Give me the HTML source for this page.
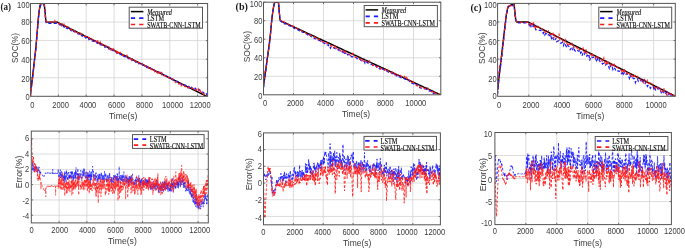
<!DOCTYPE html>
<html><head><meta charset="utf-8"><style>
html,body{margin:0;padding:0;background:#fff;width:685px;height:248px;overflow:hidden;font-family:"Liberation Sans",sans-serif;}
svg{display:block;filter:blur(0.3px);}
</style></head><body>
<svg width="685" height="248" viewBox="0 0 685 248">
<rect width="685" height="248" fill="#fff"/>
<clipPath id="ca"><rect x="30.5" y="3.5" width="177.1" height="92.8"/></clipPath>
<line x1="58.35" y1="3.5" x2="58.35" y2="96.3" stroke="#d3d3d3" stroke-width="0.8"/>
<line x1="86.2" y1="3.5" x2="86.2" y2="96.3" stroke="#d3d3d3" stroke-width="0.8"/>
<line x1="114.05" y1="3.5" x2="114.05" y2="96.3" stroke="#d3d3d3" stroke-width="0.8"/>
<line x1="141.9" y1="3.5" x2="141.9" y2="96.3" stroke="#d3d3d3" stroke-width="0.8"/>
<line x1="169.75" y1="3.5" x2="169.75" y2="96.3" stroke="#d3d3d3" stroke-width="0.8"/>
<line x1="197.6" y1="3.5" x2="197.6" y2="96.3" stroke="#d3d3d3" stroke-width="0.8"/>
<line x1="30.5" y1="77.74" x2="207.6" y2="77.74" stroke="#d3d3d3" stroke-width="0.8"/>
<line x1="30.5" y1="59.18" x2="207.6" y2="59.18" stroke="#d3d3d3" stroke-width="0.8"/>
<line x1="30.5" y1="40.62" x2="207.6" y2="40.62" stroke="#d3d3d3" stroke-width="0.8"/>
<line x1="30.5" y1="22.06" x2="207.6" y2="22.06" stroke="#d3d3d3" stroke-width="0.8"/>
<polyline points="30.5,93.5 30.6,92.4 30.8,91.2 30.9,90 31.1,88.9 31.2,87.7 31.3,86.6 31.5,85.4 31.6,84.2 31.8,83.1 31.9,81.9 32,80.8 32.2,79.6 32.3,78.4 32.4,77.3 32.6,76.1 32.7,75 32.9,73.8 33,72.6 33.1,71.5 33.3,70.3 33.4,69.1 33.6,67.8 33.7,66.6 33.8,65.4 34,64.1 34.1,62.9 34.3,61.7 34.4,60.4 34.5,59.2 34.7,57.9 34.8,56.7 35,55.5 35.1,54.2 35.2,53 35.4,51.8 35.5,50.5 35.7,49.3 35.8,48 35.9,46.8 36.1,45.3 36.2,43.7 36.3,42 36.5,40.3 36.6,38.6 36.8,36.9 36.9,35.2 37,33.5 37.2,31.8 37.3,30.2 37.5,28.5 37.6,26.8 37.7,25.1 37.9,23.4 38,21.7 38.2,20 38.3,18.3 38.4,17.2 38.6,16 38.7,14.9 38.9,13.7 39,12.5 39.1,11.4 39.3,10.2 39.4,9.1 39.6,8.4 39.7,7.7 39.8,7 40,6.3 40.1,5.6 40.2,4.9 40.4,4.7 40.5,4.4 40.7,4.2 40.8,4 40.9,3.7 41.1,3.5 41.2,3.5 41.4,3.5 41.5,3.5 41.6,3.5 41.8,3.5 41.9,3.5 42.1,3.5 42.2,3.5 42.3,3.5 42.5,3.5 42.6,3.5 42.8,3.5 42.9,3.5 43,3.5 43.2,3.5 43.3,3.5 43.5,3.5 43.6,3.5 43.7,3.5 43.9,3.5 44,3.5 44.1,3.5 44.3,4.7 44.4,6 44.6,7.2 44.7,8.4 44.8,9.7 45,10.9 45.1,12.5 45.3,14 45.4,15.6 45.5,17.1 45.7,18.7 45.8,20.2 46,20.7 46.1,21.1 46.2,21.6 46.4,22.1 46.5,22.1 46.7,22.1 46.8,22.1 46.9,22.1 47.1,22.1 47.2,22.1 47.3,22.1 47.5,22.1 47.6,22.1 47.8,22.1 47.9,22.1 48,22.1 48.2,22.1 48.3,22.1 48.5,22.1 48.6,22.1 48.7,22.1 48.9,22.1 49,22.1 49.2,22.1 49.3,22.1 49.4,22.1 49.6,22.1 49.7,22.1 49.9,22.1 50,22.1 50.1,22.1 50.3,22.1 50.4,22.1 50.6,22.1 50.7,22.1 50.8,22.1 51,22.1 51.1,22.1 51.2,22.1 51.4,22.1 51.5,22.1 51.7,22.1 51.8,22.1 51.9,22.1 52.1,22.1 52.2,22.1 52.4,22.1 52.5,22.1 52.6,22.1 52.8,22.1 52.9,22.1 53.1,22.1 53.2,22.1 53.3,22.1 53.5,22.1 53.6,22.1 53.8,22.1 53.9,22.1 54,22.1 54.2,22.1 54.3,22.1 54.5,22.1 54.6,22.1 54.7,22.1 54.9,22.1 55,22.1 55.1,22.1 55.3,22.1 55.4,22.1 55.6,22.1 55.7,22.1 55.8,22.1 56,22.1 56.1,22.1 56.3,22.1 56.4,22.1 56.5,22.1 56.7,22.1 56.8,22.1 57,22.1 57.1,22.1 57.2,22.2 57.4,22.3 57.5,22.3 57.7,22.4 57.8,22.5 57.9,22.5 58.1,22.6 58.2,22.7 58.4,22.8 58.5,22.8 58.6,22.9 58.8,23 58.9,23 59,23.1 59.2,23.2 59.3,23.2 59.5,23.3 59.6,23.4 59.7,23.4 59.9,23.5 60,23.6 60.2,23.6 60.3,23.7 60.4,23.8 60.6,23.9 60.7,23.9 60.9,24 61,24.1 61.1,24.1 61.3,24.2 61.4,24.3 61.6,24.3 61.7,24.4 61.8,24.5 62,24.5 62.1,24.6 62.2,24.7 62.4,24.8 62.5,24.8 62.7,24.9 62.8,25 62.9,25 63.1,25.1 63.2,25.2 63.4,25.2 63.5,25.3 63.6,25.4 63.8,25.4 63.9,25.5 64.1,25.6 64.2,25.7 64.3,25.7 64.5,25.8 64.6,25.9 64.8,25.9 64.9,26 65,26.1 65.2,26.1 65.3,26.2 65.5,26.3 65.6,26.3 65.7,26.4 65.9,26.5 66,26.5 66.1,26.6 66.3,26.7 66.4,26.8 66.6,26.8 66.7,26.9 66.8,27 67,27 67.1,27.1 67.3,27.2 67.4,27.2 67.5,27.3 67.7,27.4 67.8,27.4 68,27.5 68.1,27.6 68.2,27.7 68.4,27.7 68.5,27.8 68.7,27.9 68.8,27.9 68.9,28 69.1,28.1 69.2,28.1 69.4,28.2 69.5,28.3 69.6,28.3 69.8,28.4 69.9,28.5 70,28.6 70.2,28.6 70.3,28.7 70.5,28.8 70.6,28.8 70.7,28.9 70.9,29 71,29 71.2,29.1 71.3,29.2 71.4,29.2 71.6,29.3 71.7,29.4 71.9,29.4 72,29.5 72.1,29.6 72.3,29.7 72.4,29.7 72.6,29.8 72.7,29.9 72.8,29.9 73,30 73.1,30.1 73.3,30.1 73.4,30.2 73.5,30.3 73.7,30.3 73.8,30.4 73.9,30.5 74.1,30.6 74.2,30.6 74.4,30.7 74.5,30.8 74.6,30.8 74.8,30.9 74.9,31 75.1,31 75.2,31.1 75.3,31.2 75.5,31.2 75.6,31.3 75.8,31.4 75.9,31.5 76,31.5 76.2,31.6 76.3,31.7 76.5,31.7 76.6,31.8 76.7,31.9 76.9,31.9 77,32 77.1,32.1 77.3,32.1 77.4,32.2 77.6,32.3 77.7,32.4 77.8,32.4 78,32.5 78.1,32.6 78.3,32.6 78.4,32.7 78.5,32.8 78.7,32.8 78.8,32.9 79,33 79.1,33 79.2,33.1 79.4,33.2 79.5,33.2 79.7,33.3 79.8,33.4 79.9,33.5 80.1,33.5 80.2,33.6 80.4,33.7 80.5,33.7 80.6,33.8 80.8,33.9 80.9,33.9 81,34 81.2,34.1 81.3,34.1 81.5,34.2 81.6,34.3 81.7,34.4 81.9,34.4 82,34.5 82.2,34.6 82.3,34.6 82.4,34.7 82.6,34.8 82.7,34.8 82.9,34.9 83,35 83.1,35 83.3,35.1 83.4,35.2 83.6,35.3 83.7,35.3 83.8,35.4 84,35.5 84.1,35.5 84.3,35.6 84.4,35.7 84.5,35.7 84.7,35.8 84.8,35.9 84.9,35.9 85.1,36 85.2,36.1 85.4,36.1 85.5,36.2 85.6,36.3 85.8,36.4 85.9,36.4 86.1,36.5 86.2,36.6 86.3,36.6 86.5,36.7 86.6,36.8 86.8,36.8 86.9,36.9 87,37 87.2,37 87.3,37.1 87.5,37.2 87.6,37.3 87.7,37.3 87.9,37.4 88,37.5 88.2,37.5 88.3,37.6 88.4,37.7 88.6,37.7 88.7,37.8 88.8,37.9 89,37.9 89.1,38 89.3,38.1 89.4,38.2 89.5,38.2 89.7,38.3 89.8,38.4 90,38.4 90.1,38.5 90.2,38.6 90.4,38.6 90.5,38.7 90.7,38.8 90.8,38.8 90.9,38.9 91.1,39 91.2,39 91.4,39.1 91.5,39.2 91.6,39.3 91.8,39.3 91.9,39.4 92,39.5 92.2,39.5 92.3,39.6 92.5,39.7 92.6,39.7 92.7,39.8 92.9,39.9 93,39.9 93.2,40 93.3,40.1 93.4,40.2 93.6,40.2 93.7,40.3 93.9,40.4 94,40.4 94.1,40.5 94.3,40.6 94.4,40.6 94.6,40.7 94.7,40.8 94.8,40.8 95,40.9 95.1,41 95.3,41.1 95.4,41.1 95.5,41.2 95.7,41.3 95.8,41.3 95.9,41.4 96.1,41.5 96.2,41.5 96.4,41.6 96.5,41.7 96.6,41.7 96.8,41.8 96.9,41.9 97.1,41.9 97.2,42 97.3,42.1 97.5,42.2 97.6,42.2 97.8,42.3 97.9,42.4 98,42.4 98.2,42.5 98.3,42.6 98.5,42.6 98.6,42.7 98.7,42.8 98.9,42.8 99,42.9 99.2,43 99.3,43.1 99.4,43.1 99.6,43.2 99.7,43.3 99.8,43.3 100,43.4 100.1,43.5 100.3,43.5 100.4,43.6 100.5,43.7 100.7,43.7 100.8,43.8 101,43.9 101.1,44 101.2,44 101.4,44.1 101.5,44.2 101.7,44.2 101.8,44.3 101.9,44.4 102.1,44.4 102.2,44.5 102.4,44.6 102.5,44.6 102.6,44.7 102.8,44.8 102.9,44.8 103.1,44.9 103.2,45 103.3,45.1 103.5,45.1 103.6,45.2 103.7,45.3 103.9,45.3 104,45.4 104.2,45.5 104.3,45.5 104.4,45.6 104.6,45.7 104.7,45.7 104.9,45.8 105,45.9 105.1,46 105.3,46 105.4,46.1 105.6,46.2 105.7,46.2 105.8,46.3 106,46.4 106.1,46.4 106.3,46.5 106.4,46.6 106.5,46.6 106.7,46.7 106.8,46.8 106.9,46.9 107.1,46.9 107.2,47 107.4,47.1 107.5,47.1 107.6,47.2 107.8,47.3 107.9,47.3 108.1,47.4 108.2,47.5 108.3,47.5 108.5,47.6 108.6,47.7 108.8,47.8 108.9,47.8 109,47.9 109.2,48 109.3,48 109.5,48.1 109.6,48.2 109.7,48.2 109.9,48.3 110,48.4 110.2,48.4 110.3,48.5 110.4,48.6 110.6,48.6 110.7,48.7 110.8,48.8 111,48.9 111.1,48.9 111.3,49 111.4,49.1 111.5,49.1 111.7,49.2 111.8,49.3 112,49.3 112.1,49.4 112.2,49.5 112.4,49.5 112.5,49.6 112.7,49.7 112.8,49.8 112.9,49.8 113.1,49.9 113.2,50 113.4,50 113.5,50.1 113.6,50.2 113.8,50.2 113.9,50.3 114.1,50.4 114.2,50.4 114.3,50.5 114.5,50.6 114.6,50.7 114.7,50.7 114.9,50.8 115,50.9 115.2,50.9 115.3,51 115.4,51.1 115.6,51.1 115.7,51.2 115.9,51.3 116,51.3 116.1,51.4 116.3,51.5 116.4,51.5 116.6,51.6 116.7,51.7 116.8,51.8 117,51.8 117.1,51.9 117.3,52 117.4,52 117.5,52.1 117.7,52.2 117.8,52.2 117.9,52.3 118.1,52.4 118.2,52.4 118.4,52.5 118.5,52.6 118.6,52.7 118.8,52.7 118.9,52.8 119.1,52.9 119.2,52.9 119.3,53 119.5,53.1 119.6,53.1 119.8,53.2 119.9,53.3 120,53.3 120.2,53.4 120.3,53.5 120.5,53.6 120.6,53.6 120.7,53.7 120.9,53.8 121,53.8 121.2,53.9 121.3,54 121.4,54 121.6,54.1 121.7,54.2 121.8,54.2 122,54.3 122.1,54.4 122.3,54.4 122.4,54.5 122.5,54.6 122.7,54.7 122.8,54.7 123,54.8 123.1,54.9 123.2,54.9 123.4,55 123.5,55.1 123.7,55.1 123.8,55.2 123.9,55.3 124.1,55.3 124.2,55.4 124.4,55.5 124.5,55.6 124.6,55.6 124.8,55.7 124.9,55.8 125.1,55.8 125.2,55.9 125.3,56 125.5,56 125.6,56.1 125.7,56.2 125.9,56.2 126,56.3 126.2,56.4 126.3,56.5 126.4,56.5 126.6,56.6 126.7,56.7 126.9,56.7 127,56.8 127.1,56.9 127.3,56.9 127.4,57 127.6,57.1 127.7,57.1 127.8,57.2 128,57.3 128.1,57.3 128.3,57.4 128.4,57.5 128.5,57.6 128.7,57.6 128.8,57.7 129,57.8 129.1,57.8 129.2,57.9 129.4,58 129.5,58 129.6,58.1 129.8,58.2 129.9,58.2 130.1,58.3 130.2,58.4 130.3,58.5 130.5,58.5 130.6,58.6 130.8,58.7 130.9,58.7 131,58.8 131.2,58.9 131.3,58.9 131.5,59 131.6,59.1 131.7,59.1 131.9,59.2 132,59.3 132.2,59.4 132.3,59.4 132.4,59.5 132.6,59.6 132.7,59.6 132.8,59.7 133,59.8 133.1,59.8 133.3,59.9 133.4,60 133.5,60 133.7,60.1 133.8,60.2 134,60.3 134.1,60.3 134.2,60.4 134.4,60.5 134.5,60.5 134.7,60.6 134.8,60.7 134.9,60.7 135.1,60.8 135.2,60.9 135.4,60.9 135.5,61 135.6,61.1 135.8,61.1 135.9,61.2 136.1,61.3 136.2,61.4 136.3,61.4 136.5,61.5 136.6,61.6 136.7,61.6 136.9,61.7 137,61.8 137.2,61.8 137.3,61.9 137.4,62 137.6,62 137.7,62.1 137.9,62.2 138,62.3 138.1,62.3 138.3,62.4 138.4,62.5 138.6,62.5 138.7,62.6 138.8,62.7 139,62.7 139.1,62.8 139.3,62.9 139.4,62.9 139.5,63 139.7,63.1 139.8,63.2 140,63.2 140.1,63.3 140.2,63.4 140.4,63.4 140.5,63.5 140.6,63.6 140.8,63.6 140.9,63.7 141.1,63.8 141.2,63.8 141.3,63.9 141.5,64 141.6,64 141.8,64.1 141.9,64.2 142,64.3 142.2,64.3 142.3,64.4 142.5,64.5 142.6,64.5 142.7,64.6 142.9,64.7 143,64.7 143.2,64.8 143.3,64.9 143.4,64.9 143.6,65 143.7,65.1 143.9,65.2 144,65.2 144.1,65.3 144.3,65.4 144.4,65.4 144.5,65.5 144.7,65.6 144.8,65.6 145,65.7 145.1,65.8 145.2,65.8 145.4,65.9 145.5,66 145.7,66.1 145.8,66.1 145.9,66.2 146.1,66.3 146.2,66.3 146.4,66.4 146.5,66.5 146.6,66.5 146.8,66.6 146.9,66.7 147.1,66.7 147.2,66.8 147.3,66.9 147.5,66.9 147.6,67 147.7,67.1 147.9,67.2 148,67.2 148.2,67.3 148.3,67.4 148.4,67.4 148.6,67.5 148.7,67.6 148.9,67.6 149,67.7 149.1,67.8 149.3,67.8 149.4,67.9 149.6,68 149.7,68.1 149.8,68.1 150,68.2 150.1,68.3 150.3,68.3 150.4,68.4 150.5,68.5 150.7,68.5 150.8,68.6 151,68.7 151.1,68.7 151.2,68.8 151.4,68.9 151.5,69 151.6,69 151.8,69.1 151.9,69.2 152.1,69.2 152.2,69.3 152.3,69.4 152.5,69.4 152.6,69.5 152.8,69.6 152.9,69.6 153,69.7 153.2,69.8 153.3,69.8 153.5,69.9 153.6,70 153.7,70.1 153.9,70.1 154,70.2 154.2,70.3 154.3,70.3 154.4,70.4 154.6,70.5 154.7,70.5 154.9,70.6 155,70.7 155.1,70.7 155.3,70.8 155.4,70.9 155.5,71 155.7,71 155.8,71.1 156,71.2 156.1,71.2 156.2,71.3 156.4,71.4 156.5,71.4 156.7,71.5 156.8,71.6 156.9,71.6 157.1,71.7 157.2,71.8 157.4,71.9 157.5,71.9 157.6,72 157.8,72.1 157.9,72.1 158.1,72.2 158.2,72.3 158.3,72.3 158.5,72.4 158.6,72.5 158.8,72.5 158.9,72.6 159,72.7 159.2,72.8 159.3,72.8 159.4,72.9 159.6,73 159.7,73 159.9,73.1 160,73.2 160.1,73.2 160.3,73.3 160.4,73.4 160.6,73.4 160.7,73.5 160.8,73.6 161,73.6 161.1,73.7 161.3,73.8 161.4,73.9 161.5,73.9 161.7,74 161.8,74.1 162,74.1 162.1,74.2 162.2,74.3 162.4,74.3 162.5,74.4 162.6,74.5 162.8,74.5 162.9,74.6 163.1,74.7 163.2,74.8 163.3,74.8 163.5,74.9 163.6,75 163.8,75 163.9,75.1 164,75.2 164.2,75.2 164.3,75.3 164.5,75.4 164.6,75.4 164.7,75.5 164.9,75.6 165,75.7 165.2,75.7 165.3,75.8 165.4,75.9 165.6,75.9 165.7,76 165.9,76.1 166,76.1 166.1,76.2 166.3,76.3 166.4,76.3 166.5,76.4 166.7,76.5 166.8,76.5 167,76.6 167.1,76.7 167.2,76.8 167.4,76.8 167.5,76.9 167.7,77 167.8,77 167.9,77.1 168.1,77.2 168.2,77.2 168.4,77.3 168.5,77.4 168.6,77.4 168.8,77.5 168.9,77.6 169.1,77.7 169.2,77.7 169.3,77.8 169.5,77.9 169.6,77.9 169.8,78 169.9,78.1 170,78.1 170.2,78.2 170.3,78.3 170.4,78.3 170.6,78.4 170.7,78.5 170.9,78.6 171,78.6 171.1,78.7 171.3,78.8 171.4,78.8 171.6,78.9 171.7,79 171.8,79 172,79.1 172.1,79.2 172.3,79.2 172.4,79.3 172.5,79.4 172.7,79.4 172.8,79.5 173,79.6 173.1,79.7 173.2,79.7 173.4,79.8 173.5,79.9 173.7,79.9 173.8,80 173.9,80.1 174.1,80.1 174.2,80.2 174.3,80.3 174.5,80.3 174.6,80.4 174.8,80.5 174.9,80.6 175,80.6 175.2,80.7 175.3,80.8 175.5,80.8 175.6,80.9 175.7,81 175.9,81 176,81.1 176.2,81.2 176.3,81.2 176.4,81.3 176.6,81.4 176.7,81.5 176.9,81.5 177,81.6 177.1,81.7 177.3,81.7 177.4,81.8 177.5,81.9 177.7,81.9 177.8,82 178,82.1 178.1,82.1 178.2,82.2 178.4,82.3 178.5,82.3 178.7,82.4 178.8,82.5 178.9,82.6 179.1,82.6 179.2,82.7 179.4,82.8 179.5,82.8 179.6,82.9 179.8,83 179.9,83 180.1,83.1 180.2,83.2 180.3,83.2 180.5,83.3 180.6,83.4 180.8,83.5 180.9,83.5 181,83.6 181.2,83.7 181.3,83.7 181.4,83.8 181.6,83.9 181.7,83.9 181.9,84 182,84.1 182.1,84.1 182.3,84.2 182.4,84.3 182.6,84.4 182.7,84.4 182.8,84.5 183,84.6 183.1,84.6 183.3,84.7 183.4,84.8 183.5,84.8 183.7,84.9 183.8,85 184,85 184.1,85.1 184.2,85.2 184.4,85.3 184.5,85.3 184.7,85.4 184.8,85.5 184.9,85.5 185.1,85.6 185.2,85.7 185.3,85.7 185.5,85.8 185.6,85.9 185.8,85.9 185.9,86 186,86.1 186.2,86.1 186.3,86.2 186.5,86.3 186.6,86.4 186.7,86.4 186.9,86.5 187,86.6 187.2,86.6 187.3,86.7 187.4,86.8 187.6,86.8 187.7,86.9 187.9,87 188,87 188.1,87.1 188.3,87.2 188.4,87.3 188.6,87.3 188.7,87.4 188.8,87.5 189,87.5 189.1,87.6 189.2,87.7 189.4,87.7 189.5,87.8 189.7,87.9 189.8,87.9 189.9,88 190.1,88.1 190.2,88.2 190.4,88.2 190.5,88.3 190.6,88.4 190.8,88.4 190.9,88.5 191.1,88.6 191.2,88.6 191.3,88.7 191.5,88.8 191.6,88.8 191.8,88.9 191.9,89 192,89 192.2,89.1 192.3,89.2 192.4,89.3 192.6,89.3 192.7,89.4 192.9,89.5 193,89.5 193.1,89.6 193.3,89.7 193.4,89.7 193.6,89.8 193.7,89.9 193.8,89.9 194,90 194.1,90.1 194.3,90.2 194.4,90.2 194.5,90.3 194.7,90.4 194.8,90.4 195,90.5 195.1,90.6 195.2,90.6 195.4,90.7 195.5,90.8 195.7,90.8 195.8,90.9 195.9,91 196.1,91.1 196.2,91.1 196.3,91.2 196.5,91.3 196.6,91.3 196.8,91.4 196.9,91.5 197,91.5 197.2,91.6 197.3,91.7 197.5,91.7 197.6,91.8 197.7,91.9 197.9,91.9 198,92 198.2,92.1 198.3,92.2 198.4,92.2 198.6,92.3 198.7,92.4 198.9,92.4 199,92.5 199.1,92.6 199.3,92.6 199.4,92.7 199.6,92.8 199.7,92.8 199.8,92.9 200,93 200.1,93.1 200.2,93.1 200.4,93.2 200.5,93.3 200.7,93.3 200.8,93.4 200.9,93.5 201.1,93.5 201.2,93.6 201.4,93.7 201.5,93.7 201.6,93.8 201.8,93.9 201.9,94 202.1,94 202.2,94.1 202.3,94.2 202.5,94.2 202.6,94.3 202.8,94.4 202.9,94.4 203,94.5 203.2,94.6 203.3,94.6 203.5,94.7 203.6,94.8 203.7,94.8 203.9,94.9 204,95 204.1,95.1 204.3,95.1 204.4,95.2 204.6,95.3 204.7,95.3 204.8,95.4 205,95.5 205.1,95.5 205.3,95.6 205.4,95.7 205.5,95.7 205.7,95.8 205.8,95.9 206,96 206.1,96 206.2,96.1 206.4,96.2 206.5,96.2 206.7,96.3 206.8,96.4 206.9,96.4 207.1,96.5 207.2,96.6 207.3,96.6 207.5,96.7 207.6,96.8" fill="none" stroke="#000" stroke-width="1.4" clip-path="url(#ca)"/>
<polyline points="30.5,93.7 31,91.2 31.4,87.9 31.9,84.1 32.3,80.8 32.8,76.4 33.3,72.6 33.7,68 34.2,64.1 34.6,60.3 35.1,56.4 35.6,52 36,47.6 36.5,42.3 36.9,36.8 37.4,31.3 37.9,25.6 38.3,20.4 38.8,15.9 39.2,12.3 39.7,9.2 40.2,6.7 40.6,5.6 41.1,4.8 41.5,4.6 42,4.6 42.4,4.5 42.9,4.4 43.4,4.6 43.8,4.7 44.3,6.1 44.7,10.3 45.2,14.8 45.7,19.9 46.1,22.6 46.6,23.5 47,23.4 47.5,23.4 48,23.5 48.4,23.4 48.9,23.5 49.3,23.5 49.8,23.4 50.3,23.4 50.7,23.5 51.2,23.4 51.6,23.4 52.1,23.4 52.6,23.5 53,23.5 53.5,23.4 53.9,23.4 54.4,23.5 54.9,23.4 55.3,23.4 55.8,23.5 56.2,23.5 56.7,23.5 57.2,23.5 57.6,23.7 58.1,23.8 58.5,24 59,24 59.5,24.7 59.9,24.6 60.4,24.8 60.8,24.8 61.3,25.6 61.7,25.5 62.2,25.8 62.7,25.7 63.1,25.5 63.6,26.7 64,26.2 64.5,27.1 65,27.2 65.4,28 65.9,27.4 66.3,28.2 66.8,27.9 67.3,28.6 67.7,28.7 68.2,28.3 68.6,28.8 69.1,29 69.6,29.9 70,29.5 70.5,30.2 70.9,29.8 71.4,30.9 71.9,30.9 72.3,30.2 72.8,30.9 73.2,31.3 73.7,31.3 74.2,31.8 74.6,31.5 75.1,31.8 75.5,32.6 76,32.9 76.5,32.9 76.9,33.1 77.4,33.3 77.8,33.8 78.3,33.5 78.8,33.7 79.2,34.4 79.7,34.4 80.1,35.3 80.6,34.8 81,34.6 81.5,35.5 82,35.4 82.4,36.3 82.9,35.9 83.3,36.2 83.8,36.9 84.3,36.6 84.7,36.6 85.2,37.3 85.6,37.8 86.1,37.3 86.6,37.9 87,38.5 87.5,38.5 87.9,38 88.4,38.5 88.9,39.6 89.3,39.4 89.8,39.2 90.2,39.1 90.7,39.4 91.2,39.9 91.6,40.7 92.1,41.2 92.5,40.8 93,41.1 93.5,41.4 93.9,41.4 94.4,41 94.8,41.9 95.3,42 95.8,42.1 96.2,42.1 96.7,42 97.1,43.2 97.6,43.1 98.1,43.6 98.5,44 99,44.2 99.4,44 99.9,44 100.3,44.5 100.8,44.8 101.3,44.6 101.7,45.1 102.2,45 102.6,45.2 103.1,45.6 103.6,45.8 104,46.3 104.5,46.2 104.9,47.3 105.4,47 105.9,47 106.3,46.7 106.8,47.4 107.2,48.3 107.7,48.2 108.2,48.1 108.6,48.9 109.1,49.2 109.5,48.4 110,49 110.5,49.5 110.9,49.1 111.4,49.5 111.8,50 112.3,49.8 112.8,50.6 113.2,50.5 113.7,51.2 114.1,51.2 114.6,51.4 115.1,51.7 115.5,52.1 116,52.3 116.4,52.7 116.9,53.1 117.4,52.6 117.8,53 118.3,52.8 118.7,53.4 119.2,53.6 119.6,53.6 120.1,54.5 120.6,54.1 121,54.3 121.5,55.3 121.9,55.1 122.4,54.7 122.9,55.3 123.3,56.1 123.8,55.8 124.2,56.3 124.7,56.7 125.2,57 125.6,57.1 126.1,57.4 126.5,57.3 127,57.3 127.5,57.9 127.9,57.9 128.4,58.5 128.8,58.4 129.3,58.8 129.8,58.4 130.2,59 130.7,59.1 131.1,58.9 131.6,60.1 132.1,60.3 132.5,59.4 133,60 133.4,60.4 133.9,60.2 134.4,60.5 134.8,61.3 135.3,60.9 135.7,62.1 136.2,61.9 136.7,62.3 137.1,62.6 137.6,62.4 138,62.7 138.5,62.5 138.9,63.5 139.4,62.9 139.9,63.8 140.3,63.9 140.8,64.2 141.2,64.3 141.7,64.4 142.2,64.8 142.6,65.1 143.1,64.9 143.5,64.9 144,65.4 144.5,66.1 144.9,66.4 145.4,65.9 145.8,66.2 146.3,67 146.8,66.4 147.2,67.5 147.7,67.4 148.1,67.6 148.6,67.9 149.1,67.8 149.5,68.3 150,67.8 150.4,68 150.9,68.7 151.4,68.7 151.8,69 152.3,69.5 152.7,70 153.2,69.5 153.7,69.6 154.1,69.7 154.6,70.3 155,70.4 155.5,71.2 156,71.6 156.4,72 156.9,71.5 157.3,71.6 157.8,71.1 158.2,71.4 158.7,72.1 159.2,72.6 159.6,72.4 160.1,72.4 160.5,73 161,73.9 161.5,73.1 161.9,74.5 162.4,73.9 162.8,74.3 163.3,75 163.8,75.4 164.2,75.5 164.7,75.9 165.1,75.4 165.6,75.7 166.1,76.3 166.5,76.1 167,76.2 167.4,76.3 167.9,77.1 168.4,77 168.8,76.8 169.3,77.4 169.7,77.3 170.2,77.5 170.7,77.9 171.1,79.1 171.6,79.6 172,78.9 172.5,79.6 173,79.2 173.4,79.5 173.9,80.4 174.3,80.3 174.8,80.3 175.3,80.2 175.7,81 176.2,81.6 176.6,81.8 177.1,81.3 177.5,81.7 178,81.6 178.5,83 178.9,83.1 179.4,83.4 179.8,83.5 180.3,83.6 180.8,83.6 181.2,84.4 181.7,84.4 182.1,84.8 182.6,84.8 183.1,85.2 183.5,84.8 184,85 184.4,85.6 184.9,85 185.4,85.1 185.8,85.2 186.3,85.7 186.7,85.7 187.2,86.1 187.7,86.6 188.1,87.6 188.6,86.4 189,86.4 189.5,87.1 190,87.2 190.4,86.9 190.9,88 191.3,87.4 191.8,87.7 192.3,88.6 192.7,88.2 193.2,87.3 193.6,88.1 194.1,88.3 194.6,88.3 195,88.8 195.5,88.3 195.9,89.2 196.4,89.5 196.8,89.4 197.3,89.3 197.8,89.7 198.2,89.6 198.7,89.4 199.1,90.5 199.6,90 200.1,90.1 200.5,90.7 201,91.2 201.4,91.3 201.9,91.6 202.4,92.2 202.8,92.1 203.3,92.3 203.7,92.6 204.2,93.8 204.7,93.5 205.1,93.8 205.6,94.4 206,94.1 206.5,93.9 207,95.1 207.4,95.1" fill="none" stroke="#1a1aff" stroke-width="1.2" stroke-dasharray="3.2 2.2" clip-path="url(#ca)"/>
<polyline points="30.5,98.9 31,94.4 31.4,89.2 31.9,84.8 32.3,81 32.8,77.7 33.3,72.8 33.7,68 34.2,64.5 34.6,59.8 35.1,56.3 35.6,52.1 36,47.6 36.5,41.9 36.9,36.8 37.4,29.8 37.9,24.7 38.3,19.3 38.8,15.2 39.2,11.1 39.7,8.2 40.2,4.8 40.6,4.3 41.1,3.5 41.5,3.3 42,3.1 42.4,3 42.9,3 43.4,2.9 43.8,2.9 44.3,4 44.7,8.2 45.2,12.9 45.7,18.2 46.1,21 46.6,21.9 47,21.9 47.5,21.9 48,21.8 48.4,21.8 48.9,21.8 49.3,21.8 49.8,21.9 50.3,21.8 50.7,21.9 51.2,21.9 51.6,21.9 52.1,21.9 52.6,21.9 53,21.9 53.5,21.9 53.9,21.9 54.4,21.9 54.9,20.8 55.3,21.9 55.8,21.9 56.2,21.9 56.7,21.8 57.2,22 57.6,22.6 58.1,22.6 58.5,22.5 59,24 59.5,23.4 59.9,24.1 60.4,24 60.8,24.5 61.3,25.2 61.7,25.9 62.2,23.9 62.7,24.5 63.1,25.4 63.6,24.9 64,24.2 64.5,25.4 65,25.6 65.4,26.8 65.9,26.9 66.3,26 66.8,27.3 67.3,26.8 67.7,27 68.2,26.9 68.6,27.7 69.1,27.4 69.6,27.8 70,28.3 70.5,29.9 70.9,29.5 71.4,29.7 71.9,29.3 72.3,29.6 72.8,30.3 73.2,30.5 73.7,30.5 74.2,31.1 74.6,30.8 75.1,31.8 75.5,31 76,31.5 76.5,32.5 76.9,32.5 77.4,32.8 77.8,32.6 78.3,33.5 78.8,33.9 79.2,33 79.7,33.4 80.1,33.5 80.6,33.2 81,34 81.5,34.6 82,34.3 82.4,34.1 82.9,34.2 83.3,35.4 83.8,35.8 84.3,36 84.7,36.4 85.2,36.2 85.6,36.2 86.1,36.5 86.6,36.4 87,36.9 87.5,37.7 87.9,37.2 88.4,37.7 88.9,37.7 89.3,37.5 89.8,38.7 90.2,38 90.7,38.7 91.2,39.1 91.6,38.7 92.1,39.7 92.5,39.7 93,40 93.5,40.4 93.9,41.5 94.4,41 94.8,41 95.3,41 95.8,41.5 96.2,42 96.7,41.3 97.1,41.8 97.6,40 98.1,42.6 98.5,42.4 99,42.3 99.4,42.6 99.9,44.1 100.3,42.1 100.8,43.1 101.3,44.7 101.7,43.8 102.2,44.2 102.6,44.2 103.1,45.3 103.6,45.1 104,45 104.5,45.3 104.9,44.8 105.4,45.1 105.9,46.7 106.3,45.9 106.8,46.5 107.2,46.3 107.7,46.7 108.2,46.9 108.6,46.8 109.1,47 109.5,48.7 110,47.8 110.5,48.6 110.9,49.8 111.4,48.8 111.8,48.9 112.3,49.6 112.8,48.7 113.2,50 113.7,49 114.1,50.1 114.6,51.6 115.1,50.7 115.5,50.8 116,51.2 116.4,52 116.9,52.7 117.4,50.1 117.8,52.8 118.3,52.2 118.7,51 119.2,52.8 119.6,52.5 120.1,52.3 120.6,53.1 121,54.1 121.5,53.4 121.9,54.2 122.4,54.9 122.9,55.4 123.3,55.5 123.8,55 124.2,55.5 124.7,56.1 125.2,55.7 125.6,56.1 126.1,56.6 126.5,56.7 127,55.4 127.5,56.9 127.9,57.5 128.4,57.4 128.8,57.8 129.3,58.4 129.8,58.4 130.2,58.4 130.7,59.8 131.1,58.7 131.6,60 132.1,58.9 132.5,59.4 133,59.5 133.4,59.8 133.9,59 134.4,60.2 134.8,60.5 135.3,61.3 135.7,61.3 136.2,61.2 136.7,61.5 137.1,61 137.6,62.5 138,62.2 138.5,62.2 138.9,62.5 139.4,63 139.9,62.6 140.3,62.2 140.8,62.4 141.2,63.8 141.7,64.4 142.2,63.6 142.6,64.5 143.1,64.1 143.5,65.1 144,65.7 144.5,65.3 144.9,65.7 145.4,66.1 145.8,65.9 146.3,66.6 146.8,66.8 147.2,66.3 147.7,67.3 148.1,66.8 148.6,68.4 149.1,68 149.5,68.8 150,68.1 150.4,68.7 150.9,68.4 151.4,69 151.8,69.6 152.3,68.1 152.7,69.2 153.2,70 153.7,70.4 154.1,70 154.6,71.3 155,70 155.5,70.9 156,71.2 156.4,71.9 156.9,72.4 157.3,73.2 157.8,72 158.2,72.3 158.7,71.8 159.2,73 159.6,72.9 160.1,72.5 160.5,73.4 161,72.6 161.5,74.1 161.9,73 162.4,74.6 162.8,74.2 163.3,74.7 163.8,75.8 164.2,75.6 164.7,75.6 165.1,75.7 165.6,76.2 166.1,75.9 166.5,76.6 167,76.8 167.4,76.7 167.9,76.7 168.4,77.8 168.8,78 169.3,77.6 169.7,77.4 170.2,78.1 170.7,79.2 171.1,79.2 171.6,78.5 172,78.6 172.5,78.9 173,79.8 173.4,80.4 173.9,80.6 174.3,80.5 174.8,80.8 175.3,82.3 175.7,81.6 176.2,81.9 176.6,81.9 177.1,82.2 177.5,82.6 178,82.5 178.5,83.7 178.9,83.3 179.4,84 179.8,83.7 180.3,83.1 180.8,84.2 181.2,85.9 181.7,85.3 182.1,84.5 182.6,85.5 183.1,85.4 183.5,86.3 184,85.6 184.4,86.2 184.9,86.6 185.4,86.8 185.8,86.3 186.3,87.5 186.7,87.3 187.2,87.5 187.7,87.4 188.1,87 188.6,87.5 189,87.6 189.5,87.8 190,88.2 190.4,88.5 190.9,87.5 191.3,87.8 191.8,88.4 192.3,88.1 192.7,88.2 193.2,88.4 193.6,88.9 194.1,88.6 194.6,88.7 195,89.9 195.5,89.7 195.9,90.5 196.4,89.4 196.8,89.6 197.3,89.1 197.8,90.1 198.2,89.1 198.7,90.7 199.1,90.1 199.6,91 200.1,92.1 200.5,91.1 201,91.9 201.4,92.2 201.9,92.4 202.4,93.7 202.8,92.7 203.3,93.2 203.7,94.7 204.2,94.2 204.7,95.3 205.1,95.7 205.6,96.1 206,95.9 206.5,96.2 207,96.5 207.4,97.8" fill="none" stroke="#ff1a1a" stroke-width="1.1" stroke-dasharray="3.2 2.2" clip-path="url(#ca)" stroke-dashoffset="2.7"/>
<rect x="30.5" y="3.5" width="177.1" height="92.8" fill="none" stroke="#555555" stroke-width="1"/>
<line x1="58.35" y1="96.3" x2="58.35" y2="94.5" stroke="#555555" stroke-width="0.8"/>
<line x1="58.35" y1="3.5" x2="58.35" y2="5.3" stroke="#555555" stroke-width="0.8"/>
<line x1="86.2" y1="96.3" x2="86.2" y2="94.5" stroke="#555555" stroke-width="0.8"/>
<line x1="86.2" y1="3.5" x2="86.2" y2="5.3" stroke="#555555" stroke-width="0.8"/>
<line x1="114.05" y1="96.3" x2="114.05" y2="94.5" stroke="#555555" stroke-width="0.8"/>
<line x1="114.05" y1="3.5" x2="114.05" y2="5.3" stroke="#555555" stroke-width="0.8"/>
<line x1="141.9" y1="96.3" x2="141.9" y2="94.5" stroke="#555555" stroke-width="0.8"/>
<line x1="141.9" y1="3.5" x2="141.9" y2="5.3" stroke="#555555" stroke-width="0.8"/>
<line x1="169.75" y1="96.3" x2="169.75" y2="94.5" stroke="#555555" stroke-width="0.8"/>
<line x1="169.75" y1="3.5" x2="169.75" y2="5.3" stroke="#555555" stroke-width="0.8"/>
<line x1="197.6" y1="96.3" x2="197.6" y2="94.5" stroke="#555555" stroke-width="0.8"/>
<line x1="197.6" y1="3.5" x2="197.6" y2="5.3" stroke="#555555" stroke-width="0.8"/>
<line x1="30.5" y1="77.74" x2="32.3" y2="77.74" stroke="#555555" stroke-width="0.8"/>
<line x1="207.6" y1="77.74" x2="205.8" y2="77.74" stroke="#555555" stroke-width="0.8"/>
<line x1="30.5" y1="59.18" x2="32.3" y2="59.18" stroke="#555555" stroke-width="0.8"/>
<line x1="207.6" y1="59.18" x2="205.8" y2="59.18" stroke="#555555" stroke-width="0.8"/>
<line x1="30.5" y1="40.62" x2="32.3" y2="40.62" stroke="#555555" stroke-width="0.8"/>
<line x1="207.6" y1="40.62" x2="205.8" y2="40.62" stroke="#555555" stroke-width="0.8"/>
<line x1="30.5" y1="22.06" x2="32.3" y2="22.06" stroke="#555555" stroke-width="0.8"/>
<line x1="207.6" y1="22.06" x2="205.8" y2="22.06" stroke="#555555" stroke-width="0.8"/>
<clipPath id="cb"><rect x="263.5" y="2.2" width="177.3" height="92.6"/></clipPath>
<line x1="293.5" y1="2.2" x2="293.5" y2="94.8" stroke="#d3d3d3" stroke-width="0.8"/>
<line x1="323.5" y1="2.2" x2="323.5" y2="94.8" stroke="#d3d3d3" stroke-width="0.8"/>
<line x1="353.5" y1="2.2" x2="353.5" y2="94.8" stroke="#d3d3d3" stroke-width="0.8"/>
<line x1="383.5" y1="2.2" x2="383.5" y2="94.8" stroke="#d3d3d3" stroke-width="0.8"/>
<line x1="413.5" y1="2.2" x2="413.5" y2="94.8" stroke="#d3d3d3" stroke-width="0.8"/>
<line x1="263.5" y1="76.28" x2="440.8" y2="76.28" stroke="#d3d3d3" stroke-width="0.8"/>
<line x1="263.5" y1="57.76" x2="440.8" y2="57.76" stroke="#d3d3d3" stroke-width="0.8"/>
<line x1="263.5" y1="39.24" x2="440.8" y2="39.24" stroke="#d3d3d3" stroke-width="0.8"/>
<line x1="263.5" y1="20.72" x2="440.8" y2="20.72" stroke="#d3d3d3" stroke-width="0.8"/>
<polyline points="263.5,86.5 263.6,85.4 263.8,84.3 263.9,83.2 264.1,82.1 264.2,81 264.4,79.9 264.6,78.7 264.7,77.6 264.9,76.5 265,75.4 265.1,74.3 265.3,73.2 265.4,72.1 265.6,71 265.8,69.9 265.9,68.8 266.1,67.7 266.2,66.6 266.4,65.5 266.5,64.4 266.6,63.3 266.8,62.2 266.9,61.1 267.1,60 267.2,58.9 267.4,57.8 267.6,56.7 267.7,55.6 267.9,54.5 268,53.4 268.1,52.3 268.3,51.2 268.4,50.1 268.6,49 268.8,47.9 268.9,46.8 269.1,45.7 269.2,44.6 269.4,43.5 269.5,42.4 269.6,41.3 269.8,40.2 269.9,38.6 270.1,37.1 270.2,35.6 270.4,34.1 270.6,32.6 270.7,31 270.9,29.5 271,28 271.1,26.5 271.3,25 271.4,23.4 271.6,21.9 271.8,20.4 271.9,18.9 272.1,17.7 272.2,16.6 272.4,15.5 272.5,14.3 272.6,13.2 272.8,12.1 272.9,10.9 273.1,9.8 273.2,8.7 273.4,8 273.6,7.2 273.7,6.5 273.9,5.8 274,5 274.1,4.3 274.3,3.6 274.4,3.4 274.6,3.1 274.8,2.9 274.9,2.7 275.1,2.4 275.2,2.2 275.4,2.2 275.5,2.2 275.6,2.2 275.8,2.2 275.9,2.2 276.1,2.2 276.2,2.2 276.4,2.2 276.6,2.2 276.7,2.2 276.9,2.2 277,2.2 277.1,2.2 277.3,2.2 277.4,2.2 277.6,2.2 277.8,2.2 277.9,2.2 278.1,2.2 278.2,2.2 278.4,2.2 278.5,2.2 278.6,4.1 278.8,5.9 278.9,7.8 279.1,9.6 279.2,11.5 279.4,13.3 279.6,15.2 279.7,17 279.9,18.9 280,19.3 280.1,19.8 280.3,20.3 280.4,20.7 280.6,20.8 280.8,20.9 280.9,20.9 281.1,21 281.2,21.1 281.4,21.1 281.5,21.2 281.6,21.3 281.8,21.3 281.9,21.4 282.1,21.5 282.2,21.6 282.4,21.6 282.6,21.7 282.7,21.8 282.9,21.8 283,21.9 283.1,22 283.3,22 283.4,22.1 283.6,22.2 283.8,22.2 283.9,22.3 284.1,22.4 284.2,22.5 284.4,22.5 284.5,22.6 284.6,22.7 284.8,22.7 284.9,22.8 285.1,22.9 285.2,22.9 285.4,23 285.6,23.1 285.7,23.1 285.9,23.2 286,23.3 286.1,23.4 286.3,23.4 286.4,23.5 286.6,23.6 286.8,23.6 286.9,23.7 287.1,23.8 287.2,23.8 287.4,23.9 287.5,24 287.6,24.1 287.8,24.1 287.9,24.2 288.1,24.3 288.2,24.3 288.4,24.4 288.6,24.5 288.7,24.5 288.9,24.6 289,24.7 289.1,24.7 289.3,24.8 289.4,24.9 289.6,25 289.8,25 289.9,25.1 290.1,25.2 290.2,25.2 290.4,25.3 290.5,25.4 290.6,25.4 290.8,25.5 290.9,25.6 291.1,25.6 291.2,25.7 291.4,25.8 291.6,25.9 291.7,25.9 291.9,26 292,26.1 292.1,26.1 292.3,26.2 292.4,26.3 292.6,26.3 292.8,26.4 292.9,26.5 293.1,26.6 293.2,26.6 293.4,26.7 293.5,26.8 293.6,26.8 293.8,26.9 293.9,27 294.1,27 294.2,27.1 294.4,27.2 294.6,27.2 294.7,27.3 294.9,27.4 295,27.5 295.1,27.5 295.3,27.6 295.4,27.7 295.6,27.7 295.8,27.8 295.9,27.9 296.1,27.9 296.2,28 296.4,28.1 296.5,28.1 296.6,28.2 296.8,28.3 296.9,28.4 297.1,28.4 297.2,28.5 297.4,28.6 297.6,28.6 297.7,28.7 297.9,28.8 298,28.8 298.1,28.9 298.3,29 298.4,29.1 298.6,29.1 298.8,29.2 298.9,29.3 299.1,29.3 299.2,29.4 299.4,29.5 299.5,29.5 299.6,29.6 299.8,29.7 299.9,29.7 300.1,29.8 300.2,29.9 300.4,30 300.6,30 300.7,30.1 300.9,30.2 301,30.2 301.1,30.3 301.3,30.4 301.4,30.4 301.6,30.5 301.8,30.6 301.9,30.6 302.1,30.7 302.2,30.8 302.4,30.9 302.5,30.9 302.6,31 302.8,31.1 302.9,31.1 303.1,31.2 303.2,31.3 303.4,31.3 303.6,31.4 303.7,31.5 303.9,31.6 304,31.6 304.1,31.7 304.3,31.8 304.4,31.8 304.6,31.9 304.8,32 304.9,32 305.1,32.1 305.2,32.2 305.4,32.2 305.5,32.3 305.6,32.4 305.8,32.5 305.9,32.5 306.1,32.6 306.2,32.7 306.4,32.7 306.6,32.8 306.7,32.9 306.9,32.9 307,33 307.1,33.1 307.3,33.1 307.4,33.2 307.6,33.3 307.8,33.4 307.9,33.4 308.1,33.5 308.2,33.6 308.4,33.6 308.5,33.7 308.6,33.8 308.8,33.8 308.9,33.9 309.1,34 309.2,34.1 309.4,34.1 309.6,34.2 309.7,34.3 309.9,34.3 310,34.4 310.1,34.5 310.3,34.5 310.4,34.6 310.6,34.7 310.8,34.7 310.9,34.8 311.1,34.9 311.2,35 311.4,35 311.5,35.1 311.6,35.2 311.8,35.2 311.9,35.3 312.1,35.4 312.2,35.4 312.4,35.5 312.6,35.6 312.7,35.6 312.9,35.7 313,35.8 313.1,35.9 313.3,35.9 313.4,36 313.6,36.1 313.8,36.1 313.9,36.2 314.1,36.3 314.2,36.3 314.4,36.4 314.5,36.5 314.6,36.5 314.8,36.6 314.9,36.7 315.1,36.8 315.2,36.8 315.4,36.9 315.6,37 315.7,37 315.9,37.1 316,37.2 316.1,37.2 316.3,37.3 316.4,37.4 316.6,37.5 316.8,37.5 316.9,37.6 317.1,37.7 317.2,37.7 317.4,37.8 317.5,37.9 317.6,37.9 317.8,38 317.9,38.1 318.1,38.1 318.2,38.2 318.4,38.3 318.6,38.4 318.7,38.4 318.9,38.5 319,38.6 319.1,38.6 319.3,38.7 319.4,38.8 319.6,38.8 319.8,38.9 319.9,39 320.1,39 320.2,39.1 320.4,39.2 320.5,39.3 320.6,39.3 320.8,39.4 320.9,39.5 321.1,39.5 321.2,39.6 321.4,39.7 321.6,39.7 321.7,39.8 321.9,39.9 322,40 322.1,40 322.3,40.1 322.4,40.2 322.6,40.2 322.8,40.3 322.9,40.4 323.1,40.4 323.2,40.5 323.4,40.6 323.5,40.6 323.6,40.7 323.8,40.8 323.9,40.9 324.1,40.9 324.2,41 324.4,41.1 324.6,41.1 324.7,41.2 324.9,41.3 325,41.3 325.1,41.4 325.3,41.5 325.4,41.5 325.6,41.6 325.8,41.7 325.9,41.8 326.1,41.8 326.2,41.9 326.4,42 326.5,42 326.6,42.1 326.8,42.2 326.9,42.2 327.1,42.3 327.2,42.4 327.4,42.5 327.6,42.5 327.7,42.6 327.9,42.7 328,42.7 328.1,42.8 328.3,42.9 328.4,42.9 328.6,43 328.8,43.1 328.9,43.1 329.1,43.2 329.2,43.3 329.4,43.4 329.5,43.4 329.6,43.5 329.8,43.6 329.9,43.6 330.1,43.7 330.2,43.8 330.4,43.8 330.6,43.9 330.7,44 330.9,44 331,44.1 331.1,44.2 331.3,44.3 331.4,44.3 331.6,44.4 331.8,44.5 331.9,44.5 332.1,44.6 332.2,44.7 332.4,44.7 332.5,44.8 332.6,44.9 332.8,45 332.9,45 333.1,45.1 333.2,45.2 333.4,45.2 333.6,45.3 333.7,45.4 333.9,45.4 334,45.5 334.1,45.6 334.3,45.6 334.4,45.7 334.6,45.8 334.8,45.9 334.9,45.9 335.1,46 335.2,46.1 335.4,46.1 335.5,46.2 335.6,46.3 335.8,46.3 335.9,46.4 336.1,46.5 336.2,46.5 336.4,46.6 336.6,46.7 336.7,46.8 336.9,46.8 337,46.9 337.1,47 337.3,47 337.4,47.1 337.6,47.2 337.8,47.2 337.9,47.3 338.1,47.4 338.2,47.4 338.4,47.5 338.5,47.6 338.6,47.7 338.8,47.7 338.9,47.8 339.1,47.9 339.2,47.9 339.4,48 339.6,48.1 339.7,48.1 339.9,48.2 340,48.3 340.1,48.4 340.3,48.4 340.4,48.5 340.6,48.6 340.8,48.6 340.9,48.7 341.1,48.8 341.2,48.8 341.4,48.9 341.5,49 341.6,49 341.8,49.1 341.9,49.2 342.1,49.3 342.2,49.3 342.4,49.4 342.6,49.5 342.7,49.5 342.9,49.6 343,49.7 343.1,49.7 343.3,49.8 343.4,49.9 343.6,49.9 343.8,50 343.9,50.1 344.1,50.2 344.2,50.2 344.4,50.3 344.5,50.4 344.6,50.4 344.8,50.5 344.9,50.6 345.1,50.6 345.2,50.7 345.4,50.8 345.6,50.9 345.7,50.9 345.9,51 346,51.1 346.1,51.1 346.3,51.2 346.4,51.3 346.6,51.3 346.8,51.4 346.9,51.5 347.1,51.5 347.2,51.6 347.4,51.7 347.5,51.8 347.6,51.8 347.8,51.9 347.9,52 348.1,52 348.2,52.1 348.4,52.2 348.6,52.2 348.7,52.3 348.9,52.4 349,52.4 349.1,52.5 349.3,52.6 349.4,52.7 349.6,52.7 349.8,52.8 349.9,52.9 350.1,52.9 350.2,53 350.4,53.1 350.5,53.1 350.6,53.2 350.8,53.3 350.9,53.4 351.1,53.4 351.2,53.5 351.4,53.6 351.6,53.6 351.7,53.7 351.9,53.8 352,53.8 352.1,53.9 352.3,54 352.4,54 352.6,54.1 352.8,54.2 352.9,54.3 353.1,54.3 353.2,54.4 353.4,54.5 353.5,54.5 353.6,54.6 353.8,54.7 353.9,54.7 354.1,54.8 354.2,54.9 354.4,54.9 354.6,55 354.7,55.1 354.9,55.2 355,55.2 355.1,55.3 355.3,55.4 355.4,55.4 355.6,55.5 355.8,55.6 355.9,55.6 356.1,55.7 356.2,55.8 356.4,55.9 356.5,55.9 356.6,56 356.8,56.1 356.9,56.1 357.1,56.2 357.2,56.3 357.4,56.3 357.6,56.4 357.7,56.5 357.9,56.5 358,56.6 358.1,56.7 358.3,56.8 358.4,56.8 358.6,56.9 358.8,57 358.9,57 359.1,57.1 359.2,57.2 359.4,57.2 359.5,57.3 359.6,57.4 359.8,57.4 359.9,57.5 360.1,57.6 360.2,57.7 360.4,57.7 360.6,57.8 360.7,57.9 360.9,57.9 361,58 361.1,58.1 361.3,58.1 361.4,58.2 361.6,58.3 361.8,58.4 361.9,58.4 362.1,58.5 362.2,58.6 362.4,58.6 362.5,58.7 362.6,58.8 362.8,58.8 362.9,58.9 363.1,59 363.2,59 363.4,59.1 363.6,59.2 363.7,59.3 363.9,59.3 364,59.4 364.1,59.5 364.3,59.5 364.4,59.6 364.6,59.7 364.8,59.7 364.9,59.8 365.1,59.9 365.2,59.9 365.4,60 365.5,60.1 365.6,60.2 365.8,60.2 365.9,60.3 366.1,60.4 366.2,60.4 366.4,60.5 366.6,60.6 366.7,60.6 366.9,60.7 367,60.8 367.1,60.8 367.3,60.9 367.4,61 367.6,61.1 367.8,61.1 367.9,61.2 368.1,61.3 368.2,61.3 368.4,61.4 368.5,61.5 368.6,61.5 368.8,61.6 368.9,61.7 369.1,61.8 369.2,61.8 369.4,61.9 369.6,62 369.7,62 369.9,62.1 370,62.2 370.1,62.2 370.3,62.3 370.4,62.4 370.6,62.4 370.8,62.5 370.9,62.6 371.1,62.7 371.2,62.7 371.4,62.8 371.5,62.9 371.6,62.9 371.8,63 371.9,63.1 372.1,63.1 372.2,63.2 372.4,63.3 372.6,63.3 372.7,63.4 372.9,63.5 373,63.6 373.1,63.6 373.3,63.7 373.4,63.8 373.6,63.8 373.8,63.9 373.9,64 374.1,64 374.2,64.1 374.4,64.2 374.5,64.3 374.6,64.3 374.8,64.4 374.9,64.5 375.1,64.5 375.2,64.6 375.4,64.7 375.6,64.7 375.7,64.8 375.9,64.9 376,64.9 376.1,65 376.3,65.1 376.4,65.2 376.6,65.2 376.8,65.3 376.9,65.4 377.1,65.4 377.2,65.5 377.4,65.6 377.5,65.6 377.6,65.7 377.8,65.8 377.9,65.8 378.1,65.9 378.2,66 378.4,66.1 378.6,66.1 378.7,66.2 378.9,66.3 379,66.3 379.1,66.4 379.3,66.5 379.4,66.5 379.6,66.6 379.8,66.7 379.9,66.8 380.1,66.8 380.2,66.9 380.4,67 380.5,67 380.6,67.1 380.8,67.2 380.9,67.2 381.1,67.3 381.2,67.4 381.4,67.4 381.6,67.5 381.7,67.6 381.9,67.7 382,67.7 382.1,67.8 382.3,67.9 382.4,67.9 382.6,68 382.8,68.1 382.9,68.1 383.1,68.2 383.2,68.3 383.4,68.3 383.5,68.4 383.6,68.5 383.8,68.6 383.9,68.6 384.1,68.7 384.2,68.8 384.4,68.8 384.6,68.9 384.7,69 384.9,69 385,69.1 385.1,69.2 385.3,69.3 385.4,69.3 385.6,69.4 385.8,69.5 385.9,69.5 386.1,69.6 386.2,69.7 386.4,69.7 386.5,69.8 386.6,69.9 386.8,69.9 386.9,70 387.1,70.1 387.2,70.2 387.4,70.2 387.6,70.3 387.7,70.4 387.9,70.4 388,70.5 388.1,70.6 388.3,70.6 388.4,70.7 388.6,70.8 388.8,70.8 388.9,70.9 389.1,71 389.2,71.1 389.4,71.1 389.5,71.2 389.6,71.3 389.8,71.3 389.9,71.4 390.1,71.5 390.2,71.5 390.4,71.6 390.6,71.7 390.7,71.7 390.9,71.8 391,71.9 391.1,72 391.3,72 391.4,72.1 391.6,72.2 391.8,72.2 391.9,72.3 392.1,72.4 392.2,72.4 392.4,72.5 392.5,72.6 392.6,72.7 392.8,72.7 392.9,72.8 393.1,72.9 393.2,72.9 393.4,73 393.6,73.1 393.7,73.1 393.9,73.2 394,73.3 394.1,73.3 394.3,73.4 394.4,73.5 394.6,73.6 394.8,73.6 394.9,73.7 395.1,73.8 395.2,73.8 395.4,73.9 395.5,74 395.6,74 395.8,74.1 395.9,74.2 396.1,74.2 396.2,74.3 396.4,74.4 396.6,74.5 396.7,74.5 396.9,74.6 397,74.7 397.1,74.7 397.3,74.8 397.4,74.9 397.6,74.9 397.8,75 397.9,75.1 398.1,75.2 398.2,75.2 398.4,75.3 398.5,75.4 398.6,75.4 398.8,75.5 398.9,75.6 399.1,75.6 399.2,75.7 399.4,75.8 399.6,75.8 399.7,75.9 399.9,76 400,76.1 400.1,76.1 400.3,76.2 400.4,76.3 400.6,76.3 400.8,76.4 400.9,76.5 401.1,76.5 401.2,76.6 401.4,76.7 401.5,76.7 401.6,76.8 401.8,76.9 401.9,77 402.1,77 402.2,77.1 402.4,77.2 402.6,77.2 402.7,77.3 402.9,77.4 403,77.4 403.1,77.5 403.3,77.6 403.4,77.7 403.6,77.7 403.8,77.8 403.9,77.9 404.1,77.9 404.2,78 404.4,78.1 404.5,78.1 404.6,78.2 404.8,78.3 404.9,78.3 405.1,78.4 405.2,78.5 405.4,78.6 405.6,78.6 405.7,78.7 405.9,78.8 406,78.8 406.1,78.9 406.3,79 406.4,79 406.6,79.1 406.8,79.2 406.9,79.2 407.1,79.3 407.2,79.4 407.4,79.5 407.5,79.5 407.6,79.6 407.8,79.7 407.9,79.7 408.1,79.8 408.2,79.9 408.4,79.9 408.6,80 408.7,80.1 408.9,80.2 409,80.2 409.1,80.3 409.3,80.4 409.4,80.4 409.6,80.5 409.8,80.6 409.9,80.6 410.1,80.7 410.2,80.8 410.4,80.8 410.5,80.9 410.6,81 410.8,81.1 410.9,81.1 411.1,81.2 411.2,81.3 411.4,81.3 411.6,81.4 411.7,81.5 411.9,81.5 412,81.6 412.1,81.7 412.3,81.7 412.4,81.8 412.6,81.9 412.8,82 412.9,82 413.1,82.1 413.2,82.2 413.4,82.2 413.5,82.3 413.6,82.4 413.8,82.4 413.9,82.5 414.1,82.6 414.2,82.7 414.4,82.7 414.6,82.8 414.7,82.9 414.9,82.9 415,83 415.1,83.1 415.3,83.1 415.4,83.2 415.6,83.3 415.8,83.3 415.9,83.4 416.1,83.5 416.2,83.6 416.4,83.6 416.5,83.7 416.6,83.8 416.8,83.8 416.9,83.9 417.1,84 417.2,84 417.4,84.1 417.6,84.2 417.7,84.2 417.9,84.3 418,84.4 418.1,84.5 418.3,84.5 418.5,84.6 418.6,84.7 418.8,84.7 418.9,84.8 419.1,84.9 419.2,84.9 419.4,85 419.5,85.1 419.6,85.1 419.8,85.2 420,85.3 420.1,85.4 420.2,85.4 420.4,85.5 420.6,85.6 420.7,85.6 420.9,85.7 421,85.8 421.1,85.8 421.3,85.9 421.5,86 421.6,86.1 421.8,86.1 421.9,86.2 422.1,86.3 422.2,86.3 422.4,86.4 422.5,86.5 422.6,86.5 422.8,86.6 423,86.7 423.1,86.7 423.2,86.8 423.4,86.9 423.6,87 423.7,87 423.9,87.1 424,87.2 424.1,87.2 424.3,87.3 424.5,87.4 424.6,87.4 424.8,87.5 424.9,87.6 425.1,87.6 425.2,87.7 425.4,87.8 425.5,87.9 425.6,87.9 425.8,88 426,88.1 426.1,88.1 426.2,88.2 426.4,88.3 426.6,88.3 426.7,88.4 426.9,88.5 427,88.6 427.1,88.6 427.3,88.7 427.5,88.8 427.6,88.8 427.8,88.9 427.9,89 428.1,89 428.2,89.1 428.4,89.2 428.5,89.2 428.6,89.3 428.8,89.4 429,89.5 429.1,89.5 429.2,89.6 429.4,89.7 429.6,89.7 429.7,89.8 429.9,89.9 430,89.9 430.1,90 430.3,90.1 430.5,90.1 430.6,90.2 430.8,90.3 430.9,90.4 431.1,90.4 431.2,90.5 431.4,90.6 431.5,90.6 431.6,90.7 431.8,90.8 432,90.8 432.1,90.9 432.2,91 432.4,91.1 432.6,91.1 432.7,91.2 432.9,91.3 433,91.3 433.1,91.4 433.3,91.5 433.5,91.5 433.6,91.6 433.8,91.7 433.9,91.7 434.1,91.8 434.2,91.9 434.4,92 434.5,92 434.6,92.1 434.8,92.2 435,92.2 435.1,92.3 435.2,92.4 435.4,92.4 435.6,92.5 435.7,92.6 435.9,92.6 436,92.7 436.1,92.8 436.3,92.9 436.5,92.9 436.6,93 436.8,93.1 436.9,93.1 437.1,93.2 437.2,93.3 437.4,93.3 437.5,93.4 437.6,93.5 437.8,93.6 438,93.6 438.1,93.7 438.2,93.8 438.4,93.8 438.6,93.9 438.7,94 438.9,94 439,94.1 439.1,94.2 439.3,94.2 439.5,94.3 439.6,94.4 439.8,94.5 439.9,94.5 440.1,94.6 440.2,94.7 440.4,94.7 440.5,94.8 440.6,94.9 440.8,94.9" fill="none" stroke="#000" stroke-width="1.4" clip-path="url(#cb)"/>
<polyline points="263.5,88 264.2,82 264.9,76.8 265.7,71.3 266.4,66.2 267.1,60.8 267.8,55.4 268.5,50.5 269.3,45.3 270,39.5 270.7,31.8 271.4,23.7 272.1,16.6 272.9,10.6 273.6,6.3 274.3,2.7 275,1.9 275.7,2 276.5,2.3 277.2,2.3 277.9,2.3 278.6,4 279.3,13 280.1,19.9 280.8,21.2 281.5,21.7 282.2,22.3 282.9,22.1 283.7,22.4 284.4,23.8 285.1,23.8 285.8,23.6 286.5,24.6 287.3,24.6 288,25 288.7,25.6 289.4,25.4 290.1,26.1 290.9,26.4 291.6,26.3 292.3,27.2 293,27 293.7,28 294.5,28.6 295.2,28.9 295.9,28.9 296.6,28.9 297.3,29.5 298.1,30 298.8,30.4 299.5,30.9 300.2,30.5 300.9,31.5 301.7,31.5 302.4,32.3 303.1,32.4 303.8,32.3 304.5,32.9 305.3,33.3 306,33.8 306.7,34 307.4,34.9 308.1,34.7 308.9,36.5 309.6,35.7 310.3,35.6 311,36.5 311.7,36.8 312.5,36.5 313.2,37.1 313.9,38.1 314.6,38.6 315.3,38.6 316.1,38.9 316.8,39.5 317.5,40.1 318.2,40.4 318.9,40.5 319.7,40.6 320.4,41 321.1,42 321.8,42.2 322.5,42.8 323.3,42.6 324,42.9 324.7,43.4 325.4,44.6 326.1,45.3 326.9,45.1 327.6,45 328.3,44.8 329,46.6 329.7,46 330.5,48.2 331.2,46.5 331.9,47.3 332.6,47.6 333.3,47.7 334.1,47.9 334.8,48.4 335.5,48.8 336.2,49.2 336.9,49.1 337.7,49.8 338.4,49.2 339.1,50.7 339.8,51 340.5,50.8 341.3,51 342,51.8 342.7,51.3 343.4,54.2 344.1,52.7 344.9,53.4 345.6,53 346.3,53.9 347,53.1 347.7,54.8 348.5,54.4 349.2,54.8 349.9,54.5 350.6,55.3 351.3,56.6 352.1,57 352.8,56.6 353.5,56.8 354.2,57.1 354.9,57.3 355.7,57.4 356.4,57.5 357.1,58.7 357.8,58 358.5,59.1 359.3,59.4 360,59.1 360.7,60.2 361.4,60.8 362.1,60.3 362.9,61.2 363.6,61.2 364.3,61.3 365,63.2 365.7,61.8 366.5,62.4 367.2,62.1 367.9,63.2 368.6,63.2 369.3,63.5 370.1,64.1 370.8,64.6 371.5,64.3 372.2,64.7 372.9,65.4 373.7,65.9 374.4,66.5 375.1,66.5 375.8,65.8 376.5,67.1 377.3,67.1 378,67.9 378.7,67.6 379.4,68.7 380.1,68 380.9,69.9 381.6,69.3 382.3,68.9 383,69.3 383.7,69.4 384.5,70.4 385.2,70.4 385.9,70.6 386.6,71.3 387.3,70.9 388.1,72 388.8,72.4 389.5,72 390.2,72.6 390.9,72.6 391.7,73.5 392.4,73.7 393.1,73.7 393.8,73.8 394.5,75.1 395.3,74.8 396,75 396.7,76 397.4,75.5 398.1,75.9 398.9,77.1 399.6,76.9 400.3,77 401,77.7 401.7,78.1 402.5,77.6 403.2,78.3 403.9,78.5 404.6,79 405.3,79.3 406.1,78.8 406.8,79.9 407.5,79.6 408.2,79.6 408.9,80.6 409.7,81.5 410.4,81.7 411.1,82.5 411.8,83.3 412.5,83.3 413.3,83.9 414,83.9 414.7,84.2 415.4,85.2 416.1,84.7 416.9,85.5 417.6,84.6 418.3,85.8 419,86.4 419.7,87.8 420.5,87.9 421.2,88.2 421.9,88.2 422.6,88.1 423.3,88.4 424.1,88.7 424.8,88.7 425.5,88.8 426.2,89.2 426.9,89.9 427.7,90.3 428.4,90.6 429.1,91 429.8,90.8 430.5,90.6 431.3,92 432,92 432.7,92.2 433.4,93.5 434.1,93 434.9,93.2 435.6,93.6 436.3,94.4 437,95.2 437.7,95.6 438.5,95.8 439.2,95.9 439.9,95 440.6,96.8" fill="none" stroke="#1a1aff" stroke-width="1.2" stroke-dasharray="3.2 2.2" clip-path="url(#cb)"/>
<polyline points="263.5,86.9 264.2,79 264.9,72 265.7,68.3 266.4,64.7 267.1,60.3 267.8,56.1 268.5,50.7 269.3,45.8 270,39.8 270.7,32 271.4,23.9 272.1,16.6 272.9,10.2 273.6,6.2 274.3,2.6 275,1.6 275.7,1.4 276.5,1.9 277.2,1.8 277.9,2 278.6,3.7 279.3,12.6 280.1,19.1 280.8,21.1 281.5,20.8 282.2,21.7 282.9,21.6 283.7,21.7 284.4,22.3 285.1,22.9 285.8,23.4 286.5,23.4 287.3,23.9 288,24.1 288.7,24.8 289.4,25.2 290.1,25.4 290.9,25.7 291.6,25.3 292.3,26.5 293,26 293.7,26.9 294.5,27.1 295.2,27.8 295.9,27.7 296.6,28.2 297.3,28.6 298.1,29.1 298.8,29.6 299.5,29.9 300.2,29.9 300.9,30.6 301.7,30.8 302.4,31.2 303.1,31.9 303.8,31.9 304.5,32.3 305.3,32.3 306,33.5 306.7,33.9 307.4,33.7 308.1,33.7 308.9,34.5 309.6,34.9 310.3,34.9 311,35.5 311.7,36.1 312.5,36.4 313.2,36.5 313.9,36.5 314.6,37.2 315.3,38 316.1,37.5 316.8,38.3 317.5,39 318.2,40 318.9,38.9 319.7,39.1 320.4,39.6 321.1,40.3 321.8,41.1 322.5,41.9 323.3,42 324,41.8 324.7,42.3 325.4,42.6 326.1,43.1 326.9,42.7 327.6,43.3 328.3,44.1 329,44.3 329.7,45 330.5,45.6 331.2,46.3 331.9,45.8 332.6,45.7 333.3,47.8 334.1,47.3 334.8,47.1 335.5,45 336.2,48 336.9,48.8 337.7,48.8 338.4,49.7 339.1,49.2 339.8,50.2 340.5,51 341.3,50.2 342,51.2 342.7,50.7 343.4,51.4 344.1,52 344.9,49.6 345.6,52.2 346.3,53.4 347,53.2 347.7,53.3 348.5,53.6 349.2,54.4 349.9,54.7 350.6,55.6 351.3,54.6 352.1,55.3 352.8,53.4 353.5,54.4 354.2,55.8 354.9,57 355.7,57.5 356.4,56.8 357.1,57.5 357.8,58.2 358.5,58.2 359.3,58.2 360,59.3 360.7,59.9 361.4,58 362.1,59.6 362.9,60.9 363.6,60.3 364.3,61.3 365,61.5 365.7,60.7 366.5,61.9 367.2,61.6 367.9,62.1 368.6,62 369.3,60.9 370.1,62.7 370.8,63.1 371.5,63.6 372.2,64.1 372.9,65.6 373.7,65.4 374.4,65.2 375.1,65.1 375.8,66 376.5,66.4 377.3,67 378,66.2 378.7,67.4 379.4,67 380.1,67.9 380.9,69.1 381.6,68.6 382.3,68.2 383,68.9 383.7,69 384.5,69.9 385.2,70 385.9,69 386.6,69.6 387.3,68.9 388.1,70.9 388.8,71.7 389.5,71.3 390.2,71.8 390.9,72 391.7,73.2 392.4,72.2 393.1,73.7 393.8,73.2 394.5,74.7 395.3,73.5 396,72.9 396.7,73.6 397.4,75.5 398.1,74.7 398.9,75.2 399.6,76.5 400.3,75.4 401,76.2 401.7,77.1 402.5,77.2 403.2,78.2 403.9,77.7 404.6,76.5 405.3,77.3 406.1,79.6 406.8,77.6 407.5,80 408.2,80.3 408.9,79.8 409.7,80.3 410.4,81.1 411.1,80.2 411.8,82.3 412.5,82.1 413.3,82.3 414,83 414.7,82.9 415.4,83.9 416.1,85 416.9,85.5 417.6,86 418.3,85.9 419,87 419.7,86.2 420.5,87.6 421.2,87.1 421.9,87.6 422.6,87.1 423.3,87.8 424.1,88.1 424.8,88.9 425.5,88.4 426.2,88.8 426.9,87.9 427.7,87.7 428.4,89.4 429.1,89.5 429.8,90 430.5,90.6 431.3,91.8 432,91.7 432.7,91.5 433.4,92.9 434.1,91.6 434.9,93 435.6,93.5 436.3,93.8 437,93.4 437.7,93.1 438.5,93.7 439.2,94.4 439.9,95.2 440.6,95.9" fill="none" stroke="#ff1a1a" stroke-width="1.1" stroke-dasharray="3.2 2.2" clip-path="url(#cb)" stroke-dashoffset="2.7"/>
<rect x="263.5" y="2.2" width="177.3" height="92.6" fill="none" stroke="#555555" stroke-width="1"/>
<line x1="293.5" y1="94.8" x2="293.5" y2="93" stroke="#555555" stroke-width="0.8"/>
<line x1="293.5" y1="2.2" x2="293.5" y2="4" stroke="#555555" stroke-width="0.8"/>
<line x1="323.5" y1="94.8" x2="323.5" y2="93" stroke="#555555" stroke-width="0.8"/>
<line x1="323.5" y1="2.2" x2="323.5" y2="4" stroke="#555555" stroke-width="0.8"/>
<line x1="353.5" y1="94.8" x2="353.5" y2="93" stroke="#555555" stroke-width="0.8"/>
<line x1="353.5" y1="2.2" x2="353.5" y2="4" stroke="#555555" stroke-width="0.8"/>
<line x1="383.5" y1="94.8" x2="383.5" y2="93" stroke="#555555" stroke-width="0.8"/>
<line x1="383.5" y1="2.2" x2="383.5" y2="4" stroke="#555555" stroke-width="0.8"/>
<line x1="413.5" y1="94.8" x2="413.5" y2="93" stroke="#555555" stroke-width="0.8"/>
<line x1="413.5" y1="2.2" x2="413.5" y2="4" stroke="#555555" stroke-width="0.8"/>
<line x1="263.5" y1="76.28" x2="265.3" y2="76.28" stroke="#555555" stroke-width="0.8"/>
<line x1="440.8" y1="76.28" x2="439" y2="76.28" stroke="#555555" stroke-width="0.8"/>
<line x1="263.5" y1="57.76" x2="265.3" y2="57.76" stroke="#555555" stroke-width="0.8"/>
<line x1="440.8" y1="57.76" x2="439" y2="57.76" stroke="#555555" stroke-width="0.8"/>
<line x1="263.5" y1="39.24" x2="265.3" y2="39.24" stroke="#555555" stroke-width="0.8"/>
<line x1="440.8" y1="39.24" x2="439" y2="39.24" stroke="#555555" stroke-width="0.8"/>
<line x1="263.5" y1="20.72" x2="265.3" y2="20.72" stroke="#555555" stroke-width="0.8"/>
<line x1="440.8" y1="20.72" x2="439" y2="20.72" stroke="#555555" stroke-width="0.8"/>
<line x1="263.5" y1="2.2" x2="265.3" y2="2.2" stroke="#555555" stroke-width="0.8"/>
<line x1="440.8" y1="2.2" x2="439" y2="2.2" stroke="#555555" stroke-width="0.8"/>
<clipPath id="cc"><rect x="497.6" y="3.4" width="177.7" height="92.9"/></clipPath>
<line x1="528.8" y1="3.4" x2="528.8" y2="96.3" stroke="#d3d3d3" stroke-width="0.8"/>
<line x1="560.01" y1="3.4" x2="560.01" y2="96.3" stroke="#d3d3d3" stroke-width="0.8"/>
<line x1="591.21" y1="3.4" x2="591.21" y2="96.3" stroke="#d3d3d3" stroke-width="0.8"/>
<line x1="622.41" y1="3.4" x2="622.41" y2="96.3" stroke="#d3d3d3" stroke-width="0.8"/>
<line x1="653.61" y1="3.4" x2="653.61" y2="96.3" stroke="#d3d3d3" stroke-width="0.8"/>
<line x1="497.6" y1="77.72" x2="675.3" y2="77.72" stroke="#d3d3d3" stroke-width="0.8"/>
<line x1="497.6" y1="59.14" x2="675.3" y2="59.14" stroke="#d3d3d3" stroke-width="0.8"/>
<line x1="497.6" y1="40.56" x2="675.3" y2="40.56" stroke="#d3d3d3" stroke-width="0.8"/>
<line x1="497.6" y1="21.98" x2="675.3" y2="21.98" stroke="#d3d3d3" stroke-width="0.8"/>
<polyline points="497.6,89.8 497.8,88.4 497.9,87.1 498.1,85.7 498.2,84.3 498.4,83 498.5,81.6 498.7,80.3 498.8,78.9 499,77.5 499.2,76.2 499.3,74.8 499.5,73.4 499.6,72.1 499.8,70.7 499.9,69.3 500.1,68 500.3,66.6 500.4,65.3 500.6,63.9 500.7,62.5 500.9,61.2 501,59.8 501.2,58.5 501.3,57.1 501.5,55.8 501.7,54.4 501.8,53.1 502,51.7 502.1,50.4 502.3,49.1 502.4,47.7 502.6,46.4 502.7,45 502.9,43.7 503.1,42.3 503.2,41 503.4,39.6 503.5,38.3 503.7,37 503.8,35.6 504,34.3 504.2,32.9 504.3,31.6 504.5,30.2 504.6,28.9 504.8,27.6 504.9,26.3 505.1,25 505.2,23.7 505.4,22.4 505.6,21.1 505.7,19.8 505.9,18.5 506,17.2 506.2,15.9 506.3,14.5 506.5,13.8 506.6,13.1 506.8,12.3 507,11.6 507.1,10.9 507.3,10.1 507.4,9.4 507.6,8.6 507.7,7.9 507.9,7.2 508.1,6.6 508.2,6.5 508.4,6.4 508.5,6.4 508.7,6.3 508.8,6.2 509,6.1 509.1,6 509.3,5.9 509.5,5.8 509.6,5.7 509.8,5.6 509.9,5.5 510.1,5.4 510.2,5.4 510.4,5.3 510.5,5.2 510.7,5.1 510.9,5 511,5 511.2,4.9 511.3,4.8 511.5,4.7 511.6,4.7 511.8,4.6 512,4.5 512.1,4.4 512.3,4.3 512.4,4.3 512.6,4.2 512.7,4.1 512.9,4 513,3.9 513.2,3.9 513.4,3.8 513.5,3.7 513.7,3.6 513.8,3.6 514,3.5 514.1,3.4 514.3,5.3 514.4,7.1 514.6,9 514.8,10.8 514.9,12.2 515.1,13.6 515.2,15 515.4,16.4 515.5,17.8 515.7,19.2 515.9,19.6 516,20 516.2,20.4 516.3,20.8 516.5,21.2 516.6,21.6 516.8,22 516.9,22 517.1,22 517.3,22 517.4,22 517.6,22 517.7,22 517.9,22 518,22 518.2,22 518.3,22 518.5,22 518.7,22 518.8,22 519,22 519.1,22 519.3,22 519.4,22 519.6,22 519.8,22 519.9,22 520.1,22 520.2,22 520.4,22 520.5,22 520.7,22 520.8,22 521,22 521.2,22 521.3,22 521.5,22 521.6,22 521.8,22 521.9,22 522.1,22 522.3,22 522.4,22 522.6,22 522.7,22 522.9,22 523,22 523.2,22 523.3,22 523.5,22 523.7,22 523.8,22 524,22 524.1,22 524.3,22 524.4,22 524.6,22 524.7,22 524.9,22 525.1,22 525.2,22 525.4,22 525.5,22 525.7,22 525.8,22 526,22 526.2,22 526.3,22 526.5,22 526.6,22 526.8,22 526.9,22 527.1,22 527.2,22 527.4,22 527.6,22 527.7,22 527.9,22 528,22 528.2,22.1 528.3,22.1 528.5,22.2 528.6,22.3 528.8,22.4 529,22.5 529.1,22.5 529.3,22.6 529.4,22.7 529.6,22.8 529.7,22.8 529.9,22.9 530.1,23 530.2,23.1 530.4,23.2 530.5,23.2 530.7,23.3 530.8,23.4 531,23.5 531.1,23.6 531.3,23.6 531.5,23.7 531.6,23.8 531.8,23.9 531.9,23.9 532.1,24 532.2,24.1 532.4,24.2 532.5,24.3 532.7,24.3 532.9,24.4 533,24.5 533.2,24.6 533.3,24.7 533.5,24.7 533.6,24.8 533.8,24.9 534,25 534.1,25.1 534.3,25.1 534.4,25.2 534.6,25.3 534.7,25.4 534.9,25.4 535,25.5 535.2,25.6 535.4,25.7 535.5,25.8 535.7,25.8 535.8,25.9 536,26 536.1,26.1 536.3,26.2 536.4,26.2 536.6,26.3 536.8,26.4 536.9,26.5 537.1,26.5 537.2,26.6 537.4,26.7 537.5,26.8 537.7,26.9 537.9,26.9 538,27 538.2,27.1 538.3,27.2 538.5,27.3 538.6,27.3 538.8,27.4 538.9,27.5 539.1,27.6 539.3,27.6 539.4,27.7 539.6,27.8 539.7,27.9 539.9,28 540,28 540.2,28.1 540.3,28.2 540.5,28.3 540.7,28.4 540.8,28.4 541,28.5 541.1,28.6 541.3,28.7 541.4,28.8 541.6,28.8 541.8,28.9 541.9,29 542.1,29.1 542.2,29.1 542.4,29.2 542.5,29.3 542.7,29.4 542.8,29.5 543,29.5 543.2,29.6 543.3,29.7 543.5,29.8 543.6,29.9 543.8,29.9 543.9,30 544.1,30.1 544.2,30.2 544.4,30.2 544.6,30.3 544.7,30.4 544.9,30.5 545,30.6 545.2,30.6 545.3,30.7 545.5,30.8 545.7,30.9 545.8,31 546,31 546.1,31.1 546.3,31.2 546.4,31.3 546.6,31.3 546.7,31.4 546.9,31.5 547.1,31.6 547.2,31.7 547.4,31.7 547.5,31.8 547.7,31.9 547.8,32 548,32.1 548.1,32.1 548.3,32.2 548.5,32.3 548.6,32.4 548.8,32.5 548.9,32.5 549.1,32.6 549.2,32.7 549.4,32.8 549.6,32.8 549.7,32.9 549.9,33 550,33.1 550.2,33.2 550.3,33.2 550.5,33.3 550.6,33.4 550.8,33.5 551,33.6 551.1,33.6 551.3,33.7 551.4,33.8 551.6,33.9 551.7,33.9 551.9,34 552,34.1 552.2,34.2 552.4,34.3 552.5,34.3 552.7,34.4 552.8,34.5 553,34.6 553.1,34.7 553.3,34.7 553.5,34.8 553.6,34.9 553.8,35 553.9,35 554.1,35.1 554.2,35.2 554.4,35.3 554.5,35.4 554.7,35.4 554.9,35.5 555,35.6 555.2,35.7 555.3,35.8 555.5,35.8 555.6,35.9 555.8,36 555.9,36.1 556.1,36.2 556.3,36.2 556.4,36.3 556.6,36.4 556.7,36.5 556.9,36.5 557,36.6 557.2,36.7 557.4,36.8 557.5,36.9 557.7,36.9 557.8,37 558,37.1 558.1,37.2 558.3,37.3 558.4,37.3 558.6,37.4 558.8,37.5 558.9,37.6 559.1,37.6 559.2,37.7 559.4,37.8 559.5,37.9 559.7,38 559.8,38 560,38.1 560.2,38.2 560.3,38.3 560.5,38.4 560.6,38.4 560.8,38.5 560.9,38.6 561.1,38.7 561.3,38.7 561.4,38.8 561.6,38.9 561.7,39 561.9,39.1 562,39.1 562.2,39.2 562.3,39.3 562.5,39.4 562.7,39.5 562.8,39.5 563,39.6 563.1,39.7 563.3,39.8 563.4,39.9 563.6,39.9 563.7,40 563.9,40.1 564.1,40.2 564.2,40.2 564.4,40.3 564.5,40.4 564.7,40.5 564.8,40.6 565,40.6 565.2,40.7 565.3,40.8 565.5,40.9 565.6,41 565.8,41 565.9,41.1 566.1,41.2 566.2,41.3 566.4,41.3 566.6,41.4 566.7,41.5 566.9,41.6 567,41.7 567.2,41.7 567.3,41.8 567.5,41.9 567.7,42 567.8,42.1 568,42.1 568.1,42.2 568.3,42.3 568.4,42.4 568.6,42.4 568.7,42.5 568.9,42.6 569.1,42.7 569.2,42.8 569.4,42.8 569.5,42.9 569.7,43 569.8,43.1 570,43.2 570.1,43.2 570.3,43.3 570.5,43.4 570.6,43.5 570.8,43.6 570.9,43.6 571.1,43.7 571.2,43.8 571.4,43.9 571.6,43.9 571.7,44 571.9,44.1 572,44.2 572.2,44.3 572.3,44.3 572.5,44.4 572.6,44.5 572.8,44.6 573,44.7 573.1,44.7 573.3,44.8 573.4,44.9 573.6,45 573.7,45 573.9,45.1 574,45.2 574.2,45.3 574.4,45.4 574.5,45.4 574.7,45.5 574.8,45.6 575,45.7 575.1,45.8 575.3,45.8 575.5,45.9 575.6,46 575.8,46.1 575.9,46.1 576.1,46.2 576.2,46.3 576.4,46.4 576.5,46.5 576.7,46.5 576.9,46.6 577,46.7 577.2,46.8 577.3,46.9 577.5,46.9 577.6,47 577.8,47.1 577.9,47.2 578.1,47.3 578.3,47.3 578.4,47.4 578.6,47.5 578.7,47.6 578.9,47.6 579,47.7 579.2,47.8 579.4,47.9 579.5,48 579.7,48 579.8,48.1 580,48.2 580.1,48.3 580.3,48.4 580.4,48.4 580.6,48.5 580.8,48.6 580.9,48.7 581.1,48.7 581.2,48.8 581.4,48.9 581.5,49 581.7,49.1 581.8,49.1 582,49.2 582.2,49.3 582.3,49.4 582.5,49.5 582.6,49.5 582.8,49.6 582.9,49.7 583.1,49.8 583.3,49.8 583.4,49.9 583.6,50 583.7,50.1 583.9,50.2 584,50.2 584.2,50.3 584.3,50.4 584.5,50.5 584.7,50.6 584.8,50.6 585,50.7 585.1,50.8 585.3,50.9 585.4,51 585.6,51 585.7,51.1 585.9,51.2 586.1,51.3 586.2,51.3 586.4,51.4 586.5,51.5 586.7,51.6 586.8,51.7 587,51.7 587.2,51.8 587.3,51.9 587.5,52 587.6,52.1 587.8,52.1 587.9,52.2 588.1,52.3 588.2,52.4 588.4,52.4 588.6,52.5 588.7,52.6 588.9,52.7 589,52.8 589.2,52.8 589.3,52.9 589.5,53 589.6,53.1 589.8,53.2 590,53.2 590.1,53.3 590.3,53.4 590.4,53.5 590.6,53.6 590.7,53.6 590.9,53.7 591.1,53.8 591.2,53.9 591.4,53.9 591.5,54 591.7,54.1 591.8,54.2 592,54.3 592.1,54.3 592.3,54.4 592.5,54.5 592.6,54.6 592.8,54.7 592.9,54.7 593.1,54.8 593.2,54.9 593.4,55 593.5,55 593.7,55.1 593.9,55.2 594,55.3 594.2,55.4 594.3,55.4 594.5,55.5 594.6,55.6 594.8,55.7 595,55.8 595.1,55.8 595.3,55.9 595.4,56 595.6,56.1 595.7,56.1 595.9,56.2 596,56.3 596.2,56.4 596.4,56.5 596.5,56.5 596.7,56.6 596.8,56.7 597,56.8 597.1,56.9 597.3,56.9 597.4,57 597.6,57.1 597.8,57.2 597.9,57.3 598.1,57.3 598.2,57.4 598.4,57.5 598.5,57.6 598.7,57.6 598.9,57.7 599,57.8 599.2,57.9 599.3,58 599.5,58 599.6,58.1 599.8,58.2 599.9,58.3 600.1,58.4 600.3,58.4 600.4,58.5 600.6,58.6 600.7,58.7 600.9,58.7 601,58.8 601.2,58.9 601.3,59 601.5,59.1 601.7,59.1 601.8,59.2 602,59.3 602.1,59.4 602.3,59.5 602.4,59.5 602.6,59.6 602.8,59.7 602.9,59.8 603.1,59.8 603.2,59.9 603.4,60 603.5,60.1 603.7,60.2 603.8,60.2 604,60.3 604.2,60.4 604.3,60.5 604.5,60.6 604.6,60.6 604.8,60.7 604.9,60.8 605.1,60.9 605.2,61 605.4,61 605.6,61.1 605.7,61.2 605.9,61.3 606,61.3 606.2,61.4 606.3,61.5 606.5,61.6 606.7,61.7 606.8,61.7 607,61.8 607.1,61.9 607.3,62 607.4,62.1 607.6,62.1 607.7,62.2 607.9,62.3 608.1,62.4 608.2,62.4 608.4,62.5 608.5,62.6 608.7,62.7 608.8,62.8 609,62.8 609.2,62.9 609.3,63 609.5,63.1 609.6,63.2 609.8,63.2 609.9,63.3 610.1,63.4 610.2,63.5 610.4,63.5 610.6,63.6 610.7,63.7 610.9,63.8 611,63.9 611.2,63.9 611.3,64 611.5,64.1 611.6,64.2 611.8,64.3 612,64.3 612.1,64.4 612.3,64.5 612.4,64.6 612.6,64.7 612.7,64.7 612.9,64.8 613.1,64.9 613.2,65 613.4,65 613.5,65.1 613.7,65.2 613.8,65.3 614,65.4 614.1,65.4 614.3,65.5 614.5,65.6 614.6,65.7 614.8,65.8 614.9,65.8 615.1,65.9 615.2,66 615.4,66.1 615.5,66.1 615.7,66.2 615.9,66.3 616,66.4 616.2,66.5 616.3,66.5 616.5,66.6 616.6,66.7 616.8,66.8 617,66.9 617.1,66.9 617.3,67 617.4,67.1 617.6,67.2 617.7,67.2 617.9,67.3 618,67.4 618.2,67.5 618.4,67.6 618.5,67.6 618.7,67.7 618.8,67.8 619,67.9 619.1,68 619.3,68 619.4,68.1 619.6,68.2 619.8,68.3 619.9,68.4 620.1,68.4 620.2,68.5 620.4,68.6 620.5,68.7 620.7,68.7 620.9,68.8 621,68.9 621.2,69 621.3,69.1 621.5,69.1 621.6,69.2 621.8,69.3 621.9,69.4 622.1,69.5 622.3,69.5 622.4,69.6 622.6,69.7 622.7,69.8 622.9,69.8 623,69.9 623.2,70 623.3,70.1 623.5,70.2 623.7,70.2 623.8,70.3 624,70.4 624.1,70.5 624.3,70.6 624.4,70.6 624.6,70.7 624.8,70.8 624.9,70.9 625.1,70.9 625.2,71 625.4,71.1 625.5,71.2 625.7,71.3 625.8,71.3 626,71.4 626.2,71.5 626.3,71.6 626.5,71.7 626.6,71.7 626.8,71.8 626.9,71.9 627.1,72 627.2,72.1 627.4,72.1 627.6,72.2 627.7,72.3 627.9,72.4 628,72.4 628.2,72.5 628.3,72.6 628.5,72.7 628.7,72.8 628.8,72.8 629,72.9 629.1,73 629.3,73.1 629.4,73.2 629.6,73.2 629.7,73.3 629.9,73.4 630.1,73.5 630.2,73.5 630.4,73.6 630.5,73.7 630.7,73.8 630.8,73.9 631,73.9 631.1,74 631.3,74.1 631.5,74.2 631.6,74.3 631.8,74.3 631.9,74.4 632.1,74.5 632.2,74.6 632.4,74.6 632.6,74.7 632.7,74.8 632.9,74.9 633,75 633.2,75 633.3,75.1 633.5,75.2 633.6,75.3 633.8,75.4 634,75.4 634.1,75.5 634.3,75.6 634.4,75.7 634.6,75.8 634.7,75.8 634.9,75.9 635,76 635.2,76.1 635.4,76.1 635.5,76.2 635.7,76.3 635.8,76.4 636,76.5 636.1,76.5 636.3,76.6 636.5,76.7 636.6,76.8 636.8,76.9 636.9,76.9 637.1,77 637.2,77.1 637.4,77.2 637.5,77.2 637.7,77.3 637.9,77.4 638,77.5 638.2,77.6 638.3,77.6 638.5,77.7 638.6,77.8 638.8,77.9 638.9,78 639.1,78 639.3,78.1 639.4,78.2 639.6,78.3 639.7,78.3 639.9,78.4 640,78.5 640.2,78.6 640.4,78.7 640.5,78.7 640.7,78.8 640.8,78.9 641,79 641.1,79.1 641.3,79.1 641.4,79.2 641.6,79.3 641.8,79.4 641.9,79.5 642.1,79.5 642.2,79.6 642.4,79.7 642.5,79.8 642.7,79.8 642.8,79.9 643,80 643.2,80.1 643.3,80.2 643.5,80.2 643.6,80.3 643.8,80.4 643.9,80.5 644.1,80.6 644.3,80.6 644.4,80.7 644.6,80.8 644.7,80.9 644.9,80.9 645,81 645.2,81.1 645.3,81.2 645.5,81.3 645.7,81.3 645.8,81.4 646,81.5 646.1,81.6 646.3,81.7 646.4,81.7 646.6,81.8 646.7,81.9 646.9,82 647.1,82.1 647.2,82.1 647.4,82.2 647.5,82.3 647.7,82.4 647.8,82.4 648,82.5 648.2,82.6 648.3,82.7 648.5,82.8 648.6,82.8 648.8,82.9 648.9,83 649.1,83.1 649.2,83.2 649.4,83.2 649.6,83.3 649.7,83.4 649.9,83.5 650,83.5 650.2,83.6 650.3,83.7 650.5,83.8 650.6,83.9 650.8,83.9 651,84 651.1,84.1 651.3,84.2 651.4,84.3 651.6,84.3 651.7,84.4 651.9,84.5 652.1,84.6 652.2,84.6 652.4,84.7 652.5,84.8 652.7,84.9 652.8,85 653,85 653.1,85.1 653.3,85.2 653.5,85.3 653.6,85.4 653.8,85.4 653.9,85.5 654.1,85.6 654.2,85.7 654.4,85.8 654.6,85.8 654.7,85.9 654.9,86 655,86.1 655.2,86.1 655.3,86.2 655.5,86.3 655.6,86.4 655.8,86.5 656,86.5 656.1,86.6 656.3,86.7 656.4,86.8 656.6,86.9 656.7,86.9 656.9,87 657,87.1 657.2,87.2 657.4,87.2 657.5,87.3 657.7,87.4 657.8,87.5 658,87.6 658.1,87.6 658.3,87.7 658.5,87.8 658.6,87.9 658.8,88 658.9,88 659.1,88.1 659.2,88.2 659.4,88.3 659.5,88.3 659.7,88.4 659.9,88.5 660,88.6 660.2,88.7 660.3,88.7 660.5,88.8 660.6,88.9 660.8,89 660.9,89.1 661.1,89.1 661.3,89.2 661.4,89.3 661.6,89.4 661.7,89.5 661.9,89.5 662,89.6 662.2,89.7 662.4,89.8 662.5,89.8 662.7,89.9 662.8,90 663,90.1 663.1,90.2 663.3,90.2 663.4,90.3 663.6,90.4 663.8,90.5 663.9,90.6 664.1,90.6 664.2,90.7 664.4,90.8 664.5,90.9 664.7,90.9 664.8,91 665,91.1 665.2,91.2 665.3,91.3 665.5,91.3 665.6,91.4 665.8,91.5 665.9,91.6 666.1,91.7 666.3,91.7 666.4,91.8 666.6,91.9 666.7,92 666.9,92 667,92.1 667.2,92.2 667.3,92.3 667.5,92.4 667.7,92.4 667.8,92.5 668,92.6 668.1,92.7 668.3,92.8 668.4,92.8 668.6,92.9 668.7,93 668.9,93.1 669.1,93.2 669.2,93.2 669.4,93.3 669.5,93.4 669.7,93.5 669.8,93.5 670,93.6 670.2,93.7 670.3,93.8 670.5,93.9 670.6,93.9 670.8,94 670.9,94.1 671.1,94.2 671.2,94.3 671.4,94.3 671.6,94.4 671.7,94.5 671.9,94.6 672,94.6 672.2,94.7 672.3,94.8 672.5,94.9 672.6,95 672.8,95 673,95.1 673.1,95.2 673.3,95.3 673.4,95.4 673.6,95.4 673.7,95.5 673.9,95.6 674.1,95.7 674.2,95.7 674.4,95.8 674.5,95.9 674.7,96 674.8,96.1 675,96.1 675.1,96.2 675.3,96.3" fill="none" stroke="#000" stroke-width="1.4" clip-path="url(#cc)"/>
<polyline points="497.6,94.1 498.3,86.4 499.1,76.1 499.8,70.6 500.6,66.5 501.3,61.1 502.1,54.6 502.8,47.7 503.6,41 504.3,34.1 505.1,27.5 505.8,20 506.6,14.1 507.3,11 508.1,7.6 508.8,6.9 509.6,6 510.3,5.1 511.1,5.9 511.8,5.2 512.6,5.7 513.3,5.9 514.1,6 514.8,13.9 515.6,20 516.3,22 517.1,22.7 517.8,22.3 518.6,22.9 519.3,22.9 520.1,22.9 520.8,23 521.6,22.9 522.3,22.9 523.1,22.9 523.8,22.9 524.6,22.9 525.3,23 526.1,22.9 526.8,22.9 527.6,22.9 528.3,23.6 529.1,24.5 529.8,27.4 530.6,25.3 531.3,27.9 532,27.3 532.8,26.2 533.5,26.3 534.3,25.1 535,27 535.8,29.8 536.5,29.6 537.3,29.8 538,29.8 538.8,29.9 539.5,30.4 540.3,30.1 541,30.6 541.8,32 542.5,31.7 543.3,33.4 544,32.2 544.8,35 545.5,33.7 546.3,33.7 547,34.3 547.8,35.7 548.5,34.7 549.3,34.8 550,36.9 550.8,35.7 551.5,38.4 552.3,36.7 553,38.6 553.8,39.3 554.5,40.8 555.3,40.2 556,37.8 556.8,41.7 557.5,41.3 558.3,40.8 559,40.9 559.8,41.9 560.5,43.2 561.3,43.1 562,42.4 562.8,42.6 563.5,45.4 564.2,43.4 565,42.7 565.7,45.6 566.5,46.5 567.2,44.1 568,45.8 568.7,46.2 569.5,47.2 570.2,49.6 571,48.4 571.7,49.9 572.5,50.7 573.2,47.6 574,47.1 574.7,50.5 575.5,51.3 576.2,51.7 577,51.8 577.7,50.5 578.5,51.2 579.2,51.2 580,50.1 580.7,53.3 581.5,52.4 582.2,55.6 583,52.9 583.7,52.6 584.5,54.1 585.2,52.5 586,53.4 586.7,56.1 587.5,55.3 588.2,56.4 589,54.7 589.7,60.6 590.5,57.7 591.2,58.6 592,57.2 592.7,57.5 593.5,57.1 594.2,59 595,58.3 595.7,59 596.5,60.6 597.2,57.7 597.9,60.5 598.7,61.5 599.4,59.9 600.2,61.8 600.9,62.4 601.7,62.4 602.4,64.1 603.2,63.4 603.9,63.3 604.7,64.2 605.4,65.3 606.2,64.4 606.9,63.6 607.7,64.2 608.4,65.8 609.2,68.2 609.9,64.5 610.7,67.6 611.4,67.1 612.2,67 612.9,69.6 613.7,67.5 614.4,68.2 615.2,69.1 615.9,70.8 616.7,70.1 617.4,70.8 618.2,71.2 618.9,70.9 619.7,71.3 620.4,71.1 621.2,73 621.9,73.8 622.7,71.5 623.4,74.1 624.2,72.8 624.9,74 625.7,75 626.4,73.5 627.2,74.1 627.9,75.7 628.7,76.4 629.4,78.3 630.1,74.7 630.9,76.6 631.6,75.7 632.4,77.7 633.1,78 633.9,78.8 634.6,78.5 635.4,82.6 636.1,80.9 636.9,80.7 637.6,79.2 638.4,81.7 639.1,81.9 639.9,81.5 640.6,79.7 641.4,81.8 642.1,82.9 642.9,80.6 643.6,82.5 644.4,82.7 645.1,83.6 645.9,82 646.6,84.5 647.4,86.4 648.1,85.4 648.9,86.4 649.6,86 650.4,88.4 651.1,87.7 651.9,86.6 652.6,87 653.4,86.8 654.1,90.5 654.9,88.5 655.6,90.1 656.4,89.9 657.1,88.1 657.9,89.1 658.6,88.9 659.4,88.3 660.1,89.6 660.9,91.6 661.6,93.9 662.4,92.5 663.1,91.5 663.8,92.5 664.6,93.8 665.3,94.4 666.1,92.2 666.8,95.1 667.6,95.3 668.3,94.7 669.1,93.6 669.8,95.8 670.6,94.1 671.3,96 672.1,95.5 672.8,96.1 673.6,96.5 674.3,97.6 675.1,95.6" fill="none" stroke="#1a1aff" stroke-width="1.2" stroke-dasharray="3.2 2.2" clip-path="url(#cc)"/>
<polyline points="497.6,92.8 498.3,80.5 499.1,69.6 499.8,64.9 500.6,62.4 501.3,58.7 502.1,53.3 502.8,46.5 503.6,40.1 504.3,32.7 505.1,25.6 505.8,18.4 506.6,13.2 507.3,9.4 508.1,5.7 508.8,5.1 509.6,6.1 510.3,5.9 511.1,5.6 511.8,5.5 512.6,4.9 513.3,4.4 514.1,4.2 514.8,11.9 515.6,18.1 516.3,20.8 517.1,22.2 517.8,22.3 518.6,22.3 519.3,22.3 520.1,22.4 520.8,22.3 521.6,22.4 522.3,22.3 523.1,22.3 523.8,22.4 524.6,22.3 525.3,22.3 526.1,22.3 526.8,22.3 527.6,22.4 528.3,22.4 529.1,22.5 529.8,24.8 530.6,22.6 531.3,24.9 532,23.8 532.8,25.5 533.5,22.4 534.3,27.7 535,24.7 535.8,27.9 536.5,27.1 537.3,28.1 538,26.4 538.8,27.1 539.5,28.2 540.3,27.6 541,28.2 541.8,28.4 542.5,30 543.3,31.2 544,31.4 544.8,32.1 545.5,32.1 546.3,29.9 547,31.1 547.8,32.4 548.5,31 549.3,32.6 550,34.7 550.8,33.9 551.5,35.9 552.3,34.4 553,33.4 553.8,38.5 554.5,34.2 555.3,37.2 556,37.1 556.8,37.8 557.5,36.8 558.3,37.6 559,33.6 559.8,39.4 560.5,38 561.3,38.8 562,38.7 562.8,41.6 563.5,42.1 564.2,43.2 565,42.1 565.7,39.9 566.5,42.7 567.2,43.9 568,44.7 568.7,45.9 569.5,43.7 570.2,44.7 571,44.4 571.7,42.6 572.5,46.3 573.2,45.1 574,47.9 574.7,47.5 575.5,48.6 576.2,47.8 577,47.1 577.7,48.9 578.5,47.9 579.2,49.9 580,49.2 580.7,49.4 581.5,50.6 582.2,49.9 583,48.2 583.7,51.8 584.5,51.4 585.2,53.4 586,49.4 586.7,53.4 587.5,52 588.2,53.2 589,53.1 589.7,53.1 590.5,54.2 591.2,55.5 592,53.3 592.7,55.7 593.5,55.5 594.2,55.6 595,56.4 595.7,58.2 596.5,55.3 597.2,56.3 597.9,57.1 598.7,58.1 599.4,58.7 600.2,58.8 600.9,59.6 601.7,59.6 602.4,62.2 603.2,60.2 603.9,58 604.7,62 605.4,64.5 606.2,64.9 606.9,62 607.7,64.8 608.4,62 609.2,62.1 609.9,64 610.7,64 611.4,65.7 612.2,67 612.9,63.8 613.7,66.7 614.4,64.8 615.2,67.4 615.9,67.7 616.7,67.2 617.4,67.5 618.2,68.2 618.9,68.8 619.7,70 620.4,69.5 621.2,70.4 621.9,71.4 622.7,69.4 623.4,71.5 624.2,68.6 624.9,71.6 625.7,72.1 626.4,73.9 627.2,72.7 627.9,74.8 628.7,73.9 629.4,73.4 630.1,74.8 630.9,73.4 631.6,76.1 632.4,75.3 633.1,77.8 633.9,75.7 634.6,75.6 635.4,76.4 636.1,78.1 636.9,77.8 637.6,76.5 638.4,78 639.1,78.8 639.9,79 640.6,80.1 641.4,80.2 642.1,80.4 642.9,79.7 643.6,83.3 644.4,78.9 645.1,81.3 645.9,82.8 646.6,81.9 647.4,80.4 648.1,82.8 648.9,83.5 649.6,83 650.4,83.1 651.1,83.9 651.9,83 652.6,86 653.4,86.7 654.1,86.2 654.9,88.3 655.6,86.9 656.4,86.3 657.1,87.9 657.9,87.2 658.6,89.5 659.4,89.4 660.1,88.7 660.9,91.6 661.6,90.4 662.4,91.9 663.1,91.6 663.8,88 664.6,91.6 665.3,92.5 666.1,93.8 666.8,95.1 667.6,92.2 668.3,93.4 669.1,94 669.8,92.5 670.6,94.4 671.3,93.7 672.1,94.8 672.8,96.3 673.6,95.3 674.3,95.5 675.1,95.3" fill="none" stroke="#ff1a1a" stroke-width="1.1" stroke-dasharray="3.2 2.2" clip-path="url(#cc)" stroke-dashoffset="2.7"/>
<rect x="497.6" y="3.4" width="177.7" height="92.9" fill="none" stroke="#555555" stroke-width="1"/>
<line x1="528.8" y1="96.3" x2="528.8" y2="94.5" stroke="#555555" stroke-width="0.8"/>
<line x1="528.8" y1="3.4" x2="528.8" y2="5.2" stroke="#555555" stroke-width="0.8"/>
<line x1="560.01" y1="96.3" x2="560.01" y2="94.5" stroke="#555555" stroke-width="0.8"/>
<line x1="560.01" y1="3.4" x2="560.01" y2="5.2" stroke="#555555" stroke-width="0.8"/>
<line x1="591.21" y1="96.3" x2="591.21" y2="94.5" stroke="#555555" stroke-width="0.8"/>
<line x1="591.21" y1="3.4" x2="591.21" y2="5.2" stroke="#555555" stroke-width="0.8"/>
<line x1="622.41" y1="96.3" x2="622.41" y2="94.5" stroke="#555555" stroke-width="0.8"/>
<line x1="622.41" y1="3.4" x2="622.41" y2="5.2" stroke="#555555" stroke-width="0.8"/>
<line x1="653.61" y1="96.3" x2="653.61" y2="94.5" stroke="#555555" stroke-width="0.8"/>
<line x1="653.61" y1="3.4" x2="653.61" y2="5.2" stroke="#555555" stroke-width="0.8"/>
<line x1="497.6" y1="77.72" x2="499.4" y2="77.72" stroke="#555555" stroke-width="0.8"/>
<line x1="675.3" y1="77.72" x2="673.5" y2="77.72" stroke="#555555" stroke-width="0.8"/>
<line x1="497.6" y1="59.14" x2="499.4" y2="59.14" stroke="#555555" stroke-width="0.8"/>
<line x1="675.3" y1="59.14" x2="673.5" y2="59.14" stroke="#555555" stroke-width="0.8"/>
<line x1="497.6" y1="40.56" x2="499.4" y2="40.56" stroke="#555555" stroke-width="0.8"/>
<line x1="675.3" y1="40.56" x2="673.5" y2="40.56" stroke="#555555" stroke-width="0.8"/>
<line x1="497.6" y1="21.98" x2="499.4" y2="21.98" stroke="#555555" stroke-width="0.8"/>
<line x1="675.3" y1="21.98" x2="673.5" y2="21.98" stroke="#555555" stroke-width="0.8"/>
<text x="32.4" y="107.9" text-anchor="middle" font-family="Liberation Sans" font-size="8.2" fill="#3a3a3a" textLength="4.19" lengthAdjust="spacingAndGlyphs">0</text>
<text x="60.6" y="107.9" text-anchor="middle" font-family="Liberation Sans" font-size="8.2" fill="#3a3a3a" textLength="16.78" lengthAdjust="spacingAndGlyphs">2000</text>
<text x="87.9" y="107.9" text-anchor="middle" font-family="Liberation Sans" font-size="8.2" fill="#3a3a3a" textLength="16.78" lengthAdjust="spacingAndGlyphs">4000</text>
<text x="116.5" y="107.9" text-anchor="middle" font-family="Liberation Sans" font-size="8.2" fill="#3a3a3a" textLength="16.78" lengthAdjust="spacingAndGlyphs">6000</text>
<text x="144.5" y="107.9" text-anchor="middle" font-family="Liberation Sans" font-size="8.2" fill="#3a3a3a" textLength="16.78" lengthAdjust="spacingAndGlyphs">8000</text>
<text x="172.6" y="107.9" text-anchor="middle" font-family="Liberation Sans" font-size="8.2" fill="#3a3a3a" textLength="20.97" lengthAdjust="spacingAndGlyphs">10000</text>
<text x="200.2" y="107.9" text-anchor="middle" font-family="Liberation Sans" font-size="8.2" fill="#3a3a3a" textLength="20.97" lengthAdjust="spacingAndGlyphs">12000</text>
<text x="29.6" y="7.7" text-anchor="end" font-family="Liberation Sans" font-size="8.2" fill="#3a3a3a" textLength="12.58" lengthAdjust="spacingAndGlyphs">100</text>
<text x="29.6" y="25.3" text-anchor="end" font-family="Liberation Sans" font-size="8.2" fill="#3a3a3a" textLength="8.39" lengthAdjust="spacingAndGlyphs">80</text>
<text x="29.6" y="44.1" text-anchor="end" font-family="Liberation Sans" font-size="8.2" fill="#3a3a3a" textLength="8.39" lengthAdjust="spacingAndGlyphs">60</text>
<text x="29.6" y="63.2" text-anchor="end" font-family="Liberation Sans" font-size="8.2" fill="#3a3a3a" textLength="8.39" lengthAdjust="spacingAndGlyphs">40</text>
<text x="29.6" y="81.7" text-anchor="end" font-family="Liberation Sans" font-size="8.2" fill="#3a3a3a" textLength="8.39" lengthAdjust="spacingAndGlyphs">20</text>
<text x="29.6" y="99.8" text-anchor="end" font-family="Liberation Sans" font-size="8.2" fill="#3a3a3a" textLength="4.19" lengthAdjust="spacingAndGlyphs">0</text>
<text x="265.1" y="105.8" text-anchor="middle" font-family="Liberation Sans" font-size="8.2" fill="#3a3a3a" textLength="4.19" lengthAdjust="spacingAndGlyphs">0</text>
<text x="295.3" y="105.8" text-anchor="middle" font-family="Liberation Sans" font-size="8.2" fill="#3a3a3a" textLength="16.78" lengthAdjust="spacingAndGlyphs">2000</text>
<text x="325.5" y="105.8" text-anchor="middle" font-family="Liberation Sans" font-size="8.2" fill="#3a3a3a" textLength="16.78" lengthAdjust="spacingAndGlyphs">4000</text>
<text x="355.2" y="105.8" text-anchor="middle" font-family="Liberation Sans" font-size="8.2" fill="#3a3a3a" textLength="16.78" lengthAdjust="spacingAndGlyphs">6000</text>
<text x="385.3" y="105.8" text-anchor="middle" font-family="Liberation Sans" font-size="8.2" fill="#3a3a3a" textLength="16.78" lengthAdjust="spacingAndGlyphs">8000</text>
<text x="415.8" y="105.8" text-anchor="middle" font-family="Liberation Sans" font-size="8.2" fill="#3a3a3a" textLength="20.97" lengthAdjust="spacingAndGlyphs">10000</text>
<text x="262.4" y="6.5" text-anchor="end" font-family="Liberation Sans" font-size="8.2" fill="#3a3a3a" textLength="12.58" lengthAdjust="spacingAndGlyphs">100</text>
<text x="262.4" y="23.9" text-anchor="end" font-family="Liberation Sans" font-size="8.2" fill="#3a3a3a" textLength="8.39" lengthAdjust="spacingAndGlyphs">80</text>
<text x="262.4" y="42.7" text-anchor="end" font-family="Liberation Sans" font-size="8.2" fill="#3a3a3a" textLength="8.39" lengthAdjust="spacingAndGlyphs">60</text>
<text x="262.4" y="60.8" text-anchor="end" font-family="Liberation Sans" font-size="8.2" fill="#3a3a3a" textLength="8.39" lengthAdjust="spacingAndGlyphs">40</text>
<text x="262.4" y="79.5" text-anchor="end" font-family="Liberation Sans" font-size="8.2" fill="#3a3a3a" textLength="8.39" lengthAdjust="spacingAndGlyphs">20</text>
<text x="262.4" y="99" text-anchor="end" font-family="Liberation Sans" font-size="8.2" fill="#3a3a3a" textLength="4.19" lengthAdjust="spacingAndGlyphs">0</text>
<text x="499.1" y="107.8" text-anchor="middle" font-family="Liberation Sans" font-size="8.2" fill="#3a3a3a" textLength="4.19" lengthAdjust="spacingAndGlyphs">0</text>
<text x="531" y="107.8" text-anchor="middle" font-family="Liberation Sans" font-size="8.2" fill="#3a3a3a" textLength="16.78" lengthAdjust="spacingAndGlyphs">2000</text>
<text x="561.9" y="107.8" text-anchor="middle" font-family="Liberation Sans" font-size="8.2" fill="#3a3a3a" textLength="16.78" lengthAdjust="spacingAndGlyphs">4000</text>
<text x="593.5" y="107.8" text-anchor="middle" font-family="Liberation Sans" font-size="8.2" fill="#3a3a3a" textLength="16.78" lengthAdjust="spacingAndGlyphs">6000</text>
<text x="624.4" y="107.8" text-anchor="middle" font-family="Liberation Sans" font-size="8.2" fill="#3a3a3a" textLength="16.78" lengthAdjust="spacingAndGlyphs">8000</text>
<text x="656.1" y="107.8" text-anchor="middle" font-family="Liberation Sans" font-size="8.2" fill="#3a3a3a" textLength="20.97" lengthAdjust="spacingAndGlyphs">10000</text>
<text x="496.7" y="8" text-anchor="end" font-family="Liberation Sans" font-size="8.2" fill="#3a3a3a" textLength="12.58" lengthAdjust="spacingAndGlyphs">100</text>
<text x="496.7" y="25.9" text-anchor="end" font-family="Liberation Sans" font-size="8.2" fill="#3a3a3a" textLength="8.39" lengthAdjust="spacingAndGlyphs">80</text>
<text x="496.7" y="44.7" text-anchor="end" font-family="Liberation Sans" font-size="8.2" fill="#3a3a3a" textLength="8.39" lengthAdjust="spacingAndGlyphs">60</text>
<text x="496.7" y="63.2" text-anchor="end" font-family="Liberation Sans" font-size="8.2" fill="#3a3a3a" textLength="8.39" lengthAdjust="spacingAndGlyphs">40</text>
<text x="496.7" y="81.8" text-anchor="end" font-family="Liberation Sans" font-size="8.2" fill="#3a3a3a" textLength="8.39" lengthAdjust="spacingAndGlyphs">20</text>
<text x="496.7" y="99.2" text-anchor="end" font-family="Liberation Sans" font-size="8.2" fill="#3a3a3a" textLength="4.19" lengthAdjust="spacingAndGlyphs">0</text>
<text x="123.15" y="119.2" text-anchor="middle" font-family="Liberation Sans" font-size="9" fill="#3a3a3a" textLength="28.5" lengthAdjust="spacingAndGlyphs">Time(s)</text>
<text x="356.05" y="117.4" text-anchor="middle" font-family="Liberation Sans" font-size="9" fill="#3a3a3a" textLength="28.3" lengthAdjust="spacingAndGlyphs">Time(s)</text>
<text x="590.3" y="118.7" text-anchor="middle" font-family="Liberation Sans" font-size="9" fill="#3a3a3a" textLength="28.2" lengthAdjust="spacingAndGlyphs">Time(s)</text>
<text x="0" y="0" text-anchor="middle" font-family="Liberation Sans" font-size="9.5" fill="#3a3a3a" transform="translate(14.6,48) rotate(-90)" textLength="30" lengthAdjust="spacingAndGlyphs" dy="3.3">SOC(%)</text>
<text x="0" y="0" text-anchor="middle" font-family="Liberation Sans" font-size="9.5" fill="#3a3a3a" transform="translate(247.1,46.6) rotate(-90)" textLength="31.3" lengthAdjust="spacingAndGlyphs" dy="3.3">SOC(%)</text>
<text x="0" y="0" text-anchor="middle" font-family="Liberation Sans" font-size="9.5" fill="#3a3a3a" transform="translate(481.7,48.2) rotate(-90)" textLength="31.5" lengthAdjust="spacingAndGlyphs" dy="3.3">SOC(%)</text>
<text x="0.4" y="10.1" font-family="Liberation Serif" font-weight="bold" font-size="9.6" fill="#1a1a1a" textLength="10.6" lengthAdjust="spacingAndGlyphs">(a)</text>
<text x="235.6" y="9.7" font-family="Liberation Serif" font-weight="bold" font-size="9.6" fill="#1a1a1a" textLength="12.4" lengthAdjust="spacingAndGlyphs">(b)</text>
<text x="470.4" y="11.2" font-family="Liberation Serif" font-weight="bold" font-size="9.6" fill="#1a1a1a" textLength="11.3" lengthAdjust="spacingAndGlyphs">(c)</text>
<clipPath id="cd"><rect x="31.3" y="131.1" width="177" height="91.8"/></clipPath>
<line x1="59.1" y1="131.1" x2="59.1" y2="222.9" stroke="#d3d3d3" stroke-width="0.8"/>
<line x1="86.9" y1="131.1" x2="86.9" y2="222.9" stroke="#d3d3d3" stroke-width="0.8"/>
<line x1="114.7" y1="131.1" x2="114.7" y2="222.9" stroke="#d3d3d3" stroke-width="0.8"/>
<line x1="142.5" y1="131.1" x2="142.5" y2="222.9" stroke="#d3d3d3" stroke-width="0.8"/>
<line x1="170.3" y1="131.1" x2="170.3" y2="222.9" stroke="#d3d3d3" stroke-width="0.8"/>
<line x1="198.1" y1="131.1" x2="198.1" y2="222.9" stroke="#d3d3d3" stroke-width="0.8"/>
<line x1="31.3" y1="215.25" x2="208.3" y2="215.25" stroke="#d3d3d3" stroke-width="0.8"/>
<line x1="31.3" y1="199.95" x2="208.3" y2="199.95" stroke="#d3d3d3" stroke-width="0.8"/>
<line x1="31.3" y1="184.65" x2="208.3" y2="184.65" stroke="#d3d3d3" stroke-width="0.8"/>
<line x1="31.3" y1="169.35" x2="208.3" y2="169.35" stroke="#d3d3d3" stroke-width="0.8"/>
<line x1="31.3" y1="154.05" x2="208.3" y2="154.05" stroke="#d3d3d3" stroke-width="0.8"/>
<line x1="31.3" y1="138.75" x2="208.3" y2="138.75" stroke="#d3d3d3" stroke-width="0.8"/>
<polyline points="31.3,183.3 31.5,179.6 31.6,173.5 31.8,172.6 31.9,172.7 32.1,169.2 32.2,167.7 32.4,166.2 32.5,161.7 32.7,167.6 32.8,170.4 33,169.4 33.1,163.1 33.3,171.6 33.4,168.6 33.6,167.9 33.7,169.2 33.9,170 34.1,168 34.2,167.2 34.4,167.6 34.5,172 34.7,169.1 34.8,170.8 35,170.3 35.1,168.5 35.3,167.9 35.4,168 35.6,165.4 35.7,167.4 35.9,167.1 36,166.8 36.2,165.6 36.3,169.3 36.5,169.1 36.7,167.2 36.8,171.8 37,169.1 37.1,170.5 37.3,169.7 37.4,173 37.6,170.5 37.7,168.9 37.9,168.1 38,166.4 38.2,168.5 38.3,169.4 38.5,170.6 38.6,169.1 38.8,170.9 38.9,168.8 39.1,166.9 39.3,170.4 39.4,172.7 39.6,172.3 39.7,173.4 39.9,173.4 40,170.3 40.2,172.2 40.3,174.5 40.5,172.4 40.6,172 40.8,173 40.9,173.4 41.1,173.5 41.2,173.5 41.4,173.8 41.5,173.8 41.7,174 41.8,174.1 42,174.1 42.2,174.5 42.3,175.4 42.5,175.3 42.6,175.3 42.8,175.7 42.9,175.5 43.1,176.1 43.2,176.5 43.4,176 43.5,176.5 43.7,176.9 43.8,176.8 44,176.2 44.1,175.9 44.3,176.2 44.4,175.3 44.6,174.9 44.8,174.6 44.9,173.8 45.1,173.1 45.2,173.3 45.4,173.5 45.5,172.7 45.7,173.6 45.8,173.8 46,173.4 46.1,173.3 46.3,173.3 46.4,172.9 46.6,173.3 46.7,173.4 46.9,173.2 47,172.9 47.2,173.3 47.4,173 47.5,173.1 47.7,172.5 47.8,173.4 48,172.8 48.1,173.3 48.3,173.3 48.4,173.1 48.6,172.9 48.7,172.7 48.9,173 49,173.3 49.2,173.4 49.3,173.2 49.5,173.3 49.6,172.9 49.8,173.4 50,173 50.1,172.9 50.3,173.3 50.4,173.7 50.6,173.6 50.7,173.6 50.9,172.8 51,173.4 51.2,172.7 51.3,172.9 51.5,172.5 51.6,172.8 51.8,173.3 51.9,173.3 52.1,173.2 52.2,173.2 52.4,173.4 52.6,173.3 52.7,169 52.9,173.8 53,173.2 53.2,173.4 53.3,173 53.5,172.9 53.6,173.2 53.8,173 53.9,173.8 54.1,172.9 54.2,173.4 54.4,173.1 54.5,173.3 54.7,173.9 54.8,173.5 55,173.2 55.2,172.7 55.3,173.1 55.5,173.1 55.6,173.6 55.8,172.8 55.9,172.9 56.1,173.3 56.2,173.4 56.4,173.7 56.5,172.9 56.7,172.5 56.8,173 57,172.9 57.1,173.1 57.3,173.7 57.4,172.8 57.6,173.7 57.8,173.3 57.9,173.2 58.1,173.2 58.2,168.9 58.4,173.9 58.5,175.8 58.7,177.1 58.8,174.8 59,176.4 59.1,176.6 59.3,175.3 59.4,172.5 59.6,175.9 59.7,176.9 59.9,177.3 60,174.4 60.2,173.4 60.4,169.7 60.5,178 60.7,175.5 60.8,172.3 61,174.6 61.1,175.9 61.3,171.2 61.4,175.5 61.6,177.7 61.7,176.5 61.9,172.3 62,173.2 62.2,178.5 62.3,178.1 62.5,175.9 62.6,175.2 62.8,176.7 62.9,175.1 63.1,175.8 63.3,181.1 63.4,178.1 63.6,175.7 63.7,176.9 63.9,181.1 64,177.6 64.2,175.1 64.3,173.7 64.5,182.9 64.6,171.7 64.8,179.4 64.9,173.8 65.1,172.8 65.2,174 65.4,176.5 65.5,180.2 65.7,175.4 65.9,178.6 66,181.4 66.2,170.5 66.3,173 66.5,170.7 66.6,176.8 66.8,171.5 66.9,172.3 67.1,172.4 67.2,176.8 67.4,179.1 67.5,176.8 67.7,180.7 67.8,178.8 68,173.2 68.1,174.1 68.3,173.5 68.5,173.7 68.6,172 68.8,176 68.9,179 69.1,175.2 69.2,178.8 69.4,176.7 69.5,174 69.7,179.1 69.8,176.8 70,178.6 70.1,174.8 70.3,171.9 70.4,177.1 70.6,174.6 70.7,177.1 70.9,178.2 71.1,178.6 71.2,172.9 71.4,170.7 71.5,174.9 71.7,178 71.8,174.3 72,178 72.1,170.4 72.3,174.2 72.4,174.5 72.6,172.6 72.7,176.1 72.9,177.8 73,180.5 73.2,173.5 73.3,180.4 73.5,176.6 73.7,178.8 73.8,176.4 74,175 74.1,178.6 74.3,177.1 74.4,176.5 74.6,173.5 74.7,171.6 74.9,174.6 75,177.3 75.2,172.3 75.3,178.6 75.5,170.3 75.6,175.5 75.8,178.8 75.9,167.5 76.1,168.2 76.3,173.3 76.4,172.3 76.6,173.7 76.7,173 76.9,178.3 77,177.9 77.2,174.7 77.3,175 77.5,172.4 77.6,174.8 77.8,168.4 77.9,178.4 78.1,175.7 78.2,180.8 78.4,178.8 78.5,172.9 78.7,178.6 78.9,175.8 79,177.2 79.2,179.8 79.3,177.8 79.5,177.7 79.6,177.3 79.8,173.1 79.9,174 80.1,176.8 80.2,177.8 80.4,175.8 80.5,177 80.7,173.8 80.8,170.1 81,173.5 81.1,175.1 81.3,176.2 81.5,178.7 81.6,179.3 81.8,180 81.9,177.4 82.1,178.1 82.2,174.2 82.4,175.5 82.5,175.6 82.7,177.2 82.8,170 83,173.6 83.1,171 83.3,174.4 83.4,173.7 83.6,176.6 83.7,172.7 83.9,167.7 84,176.3 84.2,170 84.4,169.6 84.5,172.5 84.7,171.9 84.8,171.6 85,176.7 85.1,175.1 85.3,178.2 85.4,177.9 85.6,177.4 85.7,175.2 85.9,174.4 86,173.6 86.2,179.2 86.3,171.8 86.5,175.1 86.6,176.9 86.8,178.2 87,177.4 87.1,174.9 87.3,175.4 87.4,181.1 87.6,176 87.7,172.2 87.9,179.8 88,172.6 88.2,174.2 88.3,176.3 88.5,173.9 88.6,180.3 88.8,177.3 88.9,173.5 89.1,178.1 89.2,177.9 89.4,175.5 89.6,170.8 89.7,171.2 89.9,177.4 90,173.8 90.2,179.7 90.3,175 90.5,177.8 90.6,183.4 90.8,172.4 90.9,180.2 91.1,177.9 91.2,171.8 91.4,179.6 91.5,179.7 91.7,173.7 91.8,177.2 92,171.8 92.2,172.7 92.3,172.9 92.5,172.5 92.6,166.1 92.8,170.4 92.9,173.5 93.1,174.4 93.2,175.4 93.4,177.7 93.5,171.2 93.7,175.1 93.8,178.7 94,178 94.1,174.5 94.3,174.6 94.4,175.5 94.6,176.6 94.8,176.1 94.9,181 95.1,181.2 95.2,175.2 95.4,179.1 95.5,175.6 95.7,173.2 95.8,175.6 96,176.8 96.1,172.5 96.3,176.2 96.4,178.4 96.6,176 96.7,176.7 96.9,180.3 97,178.4 97.2,178.6 97.4,182.3 97.5,178.3 97.7,177.9 97.8,174.7 98,182.5 98.1,178.1 98.3,177.6 98.4,176.2 98.6,179.1 98.7,175 98.9,179.4 99,178.2 99.2,173.8 99.3,178.9 99.5,178 99.6,173.8 99.8,178.2 100,178 100.1,177 100.3,174.5 100.4,182.2 100.6,179 100.7,179.4 100.9,178.8 101,176.9 101.2,176.3 101.3,171.9 101.5,176.8 101.6,175.1 101.8,175.8 101.9,180 102.1,179.1 102.2,174.5 102.4,177.5 102.6,179.8 102.7,177.6 102.9,180.2 103,176.7 103.2,175.4 103.3,180.4 103.5,179.5 103.6,175.6 103.8,179.2 103.9,176.7 104.1,178.7 104.2,179.1 104.4,178.2 104.5,171 104.7,177.6 104.8,178.8 105,179.5 105.1,180.2 105.3,177.4 105.5,177.2 105.6,172.8 105.8,177.2 105.9,174.8 106.1,177.3 106.2,177.5 106.4,181.4 106.5,178.7 106.7,178.7 106.8,178.2 107,183.2 107.1,176.2 107.3,180.3 107.4,179.1 107.6,178.1 107.7,176.6 107.9,174.2 108.1,179.3 108.2,179.4 108.4,176.9 108.5,177.4 108.7,178.6 108.8,179.5 109,180.1 109.1,178.3 109.3,174.6 109.4,178.4 109.6,172.3 109.7,174.3 109.9,178.1 110,176.5 110.2,182.1 110.3,182.4 110.5,181.9 110.7,179.2 110.8,178.6 111,178.9 111.1,177 111.3,183 111.4,177.3 111.6,182.1 111.7,180.5 111.9,179.4 112,180.6 112.2,181.8 112.3,180.6 112.5,179.1 112.6,178 112.8,177.5 112.9,182.3 113.1,181.1 113.3,181 113.4,177.7 113.6,182.7 113.7,175.2 113.9,179.9 114,180.7 114.2,178.1 114.3,176.2 114.5,178 114.6,176 114.8,177.8 114.9,175.4 115.1,175 115.2,178 115.4,175.4 115.5,178.1 115.7,177.9 115.9,180.5 116,177.9 116.2,176 116.3,181.3 116.5,176.5 116.6,176.9 116.8,176 116.9,181 117.1,174.9 117.2,173.5 117.4,175.9 117.5,174.1 117.7,181.5 117.8,175.7 118,180.2 118.1,178 118.3,183.5 118.5,178.7 118.6,181.6 118.8,178.1 118.9,181.8 119.1,177.7 119.2,166.4 119.4,179 119.5,178.5 119.7,177.4 119.8,179.5 120,175.8 120.1,175.8 120.3,181.3 120.4,183.4 120.6,175.8 120.7,175.1 120.9,176.5 121.1,175.9 121.2,180.4 121.4,179 121.5,181 121.7,180.8 121.8,175.7 122,179.8 122.1,174.1 122.3,180.2 122.4,181.5 122.6,178.3 122.7,175.2 122.9,178.4 123,183 123.2,179.5 123.3,176.1 123.5,180.1 123.7,175.6 123.8,171.7 124,175.4 124.1,178.9 124.3,178.1 124.4,179.7 124.6,180.1 124.7,180.3 124.9,177.5 125,178.7 125.2,181.7 125.3,176.4 125.5,175.4 125.6,176.7 125.8,175.8 125.9,180.5 126.1,181.6 126.2,176.9 126.4,181 126.6,183.5 126.7,175.9 126.9,180.5 127,179.8 127.2,178.3 127.3,181.4 127.5,181.7 127.6,180.6 127.8,179 127.9,185.5 128.1,177.4 128.2,182.8 128.4,182.9 128.5,179 128.7,181.7 128.8,185.2 129,176.2 129.2,182.6 129.3,179.4 129.5,179 129.6,176.1 129.8,181 129.9,177.2 130.1,181.6 130.2,178.2 130.4,182.5 130.5,182.5 130.7,176.4 130.8,179.6 131,180.7 131.1,175.3 131.3,180.3 131.4,182.8 131.6,179 131.8,183.8 131.9,177.3 132.1,175.3 132.2,176.2 132.4,175.3 132.5,173.8 132.7,176.4 132.8,181.6 133,179.3 133.1,185.6 133.3,182.4 133.4,182.7 133.6,182.8 133.7,182.3 133.9,185.9 134,181.5 134.2,182.6 134.4,182.9 134.5,184.7 134.7,184 134.8,180 135,183.8 135.1,181.9 135.3,179.9 135.4,179.7 135.6,178 135.7,182.7 135.9,184.2 136,180 136.2,181.3 136.3,177 136.5,182.9 136.6,180.2 136.8,180.1 137,179.1 137.1,179.1 137.3,178.9 137.4,179.5 137.6,180.2 137.7,178.6 137.9,181.9 138,177.4 138.2,181.4 138.3,178.9 138.5,181.1 138.6,180.8 138.8,175.5 138.9,180.5 139.1,184.9 139.2,184.2 139.4,183.7 139.6,177.9 139.7,181.2 139.9,180 140,185.5 140.2,182.3 140.3,182.3 140.5,179.6 140.6,184.9 140.8,181 140.9,181 141.1,182.7 141.2,178.9 141.4,179.7 141.5,182.5 141.7,178.2 141.8,180.8 142,184.4 142.2,188.3 142.3,181.9 142.5,183.8 142.6,182.6 142.8,180.9 142.9,186.1 143.1,182.8 143.2,180 143.4,184.3 143.5,183.7 143.7,183.9 143.8,181.6 144,184.7 144.1,185.4 144.3,184.4 144.4,181.6 144.6,183 144.8,181.7 144.9,182 145.1,179.1 145.2,183.2 145.4,184.9 145.5,178.4 145.7,180.8 145.8,183.1 146,184.4 146.1,179.5 146.3,184.2 146.4,183.8 146.6,182.9 146.7,182.5 146.9,179.4 147,183.7 147.2,179.2 147.3,186.3 147.5,182.4 147.7,186.7 147.8,179.3 148,183.6 148.1,183.8 148.3,181.5 148.4,179.9 148.6,185 148.7,182.3 148.9,183.3 149,178.4 149.2,181.4 149.3,177.5 149.5,183.5 149.6,184.3 149.8,185.9 149.9,183.3 150.1,182.1 150.3,189.3 150.4,185.9 150.6,187.6 150.7,185.3 150.9,189.8 151,187.8 151.2,188.7 151.3,184.2 151.5,184 151.6,184.4 151.8,184.2 151.9,186.3 152.1,190.8 152.2,186.2 152.4,185.9 152.5,187 152.7,184.8 152.9,183.3 153,189.1 153.2,187.9 153.3,181.2 153.5,181.6 153.6,186.7 153.8,187.4 153.9,185.9 154.1,185.8 154.2,188.2 154.4,185.8 154.5,189.3 154.7,189.5 154.8,184.5 155,188.4 155.1,186 155.3,184.1 155.5,184.5 155.6,187.4 155.8,187.6 155.9,189.8 156.1,182.3 156.2,182.2 156.4,186.4 156.5,181.1 156.7,180.6 156.8,182 157,179.9 157.1,181.5 157.3,186.3 157.4,185.5 157.6,189.3 157.7,186.6 157.9,187 158.1,182.1 158.2,186.7 158.4,193 158.5,189.5 158.7,187.6 158.8,192 159,191.3 159.1,189.9 159.3,187.9 159.4,188.1 159.6,190 159.7,186 159.9,188.9 160,188.5 160.2,189.7 160.3,188.5 160.5,185.2 160.7,191.3 160.8,188.1 161,186.2 161.1,188.5 161.3,186.6 161.4,188.6 161.6,182.6 161.7,183.4 161.9,186 162,191.5 162.2,188.2 162.3,183.5 162.5,181.7 162.6,185.1 162.8,184 162.9,188.2 163.1,183.1 163.3,187.7 163.4,187 163.6,192.4 163.7,186.1 163.9,182.6 164,187.4 164.2,185.5 164.3,181.5 164.5,184.8 164.6,189.2 164.8,182.5 164.9,181.3 165.1,187 165.2,181 165.4,186.7 165.5,189 165.7,186.8 165.9,190.2 166,189.3 166.2,186.3 166.3,189 166.5,189.1 166.6,183.8 166.8,186.6 166.9,180.6 167.1,186.9 167.2,187.5 167.4,184.7 167.5,187.9 167.7,184.4 167.8,190.6 168,189.4 168.1,191.9 168.3,187.6 168.4,184.6 168.6,181.9 168.8,187.2 168.9,186.8 169.1,188.7 169.2,188.7 169.4,191 169.5,187.5 169.7,191.9 169.8,187.5 170,187 170.1,185.7 170.3,190.3 170.4,191.5 170.6,183.6 170.7,190.7 170.9,184 171,187.8 171.2,189.5 171.4,191.3 171.5,185 171.7,180.8 171.8,186.4 172,184.6 172.1,179.1 172.3,178.1 172.4,177.6 172.6,186.3 172.7,184 172.9,189 173,182.9 173.2,188.3 173.3,192.4 173.5,187.7 173.6,187.2 173.8,182.4 174,187 174.1,185.7 174.3,183.7 174.4,181.4 174.6,186.3 174.7,183.1 174.9,184.5 175,187.1 175.2,186 175.3,186.2 175.5,188.3 175.6,183.1 175.8,189.3 175.9,182.5 176.1,182.8 176.2,184.5 176.4,185.1 176.6,184 176.7,181.1 176.9,181.3 177,182.6 177.2,181.3 177.3,185.2 177.5,181.8 177.6,187.6 177.8,182.2 177.9,184.3 178.1,186.1 178.2,180.8 178.4,181.4 178.5,188.4 178.7,183 178.8,186.6 179,179 179.2,176.2 179.3,182 179.5,180.5 179.6,181.1 179.8,178.1 179.9,179.9 180.1,177.9 180.2,185.5 180.4,180.8 180.5,187.2 180.7,184.4 180.8,181.4 181,181.4 181.1,184.6 181.3,183.4 181.4,183 181.6,182.5 181.8,179.2 181.9,185 182.1,180.9 182.2,180.6 182.4,181 182.5,181.7 182.7,179.4 182.8,181.2 183,180.6 183.1,181.3 183.3,178.5 183.4,188 183.6,180.1 183.7,184.5 183.9,183.2 184,185.1 184.2,186.7 184.4,182.6 184.5,184.9 184.7,182.7 184.8,188.4 185,182 185.1,184.7 185.3,186.1 185.4,188.6 185.6,189.1 185.7,191.4 185.9,189.8 186,188.1 186.2,189 186.3,191.2 186.5,188.6 186.6,190.7 186.8,188.9 186.9,185.4 187.1,189.6 187.3,190.7 187.4,191 187.6,189.9 187.7,189.6 187.9,182.5 188,188.3 188.2,187.3 188.3,190.5 188.5,189.2 188.6,180.8 188.8,190.6 188.9,189.9 189.1,192 189.2,188.8 189.4,193.8 189.5,193.9 189.7,194.2 189.9,193.9 190,190.5 190.2,187.2 190.3,194.8 190.5,191.4 190.6,188.9 190.8,196.3 190.9,195.8 191.1,195.7 191.2,195.3 191.4,188.5 191.5,197.9 191.7,193.2 191.8,195.1 192,197.7 192.1,196 192.3,194.4 192.5,195.8 192.6,195.5 192.8,189.1 192.9,202 193.1,195 193.2,194.3 193.4,198.6 193.5,197.8 193.7,203.5 193.8,199.9 194,199.7 194.1,199.2 194.3,196 194.4,200.3 194.6,199.3 194.7,205 194.9,200.9 195.1,201.1 195.2,204.8 195.4,203.9 195.5,198.6 195.7,207 195.8,205.1 196,204.8 196.1,198.3 196.3,194.2 196.4,199 196.6,201.2 196.7,203.5 196.9,198.9 197,207.6 197.2,202.7 197.3,201.8 197.5,205.8 197.7,204.6 197.8,204.3 198,202.5 198.1,209.1 198.3,202.4 198.4,205.7 198.6,207.9 198.7,205.5 198.9,206 199,204.5 199.2,208.9 199.3,207.4 199.5,203 199.6,202.1 199.8,205.6 199.9,203.6 200.1,207.4 200.3,206.3 200.4,205.6 200.6,209.2 200.7,209 200.9,206 201,205.6 201.2,207 201.3,202.5 201.5,203.6 201.6,200.8 201.8,203.4 201.9,204.4 202.1,202.9 202.2,204.1 202.4,204.3 202.5,203.3 202.7,201.1 202.9,200.8 203,200.2 203.2,207.2 203.3,203.8 203.5,202.8 203.6,201.2 203.8,203.9 203.9,199.4 204.1,202.2 204.2,203.2 204.4,203.9 204.5,196.1 204.7,195.6 204.8,198.8 205,194.1 205.1,199.4 205.3,194.3 205.5,197.4 205.6,198.8 205.8,197.5 205.9,198.2 206.1,196.1 206.2,196.9 206.4,198.1 206.5,200.1 206.7,204.1 206.8,199.2 207,203.6 207.1,197.5 207.3,193.9 207.4,195.8 207.6,197.3 207.7,196.8 207.9,197.6" fill="none" stroke="#1a1aff" stroke-width="0.65" stroke-dasharray="2.6 1.8" clip-path="url(#cd)"/>
<polyline points="31.3,140.2 31.5,144.5 31.6,139.3 31.8,145.7 31.9,150.4 32.1,156.9 32.2,156.9 32.4,156.1 32.5,165.1 32.7,161.8 32.8,159.7 33,162.5 33.1,161.5 33.3,156.1 33.4,160.1 33.6,157.4 33.7,158.9 33.9,166.8 34.1,166 34.2,165.2 34.4,163.3 34.5,172.3 34.7,166.8 34.8,163.5 35,167.2 35.1,166.5 35.3,168.1 35.4,172.6 35.6,164.3 35.7,169.7 35.9,167.8 36,169.9 36.2,165.7 36.3,168.5 36.5,169.5 36.7,170.4 36.8,171.8 37,170.1 37.1,168.3 37.3,172.5 37.4,179.2 37.6,175.5 37.7,168.7 37.9,176 38,178.5 38.2,180.7 38.3,178 38.5,179.3 38.6,176.4 38.8,176.4 38.9,177.8 39.1,175.8 39.3,179.8 39.4,173.9 39.6,178.1 39.7,176.2 39.9,173.4 40,180.2 40.2,178.3 40.3,179.6 40.5,180.1 40.6,180.3 40.8,182.1 40.9,189.3 41.1,182.3 41.2,184.6 41.4,184.2 41.5,184.4 41.7,184.9 41.8,184.8 42,185.5 42.2,186.1 42.3,186.6 42.5,186.8 42.6,186.8 42.8,187.7 42.9,187.6 43.1,188.3 43.2,188.6 43.4,189.5 43.5,189.1 43.7,188.6 43.8,189.1 44,189.3 44.1,189.7 44.3,189.7 44.4,190.7 44.6,189.9 44.8,190.3 44.9,190.9 45.1,190.4 45.2,191.5 45.4,190.6 45.5,189.5 45.7,188.6 45.8,196.8 46,188.6 46.1,187.8 46.3,187.4 46.4,187.1 46.6,186.5 46.7,185.8 46.9,186.5 47,186.8 47.2,186.4 47.4,185.8 47.5,185.9 47.7,186.1 47.8,186.3 48,185.9 48.1,185.3 48.3,185.9 48.4,186 48.6,186.8 48.7,186.5 48.9,186.5 49,185.8 49.2,186.4 49.3,186.4 49.5,186.4 49.6,186.9 49.8,185.9 50,186.8 50.1,186.5 50.3,186.7 50.4,186.2 50.6,186.2 50.7,186.1 50.9,185.6 51,186.5 51.2,186.2 51.3,186.1 51.5,186.3 51.6,186.2 51.8,185.4 51.9,185.7 52.1,186.2 52.2,185.9 52.4,186.3 52.6,185.9 52.7,186.5 52.9,186 53,186.1 53.2,186.2 53.3,186.3 53.5,186.1 53.6,186.5 53.8,186.2 53.9,186 54.1,186 54.2,186.3 54.4,185.8 54.5,186.3 54.7,186.2 54.8,186.1 55,186 55.2,185.8 55.3,185.6 55.5,185.8 55.6,195.3 55.8,186.5 55.9,185.9 56.1,185.7 56.2,186.2 56.4,186.4 56.5,186.2 56.7,185.5 56.8,186.3 57,186.2 57.1,185.8 57.3,186.5 57.4,186.4 57.6,186 57.8,185.6 57.9,186.1 58.1,186.4 58.2,188.4 58.4,182.6 58.5,186.7 58.7,179.2 58.8,184.4 59,178.4 59.1,176.6 59.3,187.2 59.4,180.8 59.6,179.4 59.7,177.3 59.9,184.1 60,179.3 60.2,183.9 60.4,189.6 60.5,180.9 60.7,180.1 60.8,185.3 61,185.7 61.1,182.6 61.3,180.1 61.4,190.3 61.6,180.6 61.7,175.9 61.9,183.2 62,176.6 62.2,177.7 62.3,174.4 62.5,172.2 62.6,186 62.8,184 62.9,190.8 63.1,187.7 63.3,178.9 63.4,188 63.6,184.6 63.7,185.5 63.9,182.6 64,185.6 64.2,188.8 64.3,188.7 64.5,185.8 64.6,191.7 64.8,196 64.9,182.5 65.1,187.1 65.2,187.8 65.4,185.2 65.5,183 65.7,188 65.9,185.4 66,186.9 66.2,179.9 66.3,194.1 66.5,191.1 66.6,181.3 66.8,190.9 66.9,189.5 67.1,190.6 67.2,193.1 67.4,192.5 67.5,181.9 67.7,182.6 67.8,190.5 68,188 68.1,178.6 68.3,186 68.5,188 68.6,181.6 68.8,185.3 68.9,191 69.1,187.4 69.2,180.5 69.4,186.2 69.5,188.8 69.7,184.3 69.8,190 70,192.1 70.1,184.2 70.3,188.5 70.4,184.9 70.6,187.1 70.7,187 70.9,185.4 71.1,181.7 71.2,175.7 71.4,188.7 71.5,179.4 71.7,180.8 71.8,195.3 72,187.1 72.1,181 72.3,185.3 72.4,186.6 72.6,186 72.7,178.8 72.9,193.6 73,185.4 73.2,181.9 73.3,189.8 73.5,181.1 73.7,188.7 73.8,185.7 74,181.7 74.1,187.3 74.3,184.1 74.4,183.1 74.6,187 74.7,181.2 74.9,180.2 75,190.1 75.2,187 75.3,184.5 75.5,187.6 75.6,179 75.8,178.5 75.9,187.4 76.1,184.1 76.3,187.2 76.4,185.2 76.6,182.4 76.7,184.3 76.9,183.4 77,185.4 77.2,178.5 77.3,178.4 77.5,184.4 77.6,180.3 77.8,174.9 77.9,186.1 78.1,179.8 78.2,177.5 78.4,187.1 78.5,183.5 78.7,195.1 78.9,176.9 79,177.9 79.2,173.7 79.3,176.5 79.5,176.1 79.6,177.3 79.8,181.9 79.9,185.3 80.1,186.5 80.2,184 80.4,184.1 80.5,187.2 80.7,189.4 80.8,185.1 81,188.1 81.1,185.9 81.3,189.2 81.5,188.9 81.6,185.5 81.8,184.5 81.9,176 82.1,186.7 82.2,181.9 82.4,185 82.5,185.5 82.7,186.2 82.8,182.1 83,182.3 83.1,189.2 83.3,181.2 83.4,185.2 83.6,190.2 83.7,188.3 83.9,182.4 84,182.5 84.2,185 84.4,179 84.5,181.1 84.7,189.4 84.8,189.2 85,181.2 85.1,186.3 85.3,184.4 85.4,180 85.6,182.7 85.7,181.4 85.9,183.2 86,172.5 86.2,187.4 86.3,185.1 86.5,178.5 86.6,183 86.8,185 87,186.5 87.1,177.7 87.3,187.7 87.4,191.6 87.6,190.4 87.7,184.9 87.9,179.9 88,187.4 88.2,180.2 88.3,189.3 88.5,188.6 88.6,186.4 88.8,181.8 88.9,184.9 89.1,183.9 89.2,193.7 89.4,180.5 89.6,186.5 89.7,176.6 89.9,183.2 90,189.9 90.2,185 90.3,189.2 90.5,181.8 90.6,186.6 90.8,183.4 90.9,189.4 91.1,188.4 91.2,184.9 91.4,185.4 91.5,189.4 91.7,186.1 91.8,183.8 92,189.1 92.2,191.1 92.3,189 92.5,183.4 92.6,184.7 92.8,182.9 92.9,179.6 93.1,184.8 93.2,184.4 93.4,181.7 93.5,176.7 93.7,184.4 93.8,185 94,188.8 94.1,182.8 94.3,183.5 94.4,186.9 94.6,175.3 94.8,177.5 94.9,177.4 95.1,181.2 95.2,187.1 95.4,191.1 95.5,183.7 95.7,182.3 95.8,196.5 96,185.5 96.1,183.1 96.3,183.8 96.4,183 96.6,185.8 96.7,196.2 96.9,180.5 97,191.5 97.2,183.6 97.4,188.6 97.5,187.1 97.7,189.1 97.8,186.5 98,191.5 98.1,194.4 98.3,203.1 98.4,189.6 98.6,186 98.7,183 98.9,188.1 99,178.8 99.2,186.7 99.3,183.6 99.5,193.2 99.6,189.6 99.8,188.9 100,188.1 100.1,189.3 100.3,184.7 100.4,186.7 100.6,178.5 100.7,186.3 100.9,187.9 101,196.9 101.2,182 101.3,182.9 101.5,190.3 101.6,189.9 101.8,187.2 101.9,179 102.1,189 102.2,187.7 102.4,188.5 102.6,180.4 102.7,179.5 102.9,187.3 103,181.6 103.2,184.4 103.3,189.2 103.5,184.1 103.6,180.8 103.8,181.3 103.9,183.6 104.1,179.9 104.2,185.4 104.4,185.4 104.5,178.5 104.7,188.1 104.8,186.3 105,188.4 105.1,187.5 105.3,195.6 105.5,191.9 105.6,193.4 105.8,188.1 105.9,191.5 106.1,193.2 106.2,184.4 106.4,183.2 106.5,181.4 106.7,178.7 106.8,186.6 107,189.7 107.1,182.9 107.3,184 107.4,186.5 107.6,183.2 107.7,177.8 107.9,190.8 108.1,188.8 108.2,184.4 108.4,189 108.5,178 108.7,194.5 108.8,189.6 109,181.8 109.1,186.5 109.3,192.1 109.4,183.4 109.6,181.1 109.7,192.2 109.9,180.8 110,180.3 110.2,180 110.3,185.3 110.5,188 110.7,189.1 110.8,186.2 111,184 111.1,184.7 111.3,191.5 111.4,186.3 111.6,176.4 111.7,188 111.9,184.8 112,187 112.2,179.5 112.3,188.8 112.5,187.4 112.6,193.7 112.8,184.7 112.9,183.8 113.1,191.6 113.3,193.2 113.4,193.3 113.6,183 113.7,186.6 113.9,184.1 114,185.9 114.2,192.7 114.3,194.3 114.5,192 114.6,178.6 114.8,187 114.9,182.5 115.1,188.8 115.2,176.6 115.4,183.9 115.5,190.8 115.7,185.7 115.9,183.8 116,181 116.2,186.9 116.3,183.6 116.5,184.9 116.6,185.6 116.8,188 116.9,185.3 117.1,181.2 117.2,186.4 117.4,187 117.5,176.7 117.7,182.5 117.8,181.9 118,200.8 118.1,181.5 118.3,192 118.5,179.8 118.6,180.7 118.8,185.1 118.9,187 119.1,191.9 119.2,195.3 119.4,199 119.5,186 119.7,191.5 119.8,185.5 120,185.3 120.1,177.7 120.3,190 120.4,181.2 120.6,190.8 120.7,193.6 120.9,189.7 121.1,186.9 121.2,189 121.4,184.8 121.5,183.8 121.7,182.2 121.8,190.7 122,185.9 122.1,189.9 122.3,186.3 122.4,187 122.6,185.1 122.7,185.5 122.9,181.5 123,181.6 123.2,185.9 123.3,189.7 123.5,179 123.7,180.7 123.8,184.8 124,180.1 124.1,184.9 124.3,185 124.4,186.5 124.6,179.9 124.7,186 124.9,183.7 125,185.2 125.2,178.3 125.3,181.3 125.5,183.1 125.6,199.3 125.8,186.2 125.9,186.2 126.1,188.2 126.2,184.8 126.4,186.1 126.6,181.3 126.7,182.1 126.9,181.8 127,174.8 127.2,183.3 127.3,183.3 127.5,186 127.6,196.4 127.8,197.8 127.9,191 128.1,185.9 128.2,189.4 128.4,180.4 128.5,182.3 128.7,187.4 128.8,178.7 129,185.7 129.2,187.6 129.3,180.5 129.5,183.8 129.6,186 129.8,180.8 129.9,181 130.1,180.9 130.2,178.7 130.4,182.4 130.5,179.1 130.7,184.7 130.8,184.8 131,193.3 131.1,186.6 131.3,175.1 131.4,184.9 131.6,185 131.8,185.5 131.9,192.3 132.1,182.4 132.2,177.1 132.4,178 132.5,185 132.7,187.8 132.8,185.2 133,191.1 133.1,185.9 133.3,180.8 133.4,182.4 133.6,187 133.7,188.1 133.9,182.6 134,186.1 134.2,190.8 134.4,187.9 134.5,194.5 134.7,192.8 134.8,190.5 135,186.6 135.1,194 135.3,184.8 135.4,185.9 135.6,188.1 135.7,188.2 135.9,181.4 136,187.7 136.2,187.1 136.3,182.9 136.5,189.4 136.6,175.3 136.8,186.2 137,184.7 137.1,188.4 137.3,185.6 137.4,188 137.6,188.4 137.7,191.4 137.9,194.9 138,180.6 138.2,181.2 138.3,181.1 138.5,183.3 138.6,184.9 138.8,189.2 138.9,177.5 139.1,187.4 139.2,189 139.4,178.1 139.6,186.3 139.7,185.5 139.9,189.3 140,184.1 140.2,182.9 140.3,181.9 140.5,189.7 140.6,183.5 140.8,190 140.9,194.7 141.1,193.4 141.2,185.5 141.4,194.5 141.5,188.3 141.7,187.6 141.8,185.3 142,185.6 142.2,181.1 142.3,182.3 142.5,184.9 142.6,178.1 142.8,190.5 142.9,188.2 143.1,184.1 143.2,185.2 143.4,180.9 143.5,180 143.7,190.5 143.8,177.1 144,185.1 144.1,184.1 144.3,186.4 144.4,187.5 144.6,180.9 144.8,181.9 144.9,182.4 145.1,186.3 145.2,177.4 145.4,183.8 145.5,184.4 145.7,185.6 145.8,186.3 146,182.8 146.1,189 146.3,184.2 146.4,187 146.6,184.1 146.7,189 146.9,182.4 147,182.3 147.2,185.5 147.3,182.8 147.5,183.6 147.7,187 147.8,189 148,182.8 148.1,181.8 148.3,182.3 148.4,190.9 148.6,187.5 148.7,189 148.9,177.2 149,184.2 149.2,177.4 149.3,187.9 149.5,178.6 149.6,182.5 149.8,182.7 149.9,180.2 150.1,177.7 150.3,177.4 150.4,189.5 150.6,185.8 150.7,182.7 150.9,182.1 151,182.7 151.2,187.3 151.3,183.9 151.5,186.9 151.6,183.9 151.8,178.8 151.9,183.3 152.1,180.7 152.2,178.7 152.4,180.3 152.5,190 152.7,190.3 152.9,195 153,183 153.2,186.6 153.3,187.6 153.5,186.3 153.6,191.3 153.8,182.5 153.9,187.2 154.1,179.2 154.2,181.8 154.4,185.8 154.5,183.3 154.7,186.7 154.8,184.7 155,178.8 155.1,177.7 155.3,184 155.5,180.5 155.6,190.6 155.8,184.2 155.9,182.9 156.1,185.2 156.2,183 156.4,179.2 156.5,184.7 156.7,191 156.8,180.5 157,180.1 157.1,184.5 157.3,185.7 157.4,178.2 157.6,175.9 157.7,184.9 157.9,173.1 158.1,184.5 158.2,186.8 158.4,185.2 158.5,189.8 158.7,183.8 158.8,184.6 159,186 159.1,184.2 159.3,190.3 159.4,193.1 159.6,183 159.7,182.9 159.9,184.9 160,190.7 160.2,185.3 160.3,187.7 160.5,180.8 160.7,190.6 160.8,195.1 161,190.4 161.1,185 161.3,186.8 161.4,192.8 161.6,193.4 161.7,189.3 161.9,183.5 162,182.8 162.2,190.7 162.3,185.8 162.5,193.6 162.6,189.7 162.8,186.6 162.9,182.7 163.1,182.9 163.3,182.5 163.4,187.4 163.6,185.1 163.7,182.8 163.9,185.2 164,184.1 164.2,190.1 164.3,178.3 164.5,178.6 164.6,179.6 164.8,181.8 164.9,188.4 165.1,190.5 165.2,183.6 165.4,187.8 165.5,190.8 165.7,184.4 165.9,176 166,183.7 166.2,182.8 166.3,181.7 166.5,181.3 166.6,186.8 166.8,178 166.9,178.1 167.1,183.2 167.2,183.6 167.4,185.5 167.5,183.2 167.7,188.2 167.8,190.3 168,185.7 168.1,183.7 168.3,182.2 168.4,187.7 168.6,183.6 168.8,184.2 168.9,180.2 169.1,184.8 169.2,180.9 169.4,181.2 169.5,186.1 169.7,184.9 169.8,185.7 170,185.9 170.1,185.8 170.3,189.2 170.4,183.6 170.6,183.9 170.7,185.7 170.9,183.9 171,182.5 171.2,178 171.4,180.6 171.5,184 171.7,180.6 171.8,190.1 172,185.3 172.1,188 172.3,184.7 172.4,186.8 172.6,188.8 172.7,188.4 172.9,189.1 173,188.6 173.2,192.7 173.3,179.8 173.5,182.6 173.6,180.7 173.8,175.8 174,180 174.1,189.2 174.3,185.3 174.4,179.7 174.6,184.4 174.7,182.7 174.9,182.7 175,187.2 175.2,182 175.3,182.5 175.5,184.1 175.6,178.5 175.8,171.7 175.9,179.7 176.1,184.8 176.2,179.5 176.4,181.3 176.6,186.5 176.7,178.9 176.9,177.6 177,184.1 177.2,180.4 177.3,181.2 177.5,181.9 177.6,180.3 177.8,179.5 177.9,178.5 178.1,178.8 178.2,176.9 178.4,180.3 178.5,181.4 178.7,177 178.8,181.4 179,173 179.2,182.6 179.3,173 179.5,178.9 179.6,176.2 179.8,173.6 179.9,174.9 180.1,176.6 180.2,182.2 180.4,178.7 180.5,178.2 180.7,172.2 180.8,185.4 181,170.8 181.1,173.6 181.3,178.8 181.4,169.8 181.6,165.2 181.8,166.8 181.9,178.7 182.1,179.6 182.2,173.4 182.4,183.1 182.5,178 182.7,181.4 182.8,176.7 183,177.6 183.1,175.2 183.3,181 183.4,176 183.6,178.3 183.7,170.3 183.9,177.9 184,172.9 184.2,173.1 184.4,177.3 184.5,179.8 184.7,181.7 184.8,179.2 185,177.2 185.1,182.8 185.3,183.2 185.4,175.3 185.6,175.1 185.7,174 185.9,176.1 186,188.9 186.2,182.4 186.3,181.5 186.5,181.3 186.6,177.9 186.8,174.3 186.9,182 187.1,180.8 187.3,177.3 187.4,175.9 187.6,188.6 187.7,177.7 187.9,178.2 188,187.8 188.2,180.6 188.3,187.6 188.5,178.6 188.6,185.5 188.8,185.2 188.9,188.8 189.1,183.1 189.2,183.1 189.4,185.8 189.5,184.7 189.7,186.4 189.9,188 190,184.8 190.2,183 190.3,185.6 190.5,182.8 190.6,188 190.8,190.4 190.9,182.4 191.1,189.9 191.2,187.4 191.4,192.4 191.5,194.9 191.7,194 191.8,191.9 192,183.8 192.1,191.6 192.3,188.8 192.5,190 192.6,188.5 192.8,193.1 192.9,185.8 193.1,191.5 193.2,194.8 193.4,191.2 193.5,198.4 193.7,194.3 193.8,189.6 194,184.4 194.1,192.8 194.3,186.2 194.4,188.9 194.6,196.6 194.7,191.6 194.9,189.6 195.1,198.1 195.2,189.6 195.4,201.6 195.5,190 195.7,191.9 195.8,196.7 196,193.7 196.1,196.9 196.3,201.3 196.4,188.9 196.6,193.1 196.7,192.9 196.9,199.4 197,205.6 197.2,195.7 197.3,200.2 197.5,198.3 197.7,199.4 197.8,205.7 198,199.7 198.1,202.9 198.3,199.7 198.4,194.9 198.6,204.1 198.7,209.4 198.9,200.6 199,194.4 199.2,198 199.3,195.6 199.5,202.9 199.6,205.1 199.8,200 199.9,195.7 200.1,199.8 200.3,203.2 200.4,203.4 200.6,192.6 200.7,192.7 200.9,200.6 201,202.9 201.2,189.6 201.3,197.9 201.5,197.8 201.6,196.2 201.8,196.5 201.9,197 202.1,196.2 202.2,204.1 202.4,197.1 202.5,194.8 202.7,195.8 202.9,188.8 203,194.2 203.2,193.6 203.3,199 203.5,185.4 203.6,188.8 203.8,196.4 203.9,186 204.1,194 204.2,186 204.4,189.4 204.5,193.9 204.7,191.7 204.8,190.9 205,185.3 205.1,185 205.3,196 205.5,190.8 205.6,183.5 205.8,185.1 205.9,183.3 206.1,182 206.2,182.4 206.4,180.2 206.5,185.8 206.7,193.6 206.8,180.4 207,185.1 207.1,189.1 207.3,182.4 207.4,184.4 207.6,179.9 207.7,184.9 207.9,175.3" fill="none" stroke="#ff1a1a" stroke-width="0.65" stroke-dasharray="2.6 1.8" clip-path="url(#cd)"/>
<rect x="31.3" y="131.1" width="177" height="91.8" fill="none" stroke="#555555" stroke-width="1"/>
<line x1="59.1" y1="222.9" x2="59.1" y2="221.1" stroke="#555555" stroke-width="0.8"/>
<line x1="59.1" y1="131.1" x2="59.1" y2="132.9" stroke="#555555" stroke-width="0.8"/>
<line x1="86.9" y1="222.9" x2="86.9" y2="221.1" stroke="#555555" stroke-width="0.8"/>
<line x1="86.9" y1="131.1" x2="86.9" y2="132.9" stroke="#555555" stroke-width="0.8"/>
<line x1="114.7" y1="222.9" x2="114.7" y2="221.1" stroke="#555555" stroke-width="0.8"/>
<line x1="114.7" y1="131.1" x2="114.7" y2="132.9" stroke="#555555" stroke-width="0.8"/>
<line x1="142.5" y1="222.9" x2="142.5" y2="221.1" stroke="#555555" stroke-width="0.8"/>
<line x1="142.5" y1="131.1" x2="142.5" y2="132.9" stroke="#555555" stroke-width="0.8"/>
<line x1="170.3" y1="222.9" x2="170.3" y2="221.1" stroke="#555555" stroke-width="0.8"/>
<line x1="170.3" y1="131.1" x2="170.3" y2="132.9" stroke="#555555" stroke-width="0.8"/>
<line x1="198.1" y1="222.9" x2="198.1" y2="221.1" stroke="#555555" stroke-width="0.8"/>
<line x1="198.1" y1="131.1" x2="198.1" y2="132.9" stroke="#555555" stroke-width="0.8"/>
<line x1="31.3" y1="215.25" x2="33.1" y2="215.25" stroke="#555555" stroke-width="0.8"/>
<line x1="208.3" y1="215.25" x2="206.5" y2="215.25" stroke="#555555" stroke-width="0.8"/>
<line x1="31.3" y1="199.95" x2="33.1" y2="199.95" stroke="#555555" stroke-width="0.8"/>
<line x1="208.3" y1="199.95" x2="206.5" y2="199.95" stroke="#555555" stroke-width="0.8"/>
<line x1="31.3" y1="184.65" x2="33.1" y2="184.65" stroke="#555555" stroke-width="0.8"/>
<line x1="208.3" y1="184.65" x2="206.5" y2="184.65" stroke="#555555" stroke-width="0.8"/>
<line x1="31.3" y1="169.35" x2="33.1" y2="169.35" stroke="#555555" stroke-width="0.8"/>
<line x1="208.3" y1="169.35" x2="206.5" y2="169.35" stroke="#555555" stroke-width="0.8"/>
<line x1="31.3" y1="154.05" x2="33.1" y2="154.05" stroke="#555555" stroke-width="0.8"/>
<line x1="208.3" y1="154.05" x2="206.5" y2="154.05" stroke="#555555" stroke-width="0.8"/>
<line x1="31.3" y1="138.75" x2="33.1" y2="138.75" stroke="#555555" stroke-width="0.8"/>
<line x1="208.3" y1="138.75" x2="206.5" y2="138.75" stroke="#555555" stroke-width="0.8"/>
<clipPath id="ce"><rect x="263.5" y="132.9" width="176.9" height="91.9"/></clipPath>
<line x1="293.36" y1="132.9" x2="293.36" y2="224.8" stroke="#d3d3d3" stroke-width="0.8"/>
<line x1="323.22" y1="132.9" x2="323.22" y2="224.8" stroke="#d3d3d3" stroke-width="0.8"/>
<line x1="353.08" y1="132.9" x2="353.08" y2="224.8" stroke="#d3d3d3" stroke-width="0.8"/>
<line x1="382.94" y1="132.9" x2="382.94" y2="224.8" stroke="#d3d3d3" stroke-width="0.8"/>
<line x1="412.8" y1="132.9" x2="412.8" y2="224.8" stroke="#d3d3d3" stroke-width="0.8"/>
<line x1="263.5" y1="216.45" x2="440.4" y2="216.45" stroke="#d3d3d3" stroke-width="0.8"/>
<line x1="263.5" y1="199.74" x2="440.4" y2="199.74" stroke="#d3d3d3" stroke-width="0.8"/>
<line x1="263.5" y1="183.03" x2="440.4" y2="183.03" stroke="#d3d3d3" stroke-width="0.8"/>
<line x1="263.5" y1="166.32" x2="440.4" y2="166.32" stroke="#d3d3d3" stroke-width="0.8"/>
<line x1="263.5" y1="149.61" x2="440.4" y2="149.61" stroke="#d3d3d3" stroke-width="0.8"/>
<polyline points="263.5,169.6 263.7,171.3 264,172 264.2,175.8 264.5,173.5 264.7,176.6 264.9,174.9 265.2,176.1 265.4,177 265.6,177 265.9,180 266.1,179.1 266.4,174.7 266.6,175 266.8,176.5 267.1,176.3 267.3,174.3 267.6,176.2 267.8,176.5 268,174.9 268.3,175.3 268.5,173 268.8,174.9 269,172.3 269.2,172.4 269.5,170.4 269.7,172.2 269.9,172.9 270.2,174 270.4,171.2 270.7,176.4 270.9,178.8 271.1,181.8 271.4,183.4 271.6,186.3 271.9,176 272.1,187.3 272.3,192.8 272.6,191.5 272.8,192.5 273.1,193.4 273.3,191.3 273.5,190.1 273.8,191.6 274,194.6 274.2,190.8 274.5,191.1 274.7,191.1 275,188.6 275.2,190.1 275.4,186.6 275.7,184.7 275.9,185.4 276.2,184.7 276.4,182.1 276.6,179.4 276.9,185.1 277.1,182.5 277.4,183.7 277.6,180.9 277.8,182.5 278.1,179.5 278.3,181.1 278.5,180.2 278.8,181.4 279,177 279.3,179.5 279.5,179.1 279.7,179.3 280,179.1 280.2,180 280.5,177 280.7,179.8 280.9,173.3 281.2,177.1 281.4,178.7 281.7,177.6 281.9,177.9 282.1,176 282.4,180.4 282.6,178.8 282.8,181.4 283.1,175.6 283.3,179.2 283.6,181.1 283.8,174.9 284,179 284.3,171.6 284.5,172 284.8,177.9 285,174.8 285.2,178.3 285.5,177 285.7,179.2 286,184 286.2,181.4 286.4,173.6 286.7,175.9 286.9,178.3 287.1,176.8 287.4,175.8 287.6,175.6 287.9,176.2 288.1,178.1 288.3,173.7 288.6,173.3 288.8,176.5 289.1,174.6 289.3,177.9 289.5,175.2 289.8,181.2 290,175.1 290.3,170.6 290.5,175.3 290.7,174.8 291,177.9 291.2,178.9 291.4,179.5 291.7,179 291.9,177.4 292.2,174.5 292.4,179.9 292.6,178.3 292.9,179.1 293.1,173.7 293.4,176.6 293.6,173.2 293.8,171.2 294.1,167.9 294.3,170.5 294.6,167.4 294.8,172.5 295,170.9 295.3,175.4 295.5,170.9 295.7,173.6 296,177.6 296.2,175.1 296.5,176.3 296.7,173.1 296.9,172.6 297.2,174.7 297.4,171.5 297.7,180.2 297.9,173.1 298.1,172.7 298.4,177.3 298.6,172.5 298.9,175 299.1,172.7 299.3,170.8 299.6,165.2 299.8,174.8 300,176.9 300.3,171.2 300.5,171.7 300.8,171 301,178.3 301.2,173.9 301.5,174.4 301.7,172.2 302,175.3 302.2,170.2 302.4,177.7 302.7,173.4 302.9,172 303.2,174.9 303.4,171.5 303.6,176.2 303.9,175.3 304.1,172.8 304.3,173.7 304.6,180.2 304.8,174.5 305.1,173 305.3,172.3 305.5,163.6 305.8,171.4 306,168.7 306.3,171.5 306.5,172.7 306.7,164.1 307,172.4 307.2,167.4 307.5,173.5 307.7,171.2 307.9,172.3 308.2,167.5 308.4,167.4 308.6,159.1 308.9,166.1 309.1,162.7 309.4,169.7 309.6,165.8 309.8,166.9 310.1,173.2 310.3,165.5 310.6,176.4 310.8,168.5 311,167.9 311.3,170.4 311.5,169.1 311.8,170.2 312,171.9 312.2,174.1 312.5,173.8 312.7,172.9 312.9,171.7 313.2,176.8 313.4,165.6 313.7,165.6 313.9,162.9 314.1,168.6 314.4,164.6 314.6,170.6 314.9,166.9 315.1,167.3 315.3,170.8 315.6,168.4 315.8,167.4 316.1,172.1 316.3,166.1 316.5,165.6 316.8,168.5 317,167.6 317.2,162.6 317.5,162.6 317.7,164.8 318,162.9 318.2,163.6 318.4,169.3 318.7,165.1 318.9,167.5 319.2,163.8 319.4,167.2 319.6,168.9 319.9,166.9 320.1,167.2 320.4,162 320.6,168.6 320.8,160.4 321.1,163.5 321.3,160.2 321.5,161.7 321.8,167.7 322,162.8 322.3,159.7 322.5,161.4 322.7,162.7 323,164.4 323.2,163.9 323.5,156.4 323.7,164.8 323.9,158.1 324.2,159.5 324.4,162.9 324.7,151.9 324.9,151.8 325.1,155.4 325.4,152.4 325.6,154.3 325.8,152.1 326.1,154.2 326.3,154.5 326.6,156.7 326.8,158.7 327,159.7 327.3,160.5 327.5,160.9 327.8,160.4 328,165.9 328.2,165.1 328.5,160.6 328.7,152.7 329,155.2 329.2,161 329.4,161 329.7,158.8 329.9,168.6 330.1,143.6 330.4,166.5 330.6,157.1 330.9,162.5 331.1,152.5 331.3,158.6 331.6,157.9 331.8,169.6 332.1,164.8 332.3,158.4 332.5,166.2 332.8,155.9 333,160.4 333.3,160.2 333.5,152.4 333.7,161.6 334,158.4 334.2,160.8 334.4,160.6 334.7,150.8 334.9,166.2 335.2,159.6 335.4,156.6 335.6,166.7 335.9,159.4 336.1,160 336.4,160.8 336.6,162.7 336.8,152.4 337.1,159.6 337.3,159.3 337.6,168.8 337.8,167.4 338,168.2 338.3,165.8 338.5,165.7 338.7,157.1 339,163 339.2,161.3 339.5,157.5 339.7,152.7 339.9,163.4 340.2,162.9 340.4,155.7 340.7,159.2 340.9,163.9 341.1,161.1 341.4,164.7 341.6,159.5 341.9,168.3 342.1,163.8 342.3,167.3 342.6,153 342.8,150 343,144.4 343.3,158.7 343.5,163 343.8,160.9 344,161.2 344.2,155.4 344.5,157.5 344.7,170.3 345,162.1 345.2,163.3 345.4,162.8 345.7,161 345.9,158.9 346.1,159.6 346.4,164.9 346.6,169.2 346.9,163.3 347.1,166 347.3,156.9 347.6,155.4 347.8,163.1 348.1,163.5 348.3,160.8 348.5,156.5 348.8,162.7 349,168.1 349.3,159 349.5,168.7 349.7,167.7 350,161.5 350.2,163.7 350.4,164.8 350.7,161.2 350.9,155 351.2,155.2 351.4,156.3 351.6,155 351.9,156.2 352.1,153.4 352.4,161.3 352.6,157.8 352.8,158.2 353.1,162.6 353.3,151.4 353.6,162.6 353.8,162.6 354,168.4 354.3,163.9 354.5,164.4 354.7,163.4 355,168.5 355.2,166.1 355.5,165.8 355.7,163.3 355.9,168.2 356.2,168.8 356.4,160.8 356.7,160.8 356.9,164.1 357.1,170.4 357.4,169.4 357.6,167.3 357.9,167.9 358.1,163.3 358.3,162.3 358.6,165.7 358.8,163.6 359,167.8 359.3,168.2 359.5,168.7 359.8,162.3 360,163.9 360.2,162.1 360.5,165.2 360.7,169.6 361,159.7 361.2,162.9 361.4,163.2 361.7,167.4 361.9,172.2 362.2,163.8 362.4,161.6 362.6,164.4 362.9,163.2 363.1,165.2 363.3,170.6 363.6,164 363.8,167.5 364.1,163.4 364.3,159.2 364.5,152.5 364.8,166.7 365,164.5 365.3,168.8 365.5,170 365.7,171.2 366,165.8 366.2,162.3 366.5,163.9 366.7,171.7 366.9,163.2 367.2,165 367.4,165.1 367.6,160.5 367.9,166.1 368.1,167.6 368.4,165 368.6,164.5 368.8,168 369.1,171.1 369.3,167 369.6,166 369.8,173.2 370,169.5 370.3,164.8 370.5,170.1 370.8,171.4 371,170.5 371.2,173.6 371.5,171.5 371.7,169.5 371.9,169.4 372.2,169.1 372.4,166.1 372.7,165.7 372.9,170.1 373.1,164.9 373.4,167.1 373.6,166.2 373.9,162.6 374.1,166.6 374.3,167.2 374.6,164.9 374.8,165.2 375.1,169.2 375.3,174.5 375.5,169.9 375.8,165.1 376,165.8 376.2,168.6 376.5,163.2 376.7,168.8 377,158.9 377.2,167.1 377.4,164.3 377.7,165.3 377.9,171 378.2,170.6 378.4,164.3 378.6,165.1 378.9,163.1 379.1,170 379.4,168.3 379.6,172.7 379.8,163.7 380.1,164.9 380.3,158.4 380.5,166.7 380.8,169 381,167.3 381.3,163.5 381.5,169.3 381.7,173.2 382,175.4 382.2,175.5 382.5,172.8 382.7,170.4 382.9,173.3 383.2,175.3 383.4,172.2 383.7,171.6 383.9,169.5 384.1,166.8 384.4,164.9 384.6,172.3 384.8,167.7 385.1,166.8 385.3,173.7 385.6,169.1 385.8,167.4 386,170 386.3,161.5 386.5,169 386.8,176.3 387,173.4 387.2,171.3 387.5,169.4 387.7,172.9 388,170.8 388.2,168.8 388.4,170.9 388.7,177.7 388.9,175.8 389.1,173 389.4,169.7 389.6,173.4 389.9,167.8 390.1,165.9 390.3,176.7 390.6,173.5 390.8,174.9 391.1,170.8 391.3,172.5 391.5,169.9 391.8,172.6 392,176 392.3,171.2 392.5,175.3 392.7,177.3 393,181.9 393.2,177.5 393.4,171.6 393.7,176.1 393.9,168.7 394.2,174 394.4,171 394.6,174.6 394.9,173.5 395.1,180.4 395.4,175.9 395.6,169.6 395.8,167.8 396.1,169.3 396.3,179.8 396.6,175.3 396.8,176.9 397,175.4 397.3,171.5 397.5,176.9 397.7,182.3 398,170.2 398.2,168.9 398.5,178.5 398.7,166.2 398.9,173.8 399.2,173 399.4,176.3 399.7,176.1 399.9,173.4 400.1,170.5 400.4,172.7 400.6,172.1 400.9,170.3 401.1,172.3 401.3,167.8 401.6,170.7 401.8,179.7 402,174.7 402.3,175.1 402.5,176.3 402.8,177.2 403,176.6 403.2,177.1 403.5,174.7 403.7,177 404,176 404.2,177.8 404.4,177.5 404.7,176.5 404.9,177 405.2,180.1 405.4,183.5 405.6,177 405.9,178.5 406.1,176.7 406.3,180.1 406.6,181.3 406.8,181.9 407.1,180.1 407.3,178.3 407.5,185 407.8,180.9 408,176.3 408.3,179.3 408.5,179.9 408.7,170.7 409,174.4 409.2,179.7 409.5,178 409.7,175.9 409.9,180.9 410.2,183.6 410.4,171.4 410.6,177.1 410.9,176.8 411.1,166.7 411.4,169.1 411.6,169.4 411.8,169.7 412.1,175 412.3,171.6 412.6,167.2 412.8,176.2 413,172.2 413.3,170.4 413.5,163.1 413.8,165.5 414,171.1 414.2,170.8 414.5,164.5 414.7,164.5 414.9,172.5 415.2,169.8 415.4,172.5 415.7,173.8 415.9,171.8 416.1,168.3 416.4,176.2 416.6,180.3 416.9,179 417.1,178.4 417.3,173 417.6,171.4 417.8,177.4 418.1,178 418.3,168.8 418.5,168.8 418.8,172.1 419,159.1 419.2,165.1 419.5,162.5 419.7,161.8 420,172.5 420.2,169.2 420.4,162.3 420.7,163.7 420.9,168.3 421.2,164.9 421.4,165.1 421.6,169.1 421.9,169.2 422.1,171.5 422.4,173.7 422.6,169.1 422.8,170.1 423.1,164.5 423.3,169.3 423.5,173.2 423.8,166.1 424,172.1 424.3,167.8 424.5,170.4 424.7,174.4 425,175 425.2,168 425.5,173.8 425.7,166.1 425.9,165.6 426.2,170.5 426.4,171.1 426.6,162.2 426.9,170.3 427.1,168.3 427.4,170.7 427.6,170 427.8,171.2 428.1,169.7 428.3,169.3 428.6,174 428.8,170 429,174.7 429.3,175.5 429.5,172.5 429.8,179.4 430,166.6 430.2,171.4 430.5,169.3 430.7,167.3 430.9,170.7 431.2,172.6 431.4,171.8 431.7,174.9 431.9,174.3 432.1,171.6 432.4,169.7 432.6,165.2 432.9,168.6 433.1,168.6 433.3,172.8 433.6,172.6 433.8,174.8 434.1,174 434.3,169.1 434.5,169.3 434.8,173.5 435,176.1 435.2,171.8 435.5,169.4 435.7,168.6 436,163.7 436.2,164.8 436.4,165.1 436.7,168.4 436.9,164.4 437.2,170.3 437.4,171.1 437.6,165.1 437.9,174.5 438.1,170.3 438.4,167.6 438.6,171.6 438.8,172.2 439.1,179 439.3,167.4 439.5,175.7 439.8,165.2" fill="none" stroke="#1a1aff" stroke-width="0.85" stroke-dasharray="2.6 1.8" clip-path="url(#ce)"/>
<polyline points="263.5,179.4 263.7,189.6 264,197.1 264.2,202.5 264.5,204.4 264.7,211.2 264.9,218.2 265.2,213.9 265.4,209.4 265.6,203.3 265.9,198.4 266.1,194.2 266.4,188.3 266.6,185.5 266.8,181 267.1,180.8 267.3,177.5 267.6,171.2 267.8,170.9 268,167.8 268.3,166.4 268.5,171.8 268.8,171.8 269,168.4 269.2,168 269.5,171.6 269.7,168.1 269.9,170.3 270.2,168.2 270.4,171 270.7,174.1 270.9,175.6 271.1,177 271.4,181.7 271.6,184.9 271.9,191.8 272.1,187 272.3,195.2 272.6,196.4 272.8,195.8 273.1,193.5 273.3,192.9 273.5,191.3 273.8,194.5 274,195.9 274.2,192.4 274.5,192.4 274.7,195.3 275,191 275.2,193 275.4,189.3 275.7,190.3 275.9,187.2 276.2,185.2 276.4,185.6 276.6,186.5 276.9,184.4 277.1,186.8 277.4,181.6 277.6,183.5 277.8,184.9 278.1,186.1 278.3,183.3 278.5,183.2 278.8,185.7 279,184.3 279.3,183.2 279.5,185.9 279.7,184.2 280,187.1 280.2,183.2 280.5,180.2 280.7,181 280.9,185.6 281.2,187.8 281.4,186.3 281.7,186.7 281.9,183.2 282.1,181.8 282.4,184.9 282.6,179.6 282.8,185.6 283.1,191.4 283.3,186.6 283.6,187.2 283.8,187.1 284,184.8 284.3,185.5 284.5,187.9 284.8,182.5 285,183.2 285.2,183.7 285.5,185.9 285.7,181.7 286,187.2 286.2,185.7 286.4,184.3 286.7,181.8 286.9,181.5 287.1,182.5 287.4,183.5 287.6,183.4 287.9,184.3 288.1,186.1 288.3,178.4 288.6,180.9 288.8,186.1 289.1,185.8 289.3,180 289.5,180.9 289.8,188 290,181.2 290.3,179.3 290.5,186.3 290.7,181.4 291,180.4 291.2,183.6 291.4,187.8 291.7,186.7 291.9,186.3 292.2,180.5 292.4,183 292.6,183.9 292.9,187.6 293.1,182.1 293.4,182.8 293.6,183 293.8,182.3 294.1,185 294.3,184 294.6,182.3 294.8,179.3 295,180.5 295.3,174.8 295.5,179.8 295.7,184.4 296,183.2 296.2,181.3 296.5,183 296.7,177.5 296.9,181.1 297.2,182.8 297.4,182.5 297.7,176.2 297.9,181 298.1,179.5 298.4,179 298.6,179.2 298.9,178.3 299.1,184.6 299.3,180.2 299.6,182.5 299.8,182.1 300,182.9 300.3,178.1 300.5,176.8 300.8,179.7 301,181 301.2,180.5 301.5,181 301.7,179.6 302,180.3 302.2,179.6 302.4,177.8 302.7,181.1 302.9,176.6 303.2,178.5 303.4,177.3 303.6,179.9 303.9,177.5 304.1,174.6 304.3,179.3 304.6,177.5 304.8,175.3 305.1,181.7 305.3,178.4 305.5,176.1 305.8,174.4 306,179.5 306.3,174.5 306.5,173.9 306.7,186 307,180.4 307.2,178.9 307.5,181 307.7,174.9 307.9,182 308.2,175.1 308.4,176.7 308.6,177.7 308.9,180.7 309.1,177.7 309.4,176.7 309.6,175.1 309.8,179.8 310.1,179.9 310.3,175.2 310.6,179.4 310.8,177.1 311,178.4 311.3,171.9 311.5,174.7 311.8,170.2 312,171.1 312.2,175 312.5,180.2 312.7,171.1 312.9,177.5 313.2,179.8 313.4,174.6 313.7,180.6 313.9,181.2 314.1,177.8 314.4,176.6 314.6,182.2 314.9,174.9 315.1,172.4 315.3,185.8 315.6,170.9 315.8,179.9 316.1,172.7 316.3,175.6 316.5,176.2 316.8,176.3 317,173.8 317.2,172.5 317.5,181 317.7,178.2 318,166.7 318.2,173.6 318.4,170.2 318.7,180 318.9,180.6 319.2,183.8 319.4,180.9 319.6,180.8 319.9,177.1 320.1,179.1 320.4,174.4 320.6,169.7 320.8,175.9 321.1,170.3 321.3,164.4 321.5,171.7 321.8,168.9 322,167.3 322.3,168.1 322.5,175.9 322.7,176 323,169.7 323.2,172.3 323.5,174.5 323.7,174.4 323.9,166.9 324.2,167.9 324.4,172.8 324.7,168.7 324.9,174 325.1,173.2 325.4,165.7 325.6,172.3 325.8,171.9 326.1,177.8 326.3,174.2 326.6,178.4 326.8,182.2 327,182.5 327.3,176.4 327.5,185.4 327.8,166.6 328,171.5 328.2,166.9 328.5,170.2 328.7,172.7 329,169.5 329.2,174.8 329.4,170.2 329.7,171.4 329.9,169.1 330.1,167.3 330.4,170 330.6,172.8 330.9,164.4 331.1,170.2 331.3,168.9 331.6,171.6 331.8,169.1 332.1,172.3 332.3,175.1 332.5,166.3 332.8,167.6 333,159.8 333.3,167.5 333.5,171.1 333.7,167.2 334,174 334.2,166.8 334.4,172.1 334.7,177.2 334.9,175 335.2,193.7 335.4,190.9 335.6,176.2 335.9,169.4 336.1,162.6 336.4,166.1 336.6,165.7 336.8,179.7 337.1,176.1 337.3,168.6 337.6,164.4 337.8,166.6 338,163.6 338.3,162.4 338.5,164.8 338.7,170.8 339,172.5 339.2,176.5 339.5,165.1 339.7,168.5 339.9,165.9 340.2,161 340.4,168.3 340.7,167.8 340.9,170.7 341.1,170.2 341.4,162 341.6,164.7 341.9,168.4 342.1,168.3 342.3,172.3 342.6,174.6 342.8,166.2 343,169.3 343.3,170.9 343.5,172.3 343.8,166.9 344,165.8 344.2,182.9 344.5,191 344.7,186.8 345,184.6 345.2,170.8 345.4,171.9 345.7,175.5 345.9,163.5 346.1,169.4 346.4,167.2 346.6,167.9 346.9,170.3 347.1,178.5 347.3,169.7 347.6,165.1 347.8,166.8 348.1,170 348.3,171.7 348.5,168.7 348.8,166.5 349,174 349.3,174.1 349.5,166.1 349.7,168.2 350,173.4 350.2,161 350.4,164.4 350.7,177.6 350.9,173.4 351.2,168.2 351.4,165.3 351.6,169.7 351.9,169.9 352.1,182.9 352.4,190 352.6,196.7 352.8,194.3 353.1,184.4 353.3,174.1 353.6,172.8 353.8,174.6 354,175.4 354.3,163.6 354.5,166.9 354.7,166.3 355,173.8 355.2,165.6 355.5,172.2 355.7,170.5 355.9,175 356.2,167.3 356.4,171.8 356.7,170.9 356.9,169.7 357.1,174.5 357.4,168.2 357.6,187.9 357.9,172.8 358.1,170.8 358.3,173.8 358.6,164.7 358.8,174 359,166.1 359.3,171.8 359.5,167.3 359.8,175.4 360,163.2 360.2,165 360.5,172.6 360.7,174.1 361,184.6 361.2,192 361.4,184.1 361.7,173 361.9,168.7 362.2,164.3 362.4,164.8 362.6,169.1 362.9,171.7 363.1,173.4 363.3,173.6 363.6,174.1 363.8,167.3 364.1,167.5 364.3,170.1 364.5,167.9 364.8,172 365,174.4 365.3,178.1 365.5,174.5 365.7,172.5 366,170.7 366.2,173.9 366.5,175.9 366.7,175.9 366.9,171.9 367.2,175.2 367.4,174.7 367.6,177.2 367.9,175.4 368.1,178.7 368.4,181.4 368.6,174.1 368.8,191.8 369.1,190.5 369.3,186.8 369.6,178.8 369.8,171.5 370,168.1 370.3,177.9 370.5,174.6 370.8,176.1 371,176.7 371.2,172.4 371.5,171.1 371.7,174.6 371.9,172.4 372.2,173.7 372.4,164.6 372.7,171.8 372.9,173.5 373.1,169.5 373.4,174.8 373.6,176.6 373.9,174.3 374.1,172.8 374.3,173.7 374.6,177.4 374.8,167.3 375.1,178.7 375.3,172.3 375.5,174.5 375.8,176.9 376,172.4 376.2,177.6 376.5,169.3 376.7,170 377,180 377.2,179.8 377.4,179.8 377.7,189.9 377.9,177 378.2,172.4 378.4,181.6 378.6,176.7 378.9,178.4 379.1,178.3 379.4,181.8 379.6,173.5 379.8,178.6 380.1,173.4 380.3,165.6 380.5,169.4 380.8,174.3 381,173.5 381.3,171.2 381.5,180.3 381.7,179.7 382,178.6 382.2,177.9 382.5,176.8 382.7,181.1 382.9,183.2 383.2,179 383.4,177.1 383.7,168.2 383.9,174 384.1,179.2 384.4,171 384.6,176 384.8,183.6 385.1,181.5 385.3,187.6 385.6,180 385.8,177.3 386,185.4 386.3,182.8 386.5,200.9 386.8,194.3 387,193.1 387.2,188.4 387.5,179.5 387.7,180.2 388,178.1 388.2,175.6 388.4,172.7 388.7,172 388.9,182.1 389.1,177.8 389.4,181.2 389.6,180.9 389.9,181.9 390.1,175.5 390.3,181.8 390.6,182.2 390.8,180.1 391.1,174.3 391.3,173.8 391.5,178.6 391.8,186.3 392,178.5 392.3,169.2 392.5,175.2 392.7,177 393,182.4 393.2,182.9 393.4,184.3 393.7,175.7 393.9,172.9 394.2,177.9 394.4,183.2 394.6,186.2 394.9,184.1 395.1,190.1 395.4,194.8 395.6,197 395.8,199.7 396.1,191.5 396.3,187.7 396.6,183.1 396.8,176.9 397,187.1 397.3,182.1 397.5,187.3 397.7,184.3 398,187 398.2,185.8 398.5,184.3 398.7,185.7 398.9,177.1 399.2,180 399.4,171.7 399.7,190.4 399.9,178 400.1,177.8 400.4,186 400.6,174.1 400.9,181.3 401.1,180.6 401.3,180.9 401.6,183 401.8,182.7 402,190.8 402.3,181.4 402.5,176.8 402.8,179.7 403,187.6 403.2,184 403.5,186.4 403.7,187.1 404,197.9 404.2,203.2 404.4,198.7 404.7,194.1 404.9,179.9 405.2,180.3 405.4,176.6 405.6,182.9 405.9,179.3 406.1,197.4 406.3,176.4 406.6,180.4 406.8,178.6 407.1,177.3 407.3,180 407.5,178.9 407.8,186.3 408,184.9 408.3,186.7 408.5,179.1 408.7,177.6 409,184.9 409.2,182.5 409.5,181 409.7,181.3 409.9,179.6 410.2,177.7 410.4,191.9 410.6,187.8 410.9,177.1 411.1,176.5 411.4,180.8 411.6,176.8 411.8,181.1 412.1,180.4 412.3,181.5 412.6,182.2 412.8,177.5 413,175.4 413.3,179.2 413.5,174 413.8,171.9 414,182.3 414.2,179.4 414.5,172 414.7,176.5 414.9,169.1 415.2,175.5 415.4,169.9 415.7,178.7 415.9,174 416.1,168.4 416.4,172.6 416.6,173.6 416.9,166.6 417.1,168.2 417.3,170 417.6,170.2 417.8,165.1 418.1,173.2 418.3,163.9 418.5,170.4 418.8,169.4 419,173.6 419.2,173.1 419.5,172.6 419.7,163.9 420,178.4 420.2,171.3 420.4,171.6 420.7,165.6 420.9,173.1 421.2,170.2 421.4,170.8 421.6,166.5 421.9,177.8 422.1,166.5 422.4,164.8 422.6,174.9 422.8,172.8 423.1,172.5 423.3,175.1 423.5,175.1 423.8,173.6 424,170.2 424.3,179.7 424.5,171.3 424.7,177.8 425,172.1 425.2,182.2 425.5,177.6 425.7,173.5 425.9,173.6 426.2,188.4 426.4,167.9 426.6,176.6 426.9,193.9 427.1,177 427.4,175.8 427.6,180.9 427.8,178.8 428.1,177.1 428.3,183 428.6,182.6 428.8,180 429,181.3 429.3,182.6 429.5,184.8 429.8,179.6 430,176.9 430.2,179 430.5,171.5 430.7,175.1 430.9,175.7 431.2,175.6 431.4,177.5 431.7,180.3 431.9,180.2 432.1,179.2 432.4,178.3 432.6,170.7 432.9,174.6 433.1,176.8 433.3,185.1 433.6,176.7 433.8,173 434.1,175.8 434.3,176.8 434.5,183 434.8,173.8 435,178.8 435.2,172.5 435.5,174.6 435.7,178.1 436,174.5 436.2,181.4 436.4,176.9 436.7,179.2 436.9,186.5 437.2,183.2 437.4,183.3 437.6,184.7 437.9,179 438.1,181.4 438.4,181.6 438.6,171.9 438.8,174.6 439.1,177.1 439.3,184.5 439.5,174.2 439.8,173.7" fill="none" stroke="#ff1a1a" stroke-width="0.85" stroke-dasharray="2.6 1.8" clip-path="url(#ce)"/>
<rect x="263.5" y="132.9" width="176.9" height="91.9" fill="none" stroke="#555555" stroke-width="1"/>
<line x1="293.36" y1="224.8" x2="293.36" y2="223" stroke="#555555" stroke-width="0.8"/>
<line x1="293.36" y1="132.9" x2="293.36" y2="134.7" stroke="#555555" stroke-width="0.8"/>
<line x1="323.22" y1="224.8" x2="323.22" y2="223" stroke="#555555" stroke-width="0.8"/>
<line x1="323.22" y1="132.9" x2="323.22" y2="134.7" stroke="#555555" stroke-width="0.8"/>
<line x1="353.08" y1="224.8" x2="353.08" y2="223" stroke="#555555" stroke-width="0.8"/>
<line x1="353.08" y1="132.9" x2="353.08" y2="134.7" stroke="#555555" stroke-width="0.8"/>
<line x1="382.94" y1="224.8" x2="382.94" y2="223" stroke="#555555" stroke-width="0.8"/>
<line x1="382.94" y1="132.9" x2="382.94" y2="134.7" stroke="#555555" stroke-width="0.8"/>
<line x1="412.8" y1="224.8" x2="412.8" y2="223" stroke="#555555" stroke-width="0.8"/>
<line x1="412.8" y1="132.9" x2="412.8" y2="134.7" stroke="#555555" stroke-width="0.8"/>
<line x1="263.5" y1="216.45" x2="265.3" y2="216.45" stroke="#555555" stroke-width="0.8"/>
<line x1="440.4" y1="216.45" x2="438.6" y2="216.45" stroke="#555555" stroke-width="0.8"/>
<line x1="263.5" y1="199.74" x2="265.3" y2="199.74" stroke="#555555" stroke-width="0.8"/>
<line x1="440.4" y1="199.74" x2="438.6" y2="199.74" stroke="#555555" stroke-width="0.8"/>
<line x1="263.5" y1="183.03" x2="265.3" y2="183.03" stroke="#555555" stroke-width="0.8"/>
<line x1="440.4" y1="183.03" x2="438.6" y2="183.03" stroke="#555555" stroke-width="0.8"/>
<line x1="263.5" y1="166.32" x2="265.3" y2="166.32" stroke="#555555" stroke-width="0.8"/>
<line x1="440.4" y1="166.32" x2="438.6" y2="166.32" stroke="#555555" stroke-width="0.8"/>
<line x1="263.5" y1="149.61" x2="265.3" y2="149.61" stroke="#555555" stroke-width="0.8"/>
<line x1="440.4" y1="149.61" x2="438.6" y2="149.61" stroke="#555555" stroke-width="0.8"/>
<clipPath id="cf"><rect x="494.9" y="132.5" width="176.5" height="92.1"/></clipPath>
<line x1="525.84" y1="132.5" x2="525.84" y2="224.6" stroke="#d3d3d3" stroke-width="0.8"/>
<line x1="556.78" y1="132.5" x2="556.78" y2="224.6" stroke="#d3d3d3" stroke-width="0.8"/>
<line x1="587.72" y1="132.5" x2="587.72" y2="224.6" stroke="#d3d3d3" stroke-width="0.8"/>
<line x1="618.66" y1="132.5" x2="618.66" y2="224.6" stroke="#d3d3d3" stroke-width="0.8"/>
<line x1="649.6" y1="132.5" x2="649.6" y2="224.6" stroke="#d3d3d3" stroke-width="0.8"/>
<line x1="494.9" y1="201.57" x2="671.4" y2="201.57" stroke="#d3d3d3" stroke-width="0.8"/>
<line x1="494.9" y1="178.55" x2="671.4" y2="178.55" stroke="#d3d3d3" stroke-width="0.8"/>
<line x1="494.9" y1="155.52" x2="671.4" y2="155.52" stroke="#d3d3d3" stroke-width="0.8"/>
<polyline points="494.9,157.1 495.1,157.6 495.4,156.2 495.6,162.7 495.9,171.3 496.1,175.9 496.4,181.7 496.6,180.5 496.9,176.6 497.1,176.1 497.4,171.6 497.6,167.9 497.9,164.1 498.1,161.2 498.4,161.5 498.6,158.6 498.9,159.1 499.1,159.5 499.4,159 499.6,159.1 499.9,159.7 500.1,161.2 500.3,162.9 500.6,161 500.8,162.7 501.1,162.8 501.3,164.1 501.6,164.8 501.8,162.9 502.1,166.5 502.3,166.4 502.6,167.8 502.8,171.4 503.1,172.4 503.3,173.6 503.6,174.7 503.8,175.1 504.1,174.9 504.3,175.9 504.6,172.6 504.8,177.1 505,174.3 505.3,173.7 505.5,174.6 505.8,174.5 506,175 506.3,175.7 506.5,175.5 506.8,177.1 507,178 507.3,178.3 507.5,179.6 507.8,177.5 508,176 508.3,174 508.5,173.5 508.8,174.7 509,175.4 509.3,173.7 509.5,172.8 509.8,170.9 510,169.9 510.2,169.4 510.5,168.3 510.7,167.2 511,165.6 511.2,165.6 511.5,166.5 511.7,167.6 512,166 512.2,167.7 512.5,166.5 512.7,168.9 513,170.3 513.2,172.7 513.5,172.5 513.7,173.5 514,173.1 514.2,174.9 514.5,174.6 514.7,175.1 514.9,176.9 515.2,174.6 515.4,174.9 515.7,173.8 515.9,174 516.2,174 516.4,174.1 516.7,174.2 516.9,174 517.2,174.1 517.4,174 517.7,173.8 517.9,173.7 518.2,173.6 518.4,173.9 518.7,174 518.9,173.7 519.2,173.9 519.4,174 519.7,173.8 519.9,174 520.1,174 520.4,173.9 520.6,174 520.9,173.9 521.1,173.9 521.4,174.2 521.6,173.9 521.9,174.2 522.1,173.9 522.4,173.6 522.6,174 522.9,173.8 523.1,173.8 523.4,174.3 523.6,174.2 523.9,174.1 524.1,174 524.4,173.9 524.6,174 524.9,173.9 525.1,173.6 525.3,171.4 525.6,171.3 525.8,174.4 526.1,168.5 526.3,167.2 526.6,160.8 526.8,156.2 527.1,165.4 527.3,158.6 527.6,168.3 527.8,153.4 528.1,161.4 528.3,157.4 528.6,157 528.8,154.9 529.1,162.2 529.3,166.8 529.6,169.9 529.8,169.6 530,174.5 530.3,166 530.5,170.8 530.8,164.4 531,163.3 531.3,178.6 531.5,175 531.8,160.6 532,171.4 532.3,163 532.5,166 532.8,159.3 533,155.5 533.3,157.7 533.5,162.1 533.8,159 534,169.6 534.3,163.2 534.5,170.4 534.8,164.7 535,164.9 535.2,160.9 535.5,155.3 535.7,166.3 536,158.8 536.2,154.6 536.5,165.5 536.7,171.1 537,166.1 537.2,168.8 537.5,161.5 537.7,163.6 538,168.2 538.2,174.3 538.5,164 538.7,163.1 539,169.7 539.2,164.4 539.5,166.8 539.7,170.7 539.9,163 540.2,160.1 540.4,168.6 540.7,160.5 540.9,168.1 541.2,166.6 541.4,160.5 541.7,155.8 541.9,170.3 542.2,168.3 542.4,164.1 542.7,165.4 542.9,164.7 543.2,166.3 543.4,169.4 543.7,163.1 543.9,165.3 544.2,157.3 544.4,168.3 544.7,160.1 544.9,168.8 545.1,163.5 545.4,166.7 545.6,167.3 545.9,162.7 546.1,168.1 546.4,164.5 546.6,155.5 546.9,159.6 547.1,162.9 547.4,172.3 547.6,167.4 547.9,162.2 548.1,171.6 548.4,155.7 548.6,164.5 548.9,161.9 549.1,166.1 549.4,160.7 549.6,161.5 549.9,158.8 550.1,163.7 550.3,174.1 550.6,156.9 550.8,163.7 551.1,160.8 551.3,151.7 551.6,157 551.8,159.4 552.1,156.6 552.3,169.6 552.6,162.6 552.8,170.2 553.1,163.3 553.3,152.4 553.6,152.8 553.8,146.1 554.1,151.8 554.3,156.4 554.6,166.6 554.8,165.9 555,160.8 555.3,155.3 555.5,170.5 555.8,162.4 556,159.6 556.3,157.5 556.5,159.4 556.8,155.5 557,156.1 557.3,154.8 557.5,159.2 557.8,165.4 558,157 558.3,152.7 558.5,142.6 558.8,162.3 559,155.8 559.3,161.4 559.5,163.2 559.8,160.3 560,156.7 560.2,151.1 560.5,154 560.7,159.4 561,163.1 561.2,158.8 561.5,161.6 561.7,168.5 562,159.4 562.2,162.5 562.5,155.9 562.7,162.9 563,156.2 563.2,153 563.5,163 563.7,161.1 564,167.1 564.2,164.9 564.5,158.1 564.7,160.5 564.9,163 565.2,155.3 565.4,160.5 565.7,162 565.9,165.4 566.2,157.3 566.4,149.8 566.7,157.5 566.9,147.4 567.2,152.4 567.4,165.1 567.7,155.3 567.9,162.8 568.2,160.6 568.4,149.7 568.7,162.1 568.9,162.2 569.2,147.5 569.4,157.2 569.7,158.3 569.9,164.8 570.1,163 570.4,159.6 570.6,169.1 570.9,162.3 571.1,148.4 571.4,153.9 571.6,157.8 571.9,156.4 572.1,151.9 572.4,153.4 572.6,155.7 572.9,151.9 573.1,167.6 573.4,164.2 573.6,153.4 573.9,162 574.1,157.4 574.4,161.5 574.6,162.9 574.9,157.6 575.1,159.8 575.3,165.6 575.6,162.6 575.8,161.8 576.1,160.1 576.3,162.8 576.6,169.3 576.8,169.4 577.1,165.7 577.3,154.9 577.6,168.7 577.8,161.4 578.1,161.5 578.3,155.1 578.6,153 578.8,147.4 579.1,154.1 579.3,160.1 579.6,162.7 579.8,165.3 580,164.5 580.3,166.1 580.5,164.8 580.8,165.6 581,160.3 581.3,162.3 581.5,166.7 581.8,170.5 582,159.6 582.3,174.4 582.5,167.7 582.8,169.4 583,166.6 583.3,156.4 583.5,155.4 583.8,154.9 584,162.2 584.3,168.7 584.5,166.4 584.8,158.5 585,160.8 585.2,170.9 585.5,168.8 585.7,160.9 586,153.4 586.2,141.6 586.5,162.5 586.7,164.5 587,157.7 587.2,163.9 587.5,160.8 587.7,155.2 588,160 588.2,161.2 588.5,163.7 588.7,162.4 589,157.3 589.2,164.2 589.5,156.1 589.7,154.2 589.9,168.1 590.2,164 590.4,167.3 590.7,160.8 590.9,166.3 591.2,163.2 591.4,165.9 591.7,162 591.9,157.7 592.2,164.3 592.4,158.6 592.7,154.6 592.9,158.1 593.2,165.2 593.4,171.4 593.7,174.3 593.9,161.2 594.2,164.4 594.4,162.5 594.7,169.9 594.9,161.3 595.1,159.6 595.4,154.4 595.6,157.5 595.9,169.5 596.1,165.6 596.4,170.8 596.6,161.5 596.9,173 597.1,160.8 597.4,160.7 597.6,160.4 597.9,169.2 598.1,162.5 598.4,164.9 598.6,151.3 598.9,155.7 599.1,152.2 599.4,165.9 599.6,161.4 599.9,160.2 600.1,163.3 600.3,163.7 600.6,167.4 600.8,155.3 601.1,161 601.3,164 601.6,169.3 601.8,157.3 602.1,161.4 602.3,171.2 602.6,164 602.8,167.4 603.1,166.1 603.3,169.4 603.6,169.5 603.8,164 604.1,168.5 604.3,162 604.6,159.1 604.8,162.4 605,163.2 605.3,159.9 605.5,152.5 605.8,158.8 606,167.6 606.3,172.5 606.5,164.7 606.8,169.3 607,159.2 607.3,168.3 607.5,163.2 607.8,163.6 608,158 608.3,160.2 608.5,166 608.8,170.8 609,156.8 609.3,155 609.5,160.9 609.8,160.7 610,167.4 610.2,161.3 610.5,164.6 610.7,165.5 611,165.8 611.2,166.3 611.5,163.1 611.7,170.2 612,163.2 612.2,156.3 612.5,150.2 612.7,149.4 613,161.9 613.2,170.9 613.5,165.8 613.7,160 614,165.5 614.2,173.2 614.5,160 614.7,163.9 614.9,169.2 615.2,163.4 615.4,158.6 615.7,162 615.9,163.5 616.2,171 616.4,162 616.7,166.1 616.9,168 617.2,171.9 617.4,158.8 617.7,156 617.9,152.6 618.2,156.6 618.4,155.1 618.7,169.1 618.9,169.7 619.2,163.8 619.4,161.5 619.7,158.9 619.9,163.7 620.1,157.7 620.4,166.9 620.6,162.3 620.9,160.5 621.1,163.2 621.4,167.4 621.6,166.4 621.9,159.8 622.1,160.7 622.4,159 622.6,169.3 622.9,170.9 623.1,165.5 623.4,168.4 623.6,165.7 623.9,162.7 624.1,162.2 624.4,168.7 624.6,166 624.9,160.3 625.1,159.7 625.3,164.4 625.6,153.2 625.8,154.1 626.1,154.7 626.3,172.5 626.6,173.9 626.8,167.2 627.1,165.3 627.3,167.5 627.6,163.7 627.8,171.5 628.1,162 628.3,159.8 628.6,163.2 628.8,164.7 629.1,153.5 629.3,164 629.6,160.3 629.8,161.6 630,162 630.3,166.2 630.5,160.9 630.8,165.2 631,158.4 631.3,152.1 631.5,146.5 631.8,154.5 632,155.5 632.3,157 632.5,156.2 632.8,156.2 633,159.7 633.3,167.1 633.5,168.8 633.8,169.1 634,155.5 634.3,158.2 634.5,158.5 634.8,161.1 635,167 635.2,159.3 635.5,163.9 635.7,167.6 636,163.4 636.2,167.3 636.5,158.2 636.7,174.3 637,158 637.2,150.7 637.5,165.5 637.7,154.3 638,165.6 638.2,162 638.5,162.3 638.7,163.8 639,175.3 639.2,161.3 639.5,167.3 639.7,167.6 639.9,167.8 640.2,157.3 640.4,168.6 640.7,170.7 640.9,168 641.2,166.2 641.4,168.1 641.7,166.8 641.9,175.7 642.2,168.9 642.4,173.7 642.7,165.3 642.9,163.2 643.2,162.8 643.4,157.8 643.7,163.1 643.9,154 644.2,164.5 644.4,162.2 644.7,156.1 644.9,161.7 645.1,168.6 645.4,163.6 645.6,165.6 645.9,154.4 646.1,163.1 646.4,155.2 646.6,164.7 646.9,159.9 647.1,160.5 647.4,165.8 647.6,175.1 647.9,167.8 648.1,166.6 648.4,171.5 648.6,168.1 648.9,163 649.1,161.9 649.4,170.9 649.6,168.7 649.8,156.3 650.1,154.5 650.3,162 650.6,164.4 650.8,165.9 651.1,168.7 651.3,169.9 651.6,159.9 651.8,160.1 652.1,159.5 652.3,162.8 652.6,172.4 652.8,167.2 653.1,173.8 653.3,174.3 653.6,173 653.8,170.6 654.1,169.1 654.3,162.7 654.6,173.7 654.8,175.5 655,170.5 655.3,178.3 655.5,171.9 655.8,169.6 656,173.7 656.3,170.3 656.5,169.9 656.8,165.6 657,164.6 657.3,165.1 657.5,156.2 657.8,163.7 658,177.3 658.3,165 658.5,169.9 658.8,169.5 659,171.9 659.3,167.6 659.5,164.5 659.8,168.6 660,171.1 660.2,170.4 660.5,164.3 660.7,163.6 661,174.9 661.2,163.2 661.5,178.7 661.7,169.4 662,176 662.2,166.5 662.5,168.1 662.7,163.6 663,163.4 663.2,162.9 663.5,164.3 663.7,166 664,155.6 664.2,168.8 664.5,168.9 664.7,162.8 664.9,176.4 665.2,168.5 665.4,169.7 665.7,167.1 665.9,169.8 666.2,169.1 666.4,177.7 666.7,175.1 666.9,169.3 667.2,170.1 667.4,167.8 667.7,179.3 667.9,174.3 668.2,169.6 668.4,172.8 668.7,173.4 668.9,177.2 669.2,172.2 669.4,173.2 669.7,173.9 669.9,162.3 670.1,169.8 670.4,180.8 670.6,181.5 670.9,181.3 671.1,174.4 671.4,186.8" fill="none" stroke="#1a1aff" stroke-width="0.85" stroke-dasharray="2.6 1.8" clip-path="url(#cf)"/>
<polyline points="494.9,163.9 495.1,174.2 495.4,184.6 495.6,192.3 495.9,200.2 496.1,207.9 496.4,213.9 496.6,216.5 496.9,209.3 497.1,204.9 497.4,195.7 497.6,189.8 497.9,184.4 498.1,182.4 498.4,174.7 498.6,170.8 498.9,167.4 499.1,166.4 499.4,165.4 499.6,165.4 499.9,166.5 500.1,167.2 500.3,166.8 500.6,168.4 500.8,167.1 501.1,165.7 501.3,169 501.6,171.6 501.8,174.3 502.1,175.7 502.3,175.4 502.6,178.2 502.8,178.2 503.1,180.2 503.3,180.7 503.6,179.2 503.8,179.2 504.1,182.8 504.3,182.4 504.6,180.7 504.8,182.5 505,183.1 505.3,182.9 505.5,184.5 505.8,183.1 506,184 506.3,182.2 506.5,181.8 506.8,176.7 507,174.9 507.3,177.2 507.5,175.6 507.8,174.8 508,175.3 508.3,175.1 508.5,172.9 508.8,173.2 509,174 509.3,172 509.5,174 509.8,175 510,172.9 510.2,173.5 510.5,175.7 510.7,176.7 511,176 511.2,174.6 511.5,176 511.7,174.7 512,176.1 512.2,176.4 512.5,178.1 512.7,178.4 513,177.9 513.2,175.6 513.5,178.6 513.7,177.1 514,178.1 514.2,177.5 514.5,177.5 514.7,179.2 514.9,176.9 515.2,176.2 515.4,176.9 515.7,176.8 515.9,176.9 516.2,176.9 516.4,176.9 516.7,176.6 516.9,176.6 517.2,176.6 517.4,176.9 517.7,176.9 517.9,176.9 518.2,176.8 518.4,176.7 518.7,176.5 518.9,176.9 519.2,176.7 519.4,176.8 519.7,176.7 519.9,177.1 520.1,176.9 520.4,177.1 520.6,176.9 520.9,176.7 521.1,176.7 521.4,177 521.6,176.8 521.9,176.4 522.1,176.7 522.4,176.9 522.6,177.1 522.9,176.6 523.1,176.9 523.4,177 523.6,176.6 523.9,176.9 524.1,176.7 524.4,176.9 524.6,176.5 524.9,176.6 525.1,176.9 525.3,177 525.6,174.4 525.8,173.3 526.1,178.4 526.3,167.6 526.6,176.2 526.8,168.9 527.1,175.8 527.3,183.1 527.6,181.6 527.8,171.3 528.1,174 528.3,172.1 528.6,168.5 528.8,175.8 529.1,179.8 529.3,173.5 529.6,171.3 529.8,173.3 530,181.1 530.3,179.5 530.5,190.1 530.8,175.4 531,174.8 531.3,166 531.5,161.2 531.8,176.4 532,182.6 532.3,172.9 532.5,170.5 532.8,168.5 533,170.5 533.3,171 533.5,174.7 533.8,159.8 534,174.4 534.3,171.2 534.5,169.7 534.8,172.2 535,181.7 535.2,174.1 535.5,169.5 535.7,180.2 536,180.2 536.2,184.2 536.5,176.6 536.7,174.7 537,171.2 537.2,181.2 537.5,178.7 537.7,171.1 538,180.2 538.2,172.2 538.5,171.5 538.7,181.4 539,164.5 539.2,186.3 539.5,175.1 539.7,171.9 539.9,181.3 540.2,171.1 540.4,174.3 540.7,175.9 540.9,172 541.2,170.1 541.4,162.2 541.7,170.4 541.9,176.3 542.2,165.6 542.4,172.2 542.7,174.4 542.9,168.6 543.2,184.9 543.4,181.9 543.7,186.1 543.9,181 544.2,183.8 544.4,177.7 544.7,176.4 544.9,182.3 545.1,183.5 545.4,185 545.6,173.8 545.9,172.5 546.1,179 546.4,170.9 546.6,170.6 546.9,170.4 547.1,175.8 547.4,171.2 547.6,176.3 547.9,169.2 548.1,171.4 548.4,168.5 548.6,174 548.9,171.9 549.1,177.7 549.4,169.7 549.6,188.6 549.9,184.4 550.1,172.2 550.3,171.6 550.6,161 550.8,168.6 551.1,187.7 551.3,184 551.6,177.6 551.8,175.2 552.1,171.3 552.3,173.4 552.6,179 552.8,173.8 553.1,175.4 553.3,169.1 553.6,171.8 553.8,169.5 554.1,172.7 554.3,178.6 554.6,167.5 554.8,177 555,177 555.3,181.2 555.5,176.2 555.8,198.6 556,182.1 556.3,168.1 556.5,171.4 556.8,168.2 557,166.3 557.3,180.4 557.5,176.3 557.8,174.1 558,178.5 558.3,169.9 558.5,175.5 558.8,180.4 559,179.4 559.3,171.1 559.5,168 559.8,177.4 560,167.4 560.2,167.7 560.5,161.2 560.7,172.4 561,164.1 561.2,174 561.5,170.6 561.7,171.5 562,178.7 562.2,182.2 562.5,184.1 562.7,190 563,189.7 563.2,172.3 563.5,174 563.7,167.4 564,168 564.2,173.3 564.5,161.6 564.7,165.9 564.9,178.6 565.2,177.6 565.4,162 565.7,178.5 565.9,167.1 566.2,174.8 566.4,169.5 566.7,177.8 566.9,171.5 567.2,174.4 567.4,179.1 567.7,174.9 567.9,166.9 568.2,181.4 568.4,185.7 568.7,166.7 568.9,176.2 569.2,169.2 569.4,185.8 569.7,176.9 569.9,177.3 570.1,182 570.4,169 570.6,165 570.9,167.6 571.1,171.9 571.4,168.9 571.6,168.2 571.9,170.1 572.1,165.3 572.4,166.2 572.6,166.8 572.9,171.1 573.1,174.9 573.4,178 573.6,176.3 573.9,176.6 574.1,173.5 574.4,169.4 574.6,178.6 574.9,177.9 575.1,176.3 575.3,171.6 575.6,166.1 575.8,168.4 576.1,181.3 576.3,169.6 576.6,173.5 576.8,179 577.1,174.3 577.3,174.6 577.6,172.8 577.8,177 578.1,170.1 578.3,177.9 578.6,182.8 578.8,175.9 579.1,174.5 579.3,179.7 579.6,185.8 579.8,175.2 580,185.2 580.3,170.1 580.5,170.9 580.8,171.5 581,174.1 581.3,181.3 581.5,178.4 581.8,166.1 582,175 582.3,176 582.5,187.3 582.8,178.8 583,182.4 583.3,169.8 583.5,173 583.8,174.5 584,178.5 584.3,174.5 584.5,169.9 584.8,174.5 585,172.8 585.2,174.9 585.5,176.8 585.7,175.4 586,181.5 586.2,178.8 586.5,177.5 586.7,177.4 587,174.9 587.2,173.5 587.5,171.9 587.7,170.6 588,176 588.2,184.3 588.5,183.1 588.7,192 589,171.6 589.2,173 589.5,170.1 589.7,175.2 589.9,176 590.2,180.2 590.4,173.9 590.7,177.7 590.9,180.9 591.2,182.6 591.4,175.2 591.7,179.7 591.9,175.6 592.2,168.4 592.4,166.2 592.7,180.4 592.9,184.7 593.2,178.6 593.4,169.5 593.7,181.3 593.9,175.2 594.2,176.7 594.4,179.3 594.7,172.2 594.9,175.9 595.1,176.1 595.4,175.4 595.6,163.1 595.9,175 596.1,178.5 596.4,168.7 596.6,176.8 596.9,171.2 597.1,173.5 597.4,174.3 597.6,168.1 597.9,161.1 598.1,176.2 598.4,173.3 598.6,180.9 598.9,165.2 599.1,186.9 599.4,170.5 599.6,177.3 599.9,172.4 600.1,176.2 600.3,189.7 600.6,182 600.8,180.8 601.1,172 601.3,171.4 601.6,174.6 601.8,161.5 602.1,170.7 602.3,179.6 602.6,161.3 602.8,164.3 603.1,180.9 603.3,177.5 603.6,164.3 603.8,172.9 604.1,165.6 604.3,176.8 604.6,178.1 604.8,181.4 605,183.5 605.3,187.1 605.5,182.8 605.8,181.7 606,178 606.3,175.2 606.5,176.5 606.8,168 607,177 607.3,175.1 607.5,168.1 607.8,170.4 608,170.8 608.3,172.2 608.5,165.7 608.8,171.8 609,182.7 609.3,183.7 609.5,172.2 609.8,180.7 610,171.3 610.2,179.8 610.5,169.2 610.7,182.3 611,170.8 611.2,175.1 611.5,171.3 611.7,169.9 612,179.3 612.2,171.7 612.5,174.4 612.7,177 613,176.1 613.2,175.2 613.5,187.2 613.7,176.8 614,178.2 614.2,177.7 614.5,174.9 614.7,174.2 614.9,169.6 615.2,173.8 615.4,169.7 615.7,164.7 615.9,169.7 616.2,168.8 616.4,168.4 616.7,174.1 616.9,170.4 617.2,163.6 617.4,171.3 617.7,169.3 617.9,166.6 618.2,168.6 618.4,177.3 618.7,167.1 618.9,180 619.2,167.1 619.4,170.8 619.7,171.6 619.9,181.3 620.1,175.7 620.4,187.8 620.6,179.2 620.9,169.7 621.1,175.1 621.4,186.1 621.6,173.1 621.9,174.3 622.1,176.9 622.4,168.3 622.6,167.2 622.9,176.4 623.1,171.5 623.4,174.9 623.6,178.5 623.9,173.1 624.1,166.7 624.4,174 624.6,176.8 624.9,172.7 625.1,181.1 625.3,165.1 625.6,177.5 625.8,170.7 626.1,166.4 626.3,172.2 626.6,180 626.8,184.3 627.1,180.9 627.3,180.5 627.6,185.9 627.8,169.3 628.1,180.5 628.3,185.4 628.6,175.5 628.8,193 629.1,177 629.3,164.9 629.6,173.9 629.8,176.1 630,177 630.3,173.8 630.5,176 630.8,179.2 631,177 631.3,171.7 631.5,177.2 631.8,166.1 632,173 632.3,170.6 632.5,183.9 632.8,164.1 633,174.1 633.3,166.7 633.5,173.8 633.8,182.4 634,186.2 634.3,184.1 634.5,177 634.8,177.8 635,173 635.2,174.7 635.5,181 635.7,172.1 636,175.6 636.2,180.5 636.5,178.3 636.7,172.3 637,172.1 637.2,176.1 637.5,173.7 637.7,176 638,177.9 638.2,174.6 638.5,169.6 638.7,177.1 639,180 639.2,161.4 639.5,171.4 639.7,163.6 639.9,170.4 640.2,179.2 640.4,187.5 640.7,179.2 640.9,179.7 641.2,177.3 641.4,177.7 641.7,178.7 641.9,171.7 642.2,176.3 642.4,167.1 642.7,178.2 642.9,170.1 643.2,175.3 643.4,187.4 643.7,177.9 643.9,175 644.2,177.5 644.4,177 644.7,171.9 644.9,175.8 645.1,177.4 645.4,178.1 645.6,180 645.9,174.6 646.1,168.8 646.4,181.8 646.6,175.1 646.9,184.2 647.1,179.5 647.4,182.8 647.6,177.5 647.9,185.9 648.1,172.6 648.4,175.5 648.6,172.7 648.9,173.1 649.1,167.9 649.4,171.4 649.6,182.1 649.8,176.9 650.1,175.5 650.3,175 650.6,173.8 650.8,167 651.1,172.7 651.3,176.9 651.6,176.1 651.8,171.2 652.1,176.1 652.3,180.7 652.6,180.7 652.8,172.4 653.1,174.9 653.3,176.1 653.6,179 653.8,179.8 654.1,177.7 654.3,173.8 654.6,170.6 654.8,172.3 655,170.9 655.3,172.9 655.5,171.7 655.8,184.4 656,178.3 656.3,175.2 656.5,181.4 656.8,165.7 657,174.4 657.3,177.6 657.5,173.7 657.8,178.2 658,179 658.3,167.8 658.5,172.1 658.8,182.6 659,171.2 659.3,180.3 659.5,183.8 659.8,191.3 660,190.6 660.2,188.2 660.5,174.9 660.7,179.2 661,177.4 661.2,172.7 661.5,177.1 661.7,175.7 662,168 662.2,175.1 662.5,174.1 662.7,163.4 663,180.6 663.2,175.7 663.5,179.4 663.7,188.3 664,172.1 664.2,175.6 664.5,179.7 664.7,179.1 664.9,174.3 665.2,173.1 665.4,179.2 665.7,184 665.9,181.5 666.2,188.9 666.4,176.4 666.7,182.5 666.9,195.1 667.2,181.4 667.4,172.5 667.7,177.4 667.9,177.9 668.2,184.3 668.4,182.3 668.7,172.4 668.9,182.9 669.2,182.2 669.4,179.1 669.7,190.8 669.9,179.7 670.1,180.1 670.4,180.7 670.6,180 670.9,183.1 671.1,185.1 671.4,182.5" fill="none" stroke="#ff1a1a" stroke-width="0.85" stroke-dasharray="2.6 1.8" clip-path="url(#cf)"/>
<rect x="494.9" y="132.5" width="176.5" height="92.1" fill="none" stroke="#555555" stroke-width="1"/>
<line x1="525.84" y1="224.6" x2="525.84" y2="222.8" stroke="#555555" stroke-width="0.8"/>
<line x1="525.84" y1="132.5" x2="525.84" y2="134.3" stroke="#555555" stroke-width="0.8"/>
<line x1="556.78" y1="224.6" x2="556.78" y2="222.8" stroke="#555555" stroke-width="0.8"/>
<line x1="556.78" y1="132.5" x2="556.78" y2="134.3" stroke="#555555" stroke-width="0.8"/>
<line x1="587.72" y1="224.6" x2="587.72" y2="222.8" stroke="#555555" stroke-width="0.8"/>
<line x1="587.72" y1="132.5" x2="587.72" y2="134.3" stroke="#555555" stroke-width="0.8"/>
<line x1="618.66" y1="224.6" x2="618.66" y2="222.8" stroke="#555555" stroke-width="0.8"/>
<line x1="618.66" y1="132.5" x2="618.66" y2="134.3" stroke="#555555" stroke-width="0.8"/>
<line x1="649.6" y1="224.6" x2="649.6" y2="222.8" stroke="#555555" stroke-width="0.8"/>
<line x1="649.6" y1="132.5" x2="649.6" y2="134.3" stroke="#555555" stroke-width="0.8"/>
<line x1="494.9" y1="201.57" x2="496.7" y2="201.57" stroke="#555555" stroke-width="0.8"/>
<line x1="671.4" y1="201.57" x2="669.6" y2="201.57" stroke="#555555" stroke-width="0.8"/>
<line x1="494.9" y1="178.55" x2="496.7" y2="178.55" stroke="#555555" stroke-width="0.8"/>
<line x1="671.4" y1="178.55" x2="669.6" y2="178.55" stroke="#555555" stroke-width="0.8"/>
<line x1="494.9" y1="155.52" x2="496.7" y2="155.52" stroke="#555555" stroke-width="0.8"/>
<line x1="671.4" y1="155.52" x2="669.6" y2="155.52" stroke="#555555" stroke-width="0.8"/>
<text x="31.6" y="232.9" text-anchor="middle" font-family="Liberation Sans" font-size="8.2" fill="#3a3a3a" textLength="4.19" lengthAdjust="spacingAndGlyphs">0</text>
<text x="59.7" y="232.9" text-anchor="middle" font-family="Liberation Sans" font-size="8.2" fill="#3a3a3a" textLength="16.78" lengthAdjust="spacingAndGlyphs">2000</text>
<text x="87.3" y="232.9" text-anchor="middle" font-family="Liberation Sans" font-size="8.2" fill="#3a3a3a" textLength="16.78" lengthAdjust="spacingAndGlyphs">4000</text>
<text x="115.4" y="232.9" text-anchor="middle" font-family="Liberation Sans" font-size="8.2" fill="#3a3a3a" textLength="16.78" lengthAdjust="spacingAndGlyphs">6000</text>
<text x="143.2" y="232.9" text-anchor="middle" font-family="Liberation Sans" font-size="8.2" fill="#3a3a3a" textLength="16.78" lengthAdjust="spacingAndGlyphs">8000</text>
<text x="171.6" y="232.9" text-anchor="middle" font-family="Liberation Sans" font-size="8.2" fill="#3a3a3a" textLength="20.97" lengthAdjust="spacingAndGlyphs">10000</text>
<text x="199.7" y="232.9" text-anchor="middle" font-family="Liberation Sans" font-size="8.2" fill="#3a3a3a" textLength="20.97" lengthAdjust="spacingAndGlyphs">12000</text>
<text x="29.2" y="141.4" text-anchor="end" font-family="Liberation Sans" font-size="8.2" fill="#3a3a3a" textLength="4.19" lengthAdjust="spacingAndGlyphs">6</text>
<text x="29.2" y="157.2" text-anchor="end" font-family="Liberation Sans" font-size="8.2" fill="#3a3a3a" textLength="4.19" lengthAdjust="spacingAndGlyphs">4</text>
<text x="29.2" y="172.1" text-anchor="end" font-family="Liberation Sans" font-size="8.2" fill="#3a3a3a" textLength="4.19" lengthAdjust="spacingAndGlyphs">2</text>
<text x="29.2" y="187.6" text-anchor="end" font-family="Liberation Sans" font-size="8.2" fill="#3a3a3a" textLength="4.19" lengthAdjust="spacingAndGlyphs">0</text>
<text x="29.2" y="203.8" text-anchor="end" font-family="Liberation Sans" font-size="8.2" fill="#3a3a3a" textLength="6.71" lengthAdjust="spacingAndGlyphs">-2</text>
<text x="29.2" y="219.2" text-anchor="end" font-family="Liberation Sans" font-size="8.2" fill="#3a3a3a" textLength="6.71" lengthAdjust="spacingAndGlyphs">-4</text>
<text x="263.4" y="235.1" text-anchor="middle" font-family="Liberation Sans" font-size="8.2" fill="#3a3a3a" textLength="4.19" lengthAdjust="spacingAndGlyphs">0</text>
<text x="294.8" y="235.1" text-anchor="middle" font-family="Liberation Sans" font-size="8.2" fill="#3a3a3a" textLength="16.78" lengthAdjust="spacingAndGlyphs">2000</text>
<text x="322.6" y="235.1" text-anchor="middle" font-family="Liberation Sans" font-size="8.2" fill="#3a3a3a" textLength="16.78" lengthAdjust="spacingAndGlyphs">4000</text>
<text x="350.8" y="235.1" text-anchor="middle" font-family="Liberation Sans" font-size="8.2" fill="#3a3a3a" textLength="16.78" lengthAdjust="spacingAndGlyphs">6000</text>
<text x="378.5" y="235.1" text-anchor="middle" font-family="Liberation Sans" font-size="8.2" fill="#3a3a3a" textLength="16.78" lengthAdjust="spacingAndGlyphs">8000</text>
<text x="407.1" y="235.1" text-anchor="middle" font-family="Liberation Sans" font-size="8.2" fill="#3a3a3a" textLength="20.97" lengthAdjust="spacingAndGlyphs">10000</text>
<text x="434.7" y="235.1" text-anchor="middle" font-family="Liberation Sans" font-size="8.2" fill="#3a3a3a" textLength="20.97" lengthAdjust="spacingAndGlyphs">12000</text>
<text x="262" y="136.9" text-anchor="end" font-family="Liberation Sans" font-size="8.2" fill="#3a3a3a" textLength="4.19" lengthAdjust="spacingAndGlyphs">6</text>
<text x="262" y="152.3" text-anchor="end" font-family="Liberation Sans" font-size="8.2" fill="#3a3a3a" textLength="4.19" lengthAdjust="spacingAndGlyphs">4</text>
<text x="262" y="169.4" text-anchor="end" font-family="Liberation Sans" font-size="8.2" fill="#3a3a3a" textLength="4.19" lengthAdjust="spacingAndGlyphs">2</text>
<text x="262" y="186.1" text-anchor="end" font-family="Liberation Sans" font-size="8.2" fill="#3a3a3a" textLength="4.19" lengthAdjust="spacingAndGlyphs">0</text>
<text x="262" y="202.7" text-anchor="end" font-family="Liberation Sans" font-size="8.2" fill="#3a3a3a" textLength="6.71" lengthAdjust="spacingAndGlyphs">-2</text>
<text x="262" y="221.1" text-anchor="end" font-family="Liberation Sans" font-size="8.2" fill="#3a3a3a" textLength="6.71" lengthAdjust="spacingAndGlyphs">-4</text>
<text x="494.8" y="233.8" text-anchor="middle" font-family="Liberation Sans" font-size="8.2" fill="#3a3a3a" textLength="4.19" lengthAdjust="spacingAndGlyphs">0</text>
<text x="525.3" y="233.8" text-anchor="middle" font-family="Liberation Sans" font-size="8.2" fill="#3a3a3a" textLength="16.78" lengthAdjust="spacingAndGlyphs">2000</text>
<text x="554.7" y="233.8" text-anchor="middle" font-family="Liberation Sans" font-size="8.2" fill="#3a3a3a" textLength="16.78" lengthAdjust="spacingAndGlyphs">4000</text>
<text x="585.7" y="233.8" text-anchor="middle" font-family="Liberation Sans" font-size="8.2" fill="#3a3a3a" textLength="16.78" lengthAdjust="spacingAndGlyphs">6000</text>
<text x="615.9" y="233.8" text-anchor="middle" font-family="Liberation Sans" font-size="8.2" fill="#3a3a3a" textLength="16.78" lengthAdjust="spacingAndGlyphs">8000</text>
<text x="647.7" y="233.8" text-anchor="middle" font-family="Liberation Sans" font-size="8.2" fill="#3a3a3a" textLength="20.97" lengthAdjust="spacingAndGlyphs">10000</text>
<text x="674.5" y="233.8" text-anchor="middle" font-family="Liberation Sans" font-size="8.2" fill="#3a3a3a" textLength="20.97" lengthAdjust="spacingAndGlyphs">12000</text>
<text x="492.2" y="136.9" text-anchor="end" font-family="Liberation Sans" font-size="8.2" fill="#3a3a3a" textLength="8.39" lengthAdjust="spacingAndGlyphs">10</text>
<text x="492.2" y="158.7" text-anchor="end" font-family="Liberation Sans" font-size="8.2" fill="#3a3a3a" textLength="4.19" lengthAdjust="spacingAndGlyphs">5</text>
<text x="492.2" y="182.5" text-anchor="end" font-family="Liberation Sans" font-size="8.2" fill="#3a3a3a" textLength="4.19" lengthAdjust="spacingAndGlyphs">0</text>
<text x="492.2" y="205.1" text-anchor="end" font-family="Liberation Sans" font-size="8.2" fill="#3a3a3a" textLength="6.71" lengthAdjust="spacingAndGlyphs">-5</text>
<text x="492.2" y="226.3" text-anchor="end" font-family="Liberation Sans" font-size="8.2" fill="#3a3a3a" textLength="10.9" lengthAdjust="spacingAndGlyphs">-10</text>
<text x="122.35" y="243.9" text-anchor="middle" font-family="Liberation Sans" font-size="9" fill="#3a3a3a" textLength="28.9" lengthAdjust="spacingAndGlyphs">Time(s)</text>
<text x="357.1" y="245.8" text-anchor="middle" font-family="Liberation Sans" font-size="9" fill="#3a3a3a" textLength="28.4" lengthAdjust="spacingAndGlyphs">Time(s)</text>
<text x="587.75" y="245.5" text-anchor="middle" font-family="Liberation Sans" font-size="9" fill="#3a3a3a" textLength="28.5" lengthAdjust="spacingAndGlyphs">Time(s)</text>
<text x="0" y="0" text-anchor="middle" font-family="Liberation Sans" font-size="9.5" fill="#3a3a3a" transform="translate(18.3,172) rotate(-90)" textLength="32.7" lengthAdjust="spacingAndGlyphs" dy="3.3">Error(%)</text>
<text x="0" y="0" text-anchor="middle" font-family="Liberation Sans" font-size="9.5" fill="#3a3a3a" transform="translate(248.5,174.2) rotate(-90)" textLength="32.3" lengthAdjust="spacingAndGlyphs" dy="3.3">Error(%)</text>
<text x="0" y="0" text-anchor="middle" font-family="Liberation Sans" font-size="9.5" fill="#3a3a3a" transform="translate(482.2,174.7) rotate(-90)" textLength="33.3" lengthAdjust="spacingAndGlyphs" dy="3.3">Error(%)</text>
<rect x="129.2" y="7.2" width="73.3" height="21" fill="#fff" stroke="#555555" stroke-width="1"/>
<line x1="130.9" y1="11.6" x2="143.4" y2="11.6" stroke="#000" stroke-width="1.5"/>
<text x="147.2" y="14.8" font-family="Liberation Serif" font-size="7.2" fill="#000" stroke="#000" stroke-width="0.1" font-style="italic" textLength="24.6" lengthAdjust="spacingAndGlyphs">Measured</text>
<line x1="130.9" y1="18.1" x2="143.4" y2="18.1" stroke="#1a1aff" stroke-width="1.7" stroke-dasharray="4.2 4.1"/>
<text x="147.2" y="21.1" font-family="Liberation Serif" font-size="7.2" fill="#000" stroke="#000" stroke-width="0.1" textLength="16.8" lengthAdjust="spacingAndGlyphs">LSTM</text>
<line x1="130.9" y1="24.5" x2="143.4" y2="24.5" stroke="#ff1a1a" stroke-width="1.7" stroke-dasharray="4.2 4.1"/>
<text x="147.2" y="28" font-family="Liberation Serif" font-size="7.2" fill="#000" stroke="#000" stroke-width="0.1" textLength="53.5" lengthAdjust="spacingAndGlyphs">SWATB-CNN-LSTM</text>
<rect x="364.2" y="5.5" width="73.2" height="21.2" fill="#fff" stroke="#555555" stroke-width="1"/>
<line x1="365.6" y1="9.9" x2="378.1" y2="9.9" stroke="#000" stroke-width="1.5"/>
<text x="381.5" y="13.1" font-family="Liberation Serif" font-size="7.2" fill="#000" stroke="#000" stroke-width="0.1" font-style="italic" textLength="24.6" lengthAdjust="spacingAndGlyphs">Measured</text>
<line x1="365.6" y1="16.4" x2="378.1" y2="16.4" stroke="#1a1aff" stroke-width="1.7" stroke-dasharray="4.2 4.1"/>
<text x="381.5" y="19.4" font-family="Liberation Serif" font-size="7.2" fill="#000" stroke="#000" stroke-width="0.1" textLength="16.8" lengthAdjust="spacingAndGlyphs">LSTM</text>
<line x1="365.6" y1="22.8" x2="378.1" y2="22.8" stroke="#ff1a1a" stroke-width="1.7" stroke-dasharray="4.2 4.1"/>
<text x="381.5" y="26.3" font-family="Liberation Serif" font-size="7.2" fill="#000" stroke="#000" stroke-width="0.1" textLength="53.5" lengthAdjust="spacingAndGlyphs">SWATB-CNN-LSTM</text>
<rect x="598.8" y="7.2" width="72.9" height="21" fill="#fff" stroke="#555555" stroke-width="1"/>
<line x1="600.1" y1="11.6" x2="612.6" y2="11.6" stroke="#000" stroke-width="1.5"/>
<text x="616.5" y="14.8" font-family="Liberation Serif" font-size="7.2" fill="#000" stroke="#000" stroke-width="0.1" font-style="italic" textLength="24.6" lengthAdjust="spacingAndGlyphs">Measured</text>
<line x1="600.1" y1="18.1" x2="612.6" y2="18.1" stroke="#1a1aff" stroke-width="1.7" stroke-dasharray="4.2 4.1"/>
<text x="616.5" y="21.1" font-family="Liberation Serif" font-size="7.2" fill="#000" stroke="#000" stroke-width="0.1" textLength="16.8" lengthAdjust="spacingAndGlyphs">LSTM</text>
<line x1="600.1" y1="24.5" x2="612.6" y2="24.5" stroke="#ff1a1a" stroke-width="1.7" stroke-dasharray="4.2 4.1"/>
<text x="616.5" y="28" font-family="Liberation Serif" font-size="7.2" fill="#000" stroke="#000" stroke-width="0.1" textLength="53.5" lengthAdjust="spacingAndGlyphs">SWATB-CNN-LSTM</text>
<rect x="132.5" y="134.6" width="71.6" height="13.8" fill="#fff" stroke="#555555" stroke-width="1"/>
<line x1="133.8" y1="139.1" x2="146.2" y2="139.1" stroke="#1a1aff" stroke-width="1.7" stroke-dasharray="4.4 4.1"/>
<text x="149.8" y="142.3" font-family="Liberation Serif" font-size="7.2" fill="#000" stroke="#000" stroke-width="0.1" textLength="16.8" lengthAdjust="spacingAndGlyphs">LSTM</text>
<line x1="133.8" y1="145.2" x2="146.2" y2="145.2" stroke="#ff1a1a" stroke-width="1.7" stroke-dasharray="4.4 4.1"/>
<text x="149.8" y="148.8" font-family="Liberation Serif" font-size="7.2" fill="#000" stroke="#000" stroke-width="0.1" textLength="53.5" lengthAdjust="spacingAndGlyphs">SWATB-CNN-LSTM</text>
<rect x="364" y="136.4" width="72.5" height="13.7" fill="#fff" stroke="#555555" stroke-width="1"/>
<line x1="365.2" y1="140.9" x2="377.6" y2="140.9" stroke="#1a1aff" stroke-width="1.7" stroke-dasharray="4.4 4.1"/>
<text x="380.6" y="144.1" font-family="Liberation Serif" font-size="7.2" fill="#000" stroke="#000" stroke-width="0.1" textLength="16.8" lengthAdjust="spacingAndGlyphs">LSTM</text>
<line x1="365.2" y1="147" x2="377.6" y2="147" stroke="#ff1a1a" stroke-width="1.7" stroke-dasharray="4.4 4.1"/>
<text x="380.6" y="150.6" font-family="Liberation Serif" font-size="7.2" fill="#000" stroke="#000" stroke-width="0.1" textLength="53.5" lengthAdjust="spacingAndGlyphs">SWATB-CNN-LSTM</text>
<rect x="595.2" y="136.5" width="72.7" height="13.7" fill="#fff" stroke="#555555" stroke-width="1"/>
<line x1="596.9" y1="141" x2="609.3" y2="141" stroke="#1a1aff" stroke-width="1.7" stroke-dasharray="4.4 4.1"/>
<text x="612.3" y="144.2" font-family="Liberation Serif" font-size="7.2" fill="#000" stroke="#000" stroke-width="0.1" textLength="16.8" lengthAdjust="spacingAndGlyphs">LSTM</text>
<line x1="596.9" y1="147.1" x2="609.3" y2="147.1" stroke="#ff1a1a" stroke-width="1.7" stroke-dasharray="4.4 4.1"/>
<text x="612.3" y="150.7" font-family="Liberation Serif" font-size="7.2" fill="#000" stroke="#000" stroke-width="0.1" textLength="53.5" lengthAdjust="spacingAndGlyphs">SWATB-CNN-LSTM</text>
</svg>
</body></html>
